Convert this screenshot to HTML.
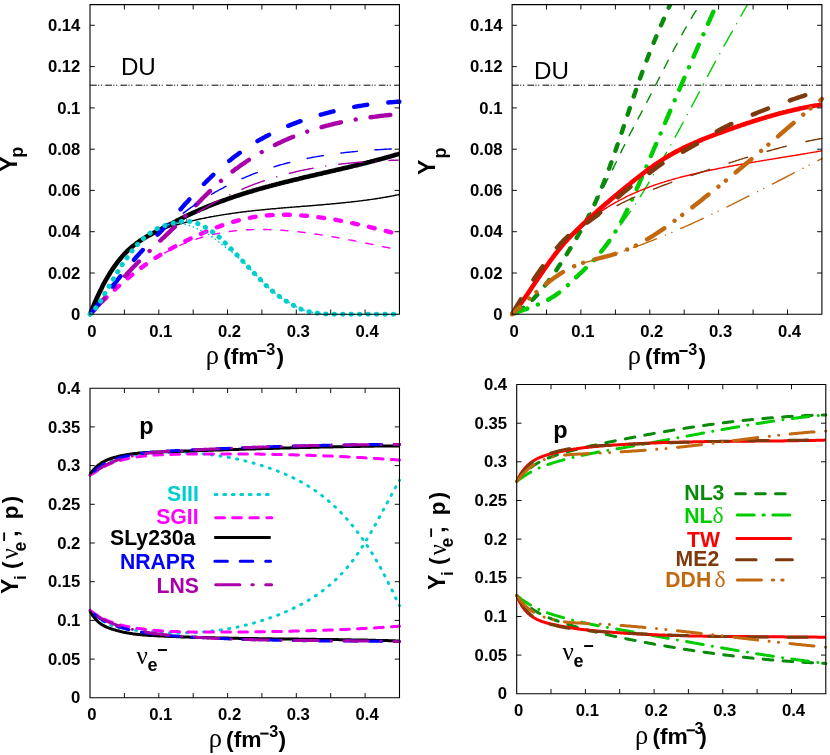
<!DOCTYPE html>
<html>
<head>
<meta charset="utf-8">
<title>Proton fraction and lepton fractions</title>
<style>
html, body { margin: 0; padding: 0; background: #ffffff; }
body { width: 830px; height: 755px; overflow: hidden; font-family: "Liberation Sans", sans-serif; }
svg { display: block; will-change: transform; }
</style>
</head>
<body>
<svg width="830" height="755" viewBox="0 0 830 755" font-family="'Liberation Sans', sans-serif">
<rect width="830" height="755" fill="#ffffff"/>
<clipPath id="c1"><rect x="87.0" y="4.7" width="315.4" height="312.7"/></clipPath>
<clipPath id="c2"><rect x="509.1" y="4.7" width="315.8" height="312.7"/></clipPath>
<clipPath id="c3"><rect x="87.0" y="388.2" width="315.5" height="312.6"/></clipPath>
<clipPath id="c4"><rect x="513.7" y="384.5" width="315.1" height="312.3"/></clipPath>
<g clip-path="url(#c1)">
<path d="M90.0 85.2H399.4" stroke="#000" stroke-width="1" stroke-dasharray="6.7 1.4 1.1 1.7 1.1 3.2" fill="none"/>
<path d="M158.8 230.5L159.8 230.1L160.8 229.8L161.8 229.4L162.8 229.1L163.8 228.8L164.8 228.5L165.8 228.1L166.8 227.8L167.8 227.5L168.8 227.2L169.8 226.9L170.9 226.6L171.9 226.2L172.9 225.9L173.9 225.7L174.9 225.4L175.9 225.1L176.9 224.8L177.9 224.5L178.9 224.2L179.9 223.9L180.9 223.7L181.9 223.4L182.9 223.1L183.9 222.9L184.9 222.6L186.0 222.3L187.0 222.1L188.0 221.8L189.0 221.6L190.0 221.3L191.0 221.1L192.0 220.9L193.0 220.6L194.0 220.4L195.0 220.2L196.0 219.9L197.0 219.7L198.0 219.5L199.0 219.3L200.1 219.0L201.1 218.8L202.1 218.6L203.1 218.4L204.1 218.2L205.1 218.0L206.1 217.8L207.1 217.6L208.1 217.4L209.1 217.2L210.1 217.0L211.1 216.8L212.1 216.6L213.1 216.5L214.2 216.3L215.2 216.1L216.2 215.9L217.2 215.7L218.2 215.6L219.2 215.4L220.2 215.2L221.2 215.1L222.2 214.9L223.2 214.7L224.2 214.6L225.2 214.4L226.2 214.3L227.2 214.1L228.3 214.0L229.3 213.8L230.3 213.7L231.3 213.5L232.3 213.4L233.3 213.2L234.3 213.1L235.3 213.0L236.3 212.8L237.3 212.7L238.3 212.5L239.3 212.4L240.3 212.3L241.3 212.2L242.4 212.0L243.4 211.9L244.4 211.8L245.4 211.7L246.4 211.5L247.4 211.4L248.4 211.3L249.4 211.2L250.4 211.1L251.4 211.0L252.4 210.8L253.4 210.7L254.4 210.6L255.4 210.5L256.4 210.4L257.5 210.3L258.5 210.2L259.5 210.1L260.5 210.0L261.5 209.9L262.5 209.8L263.5 209.7L264.5 209.6L265.5 209.5L266.5 209.4L267.5 209.3L268.5 209.2L269.5 209.1L270.5 209.0L271.6 208.9L272.6 208.8L273.6 208.7L274.6 208.7L275.6 208.6L276.6 208.5L277.6 208.4L278.6 208.3L279.6 208.2L280.6 208.1L281.6 208.0L282.6 208.0L283.6 207.9L284.6 207.8L285.7 207.7L286.7 207.6L287.7 207.5L288.7 207.5L289.7 207.4L290.7 207.3L291.7 207.2L292.7 207.1L293.7 207.1L294.7 207.0L295.7 206.9L296.7 206.8L297.7 206.7L298.7 206.7L299.8 206.6L300.8 206.5L301.8 206.4L302.8 206.3L303.8 206.3L304.8 206.2L305.8 206.1L306.8 206.0L307.8 205.9L308.8 205.9L309.8 205.8L310.8 205.7L311.8 205.6L312.8 205.5L313.9 205.4L314.9 205.4L315.9 205.3L316.9 205.2L317.9 205.1L318.9 205.0L319.9 204.9L320.9 204.9L321.9 204.8L322.9 204.7L323.9 204.6L324.9 204.5L325.9 204.4L326.9 204.3L327.9 204.3L329.0 204.2L330.0 204.1L331.0 204.0L332.0 203.9L333.0 203.8L334.0 203.7L335.0 203.6L336.0 203.5L337.0 203.4L338.0 203.3L339.0 203.2L340.0 203.1L341.0 203.0L342.0 202.9L343.1 202.8L344.1 202.7L345.1 202.6L346.1 202.5L347.1 202.4L348.1 202.3L349.1 202.2L350.1 202.1L351.1 202.0L352.1 201.8L353.1 201.7L354.1 201.6L355.1 201.5L356.1 201.4L357.2 201.3L358.2 201.1L359.2 201.0L360.2 200.9L361.2 200.8L362.2 200.6L363.2 200.5L364.2 200.4L365.2 200.2L366.2 200.1L367.2 200.0L368.2 199.8L369.2 199.7L370.2 199.6L371.3 199.4L372.3 199.3L373.3 199.1L374.3 199.0L375.3 198.8L376.3 198.7L377.3 198.5L378.3 198.4L379.3 198.2L380.3 198.0L381.3 197.9L382.3 197.7L383.3 197.5L384.3 197.4L385.4 197.2L386.4 197.0L387.4 196.8L388.4 196.7L389.4 196.5L390.4 196.3L391.4 196.1L392.4 195.9L393.4 195.7L394.4 195.5L395.4 195.3L396.4 195.1L397.4 194.9L398.4 194.7L399.4 194.5" fill="none" stroke="#000000" stroke-width="1.45" stroke-linejoin="round" stroke-linecap="butt"/>
<path d="M90.0 314.3L91.3 311.0L92.6 307.8L93.9 304.8L95.2 301.7L96.5 298.8L97.8 296.0L99.1 293.2L100.4 290.6L101.7 288.0L102.9 285.4L104.2 283.0L105.5 280.6L106.8 278.4L108.1 276.1L109.4 274.0L110.7 271.9L112.0 269.9L113.3 268.0L114.6 266.1L115.9 264.3L117.2 262.6L118.5 260.9L119.8 259.3L121.1 257.7L122.4 256.2L123.7 254.8L125.0 253.4L126.3 252.1L127.5 250.8L128.8 249.6L130.1 248.4L131.4 247.3L132.7 246.2L134.0 245.2L135.3 244.2L136.6 243.2L137.9 242.3L139.2 241.4L140.5 240.5L141.8 239.7L143.1 238.8L144.4 238.0L145.7 237.3L147.0 236.5L148.3 235.8L149.6 235.1L150.9 234.4L152.1 233.7L153.4 233.0L154.7 232.3L156.0 231.6L157.3 231.0L158.6 230.3L159.9 229.6L161.2 229.0L162.5 228.3L163.8 227.6L165.1 226.9L166.4 226.2L167.7 225.6L169.0 224.9L170.3 224.2L171.6 223.5L172.9 222.9L174.2 222.2L175.5 221.5L176.7 220.8L178.0 220.2L179.3 219.5L180.6 218.9L181.9 218.2L183.2 217.6L184.5 216.9L185.8 216.3L187.1 215.7L188.4 215.0L189.7 214.4L191.0 213.8L192.3 213.2L193.6 212.6L194.9 212.0L196.2 211.4L197.5 210.9L198.8 210.3L200.1 209.7L201.4 209.2L202.6 208.6L203.9 208.1L205.2 207.5L206.5 207.0L207.8 206.4L209.1 205.9L210.4 205.4L211.7 204.9L213.0 204.4L214.3 203.9L215.6 203.4L216.9 202.9L218.2 202.4L219.5 201.9L220.8 201.4L222.1 201.0L223.4 200.5L224.7 200.0L226.0 199.6L227.2 199.1L228.5 198.6L229.8 198.2L231.1 197.8L232.4 197.3L233.7 196.9L235.0 196.4L236.3 196.0L237.6 195.6L238.9 195.2L240.2 194.8L241.5 194.3L242.8 193.9L244.1 193.5L245.4 193.1L246.7 192.7L248.0 192.3L249.3 191.9L250.6 191.5L251.8 191.2L253.1 190.8L254.4 190.4L255.7 190.0L257.0 189.6L258.3 189.3L259.6 188.9L260.9 188.5L262.2 188.2L263.5 187.8L264.8 187.4L266.1 187.1L267.4 186.7L268.7 186.4L270.0 186.0L271.3 185.7L272.6 185.3L273.9 185.0L275.2 184.7L276.4 184.3L277.7 184.0L279.0 183.7L280.3 183.3L281.6 183.0L282.9 182.7L284.2 182.3L285.5 182.0L286.8 181.7L288.1 181.4L289.4 181.1L290.7 180.7L292.0 180.4L293.3 180.1L294.6 179.8L295.9 179.5L297.2 179.2L298.5 178.9L299.8 178.5L301.0 178.2L302.3 177.9L303.6 177.6L304.9 177.3L306.2 177.0L307.5 176.7L308.8 176.4L310.1 176.1L311.4 175.8L312.7 175.5L314.0 175.2L315.3 174.9L316.6 174.6L317.9 174.3L319.2 174.0L320.5 173.7L321.8 173.4L323.1 173.1L324.4 172.8L325.6 172.5L326.9 172.2L328.2 171.9L329.5 171.6L330.8 171.3L332.1 171.0L333.4 170.7L334.7 170.4L336.0 170.1L337.3 169.8L338.6 169.5L339.9 169.2L341.2 168.9L342.5 168.6L343.8 168.3L345.1 168.0L346.4 167.7L347.7 167.4L349.0 167.1L350.2 166.8L351.5 166.5L352.8 166.1L354.1 165.8L355.4 165.5L356.7 165.2L358.0 164.9L359.3 164.6L360.6 164.3L361.9 163.9L363.2 163.6L364.5 163.3L365.8 163.0L367.1 162.6L368.4 162.3L369.7 162.0L371.0 161.6L372.3 161.3L373.6 161.0L374.8 160.6L376.1 160.3L377.4 159.9L378.7 159.6L380.0 159.2L381.3 158.9L382.6 158.5L383.9 158.2L385.2 157.8L386.5 157.5L387.8 157.1L389.1 156.7L390.4 156.4L391.7 156.0L393.0 155.6L394.3 155.2L395.6 154.8L396.9 154.5L398.2 154.1L399.4 153.7" fill="none" stroke="#000000" stroke-width="4.6000000000000005" stroke-linejoin="round" stroke-linecap="butt"/>
<path d="M162.8 254.0L163.7 253.5L164.7 252.9L165.7 252.4L166.7 251.8L167.7 251.3L168.7 250.8L169.7 250.3L170.7 249.8L171.7 249.3L172.7 248.8L173.6 248.3L174.6 247.8L175.6 247.3L176.6 246.9L177.6 246.4L178.6 246.0L179.6 245.5L180.6 245.1L181.6 244.7L182.6 244.2L183.6 243.8L184.5 243.4L185.5 243.0L186.5 242.6L187.5 242.2L188.5 241.9L189.5 241.5L190.5 241.1L191.5 240.8L192.5 240.4L193.5 240.1L194.4 239.7L195.4 239.4L196.4 239.1L197.4 238.7L198.4 238.4L199.4 238.1L200.4 237.8L201.4 237.5L202.4 237.2L203.4 236.9L204.4 236.7L205.3 236.4L206.3 236.1L207.3 235.9L208.3 235.6L209.3 235.4L210.3 235.1L211.3 234.9L212.3 234.6L213.3 234.4L214.3 234.2L215.2 234.0L216.2 233.8L217.2 233.6L218.2 233.4L219.2 233.2L220.2 233.0L221.2 232.8L222.2 232.6L223.2 232.5L224.2 232.3L225.1 232.1L226.1 232.0L227.1 231.8L228.1 231.7L229.1 231.6L230.1 231.4L231.1 231.3L232.1 231.2L233.1 231.0L234.1 230.9L235.1 230.8L236.0 230.7L237.0 230.6L238.0 230.5L239.0 230.4L240.0 230.3L241.0 230.2L242.0 230.2L243.0 230.1L244.0 230.0L245.0 230.0L245.9 229.9L246.9 229.8L247.9 229.8L248.9 229.7L249.9 229.7L250.9 229.7L251.9 229.6L252.9 229.6L253.9 229.6L254.9 229.5L255.8 229.5L256.8 229.5L257.8 229.5L258.8 229.5L259.8 229.5L260.8 229.5L261.8 229.5L262.8 229.5L263.8 229.5L264.8 229.5L265.8 229.5L266.7 229.5L267.7 229.6L268.7 229.6L269.7 229.6L270.7 229.7L271.7 229.7L272.7 229.7L273.7 229.8L274.7 229.8L275.7 229.9L276.6 229.9L277.6 230.0L278.6 230.1L279.6 230.1L280.6 230.2L281.6 230.3L282.6 230.3L283.6 230.4L284.6 230.5L285.6 230.6L286.5 230.6L287.5 230.7L288.5 230.8L289.5 230.9L290.5 231.0L291.5 231.1L292.5 231.2L293.5 231.3L294.5 231.4L295.5 231.5L296.5 231.6L297.4 231.7L298.4 231.8L299.4 231.9L300.4 232.0L301.4 232.2L302.4 232.3L303.4 232.4L304.4 232.5L305.4 232.6L306.4 232.8L307.3 232.9L308.3 233.0L309.3 233.2L310.3 233.3L311.3 233.4L312.3 233.6L313.3 233.7L314.3 233.9L315.3 234.0L316.3 234.2L317.3 234.3L318.2 234.4L319.2 234.6L320.2 234.8L321.2 234.9L322.2 235.1L323.2 235.2L324.2 235.4L325.2 235.5L326.2 235.7L327.2 235.9L328.1 236.0L329.1 236.2L330.1 236.4L331.1 236.5L332.1 236.7L333.1 236.9L334.1 237.0L335.1 237.2L336.1 237.4L337.1 237.6L338.0 237.7L339.0 237.9L340.0 238.1L341.0 238.3L342.0 238.5L343.0 238.6L344.0 238.8L345.0 239.0L346.0 239.2L347.0 239.4L348.0 239.6L348.9 239.8L349.9 240.0L350.9 240.1L351.9 240.3L352.9 240.5L353.9 240.7L354.9 240.9L355.9 241.1L356.9 241.3L357.9 241.5L358.8 241.7L359.8 241.9L360.8 242.1L361.8 242.3L362.8 242.5L363.8 242.7L364.8 242.9L365.8 243.1L366.8 243.3L367.8 243.5L368.7 243.7L369.7 243.9L370.7 244.1L371.7 244.3L372.7 244.5L373.7 244.7L374.7 244.9L375.7 245.1L376.7 245.3L377.7 245.5L378.7 245.7L379.6 246.0L380.6 246.2L381.6 246.4L382.6 246.6L383.6 246.8L384.6 247.0L385.6 247.2L386.6 247.4L387.6 247.6L388.6 247.8L389.5 248.0L390.5 248.2L391.5 248.4L392.5 248.6L393.5 248.8L394.5 249.0L395.5 249.2L396.5 249.4L397.5 249.7L398.5 249.9L399.4 250.1" fill="none" stroke="#ff00ff" stroke-width="1.45" stroke-linejoin="round" stroke-dasharray="7.15 10.05" stroke-linecap="round" stroke-dashoffset="-2"/>
<path d="M90.0 314.3L91.3 312.9L92.6 311.6L93.9 310.2L95.2 308.9L96.5 307.5L97.8 306.2L99.1 304.9L100.4 303.6L101.7 302.2L102.9 301.0L104.2 299.7L105.5 298.4L106.8 297.1L108.1 295.9L109.4 294.6L110.7 293.4L112.0 292.2L113.3 291.0L114.6 289.8L115.9 288.6L117.2 287.4L118.5 286.3L119.8 285.1L121.1 284.0L122.4 282.8L123.7 281.7L125.0 280.6L126.3 279.5L127.5 278.4L128.8 277.4L130.1 276.3L131.4 275.3L132.7 274.2L134.0 273.2L135.3 272.2L136.6 271.2L137.9 270.2L139.2 269.2L140.5 268.3L141.8 267.3L143.1 266.4L144.4 265.4L145.7 264.5L147.0 263.6L148.3 262.7L149.6 261.8L150.9 261.0L152.1 260.1L153.4 259.3L154.7 258.4L156.0 257.6L157.3 256.8L158.6 256.0L159.9 255.2L161.2 254.4L162.5 253.6L163.8 252.8L165.1 252.0L166.4 251.3L167.7 250.5L169.0 249.8L170.3 249.1L171.6 248.4L172.9 247.6L174.2 246.9L175.5 246.2L176.7 245.6L178.0 244.9L179.3 244.2L180.6 243.5L181.9 242.9L183.2 242.2L184.5 241.6L185.8 240.9L187.1 240.3L188.4 239.7L189.7 239.0L191.0 238.4L192.3 237.8L193.6 237.2L194.9 236.6L196.2 236.0L197.5 235.4L198.8 234.8L200.1 234.2L201.4 233.7L202.6 233.1L203.9 232.5L205.2 232.0L206.5 231.4L207.8 230.9L209.1 230.4L210.4 229.8L211.7 229.3L213.0 228.8L214.3 228.3L215.6 227.8L216.9 227.3L218.2 226.8L219.5 226.4L220.8 225.9L222.1 225.4L223.4 225.0L224.7 224.6L226.0 224.1L227.2 223.7L228.5 223.3L229.8 222.9L231.1 222.5L232.4 222.1L233.7 221.7L235.0 221.3L236.3 221.0L237.6 220.6L238.9 220.3L240.2 220.0L241.5 219.6L242.8 219.3L244.1 219.0L245.4 218.7L246.7 218.5L248.0 218.2L249.3 217.9L250.6 217.7L251.8 217.4L253.1 217.2L254.4 217.0L255.7 216.8L257.0 216.6L258.3 216.4L259.6 216.3L260.9 216.1L262.2 215.9L263.5 215.8L264.8 215.7L266.1 215.5L267.4 215.4L268.7 215.3L270.0 215.2L271.3 215.1L272.6 215.1L273.9 215.0L275.2 214.9L276.4 214.9L277.7 214.8L279.0 214.8L280.3 214.8L281.6 214.8L282.9 214.8L284.2 214.7L285.5 214.8L286.8 214.8L288.1 214.8L289.4 214.8L290.7 214.9L292.0 214.9L293.3 214.9L294.6 215.0L295.9 215.1L297.2 215.1L298.5 215.2L299.8 215.3L301.0 215.4L302.3 215.5L303.6 215.6L304.9 215.7L306.2 215.8L307.5 215.9L308.8 216.1L310.1 216.2L311.4 216.3L312.7 216.5L314.0 216.6L315.3 216.8L316.6 216.9L317.9 217.1L319.2 217.3L320.5 217.5L321.8 217.6L323.1 217.8L324.4 218.0L325.6 218.2L326.9 218.4L328.2 218.6L329.5 218.8L330.8 219.0L332.1 219.2L333.4 219.5L334.7 219.7L336.0 219.9L337.3 220.2L338.6 220.4L339.9 220.6L341.2 220.9L342.5 221.1L343.8 221.4L345.1 221.6L346.4 221.9L347.7 222.2L349.0 222.4L350.2 222.7L351.5 223.0L352.8 223.2L354.1 223.5L355.4 223.8L356.7 224.1L358.0 224.4L359.3 224.6L360.6 224.9L361.9 225.2L363.2 225.5L364.5 225.8L365.8 226.1L367.1 226.4L368.4 226.7L369.7 227.0L371.0 227.3L372.3 227.7L373.6 228.0L374.8 228.3L376.1 228.6L377.4 228.9L378.7 229.2L380.0 229.5L381.3 229.9L382.6 230.2L383.9 230.5L385.2 230.8L386.5 231.1L387.8 231.5L389.1 231.8L390.4 232.1L391.7 232.4L393.0 232.8L394.3 233.1L395.6 233.4L396.9 233.8L398.2 234.1L399.4 234.4" fill="none" stroke="#ff00ff" stroke-width="4.4" stroke-linejoin="round" stroke-dasharray="5.80 11.40" stroke-linecap="round" stroke-dashoffset="-0.6"/>
<path d="M159.1 241.2L160.1 240.3L161.1 239.5L162.1 238.6L163.1 237.8L164.1 237.0L165.1 236.1L166.1 235.3L167.2 234.5L168.2 233.7L169.2 232.9L170.2 232.1L171.2 231.3L172.2 230.5L173.2 229.8L174.2 229.0L175.2 228.2L176.2 227.5L177.2 226.7L178.2 226.0L179.2 225.2L180.2 224.5L181.2 223.8L182.2 223.0L183.2 222.3L184.3 221.6L185.3 220.9L186.3 220.2L187.3 219.5L188.3 218.8L189.3 218.1L190.3 217.5L191.3 216.8L192.3 216.1L193.3 215.4L194.3 214.8L195.3 214.1L196.3 213.5L197.3 212.8L198.3 212.2L199.3 211.6L200.3 210.9L201.3 210.3L202.4 209.7L203.4 209.1L204.4 208.5L205.4 207.9L206.4 207.3L207.4 206.7L208.4 206.1L209.4 205.5L210.4 204.9L211.4 204.4L212.4 203.8L213.4 203.2L214.4 202.7L215.4 202.1L216.4 201.6L217.4 201.0L218.4 200.5L219.4 200.0L220.5 199.4L221.5 198.9L222.5 198.4L223.5 197.9L224.5 197.4L225.5 196.9L226.5 196.4L227.5 195.9L228.5 195.4L229.5 194.9L230.5 194.4L231.5 193.9L232.5 193.5L233.5 193.0L234.5 192.5L235.5 192.1L236.5 191.6L237.5 191.2L238.6 190.7L239.6 190.3L240.6 189.8L241.6 189.4L242.6 189.0L243.6 188.6L244.6 188.1L245.6 187.7L246.6 187.3L247.6 186.9L248.6 186.5L249.6 186.1L250.6 185.7L251.6 185.3L252.6 184.9L253.6 184.5L254.6 184.1L255.6 183.8L256.7 183.4L257.7 183.0L258.7 182.7L259.7 182.3L260.7 181.9L261.7 181.6L262.7 181.2L263.7 180.9L264.7 180.6L265.7 180.2L266.7 179.9L267.7 179.6L268.7 179.2L269.7 178.9L270.7 178.6L271.7 178.3L272.7 178.0L273.7 177.7L274.8 177.4L275.8 177.1L276.8 176.8L277.8 176.5L278.8 176.2L279.8 175.9L280.8 175.6L281.8 175.3L282.8 175.0L283.8 174.8L284.8 174.5L285.8 174.2L286.8 174.0L287.8 173.7L288.8 173.4L289.8 173.2L290.8 172.9L291.9 172.7L292.9 172.5L293.9 172.2L294.9 172.0L295.9 171.7L296.9 171.5L297.9 171.3L298.9 171.1L299.9 170.8L300.9 170.6L301.9 170.4L302.9 170.2L303.9 170.0L304.9 169.8L305.9 169.6L306.9 169.4L307.9 169.2L308.9 169.0L310.0 168.8L311.0 168.6L312.0 168.4L313.0 168.2L314.0 168.0L315.0 167.8L316.0 167.7L317.0 167.5L318.0 167.3L319.0 167.1L320.0 167.0L321.0 166.8L322.0 166.6L323.0 166.5L324.0 166.3L325.0 166.2L326.0 166.0L327.0 165.9L328.1 165.7L329.1 165.6L330.1 165.4L331.1 165.3L332.1 165.2L333.1 165.0L334.1 164.9L335.1 164.8L336.1 164.6L337.1 164.5L338.1 164.4L339.1 164.3L340.1 164.1L341.1 164.0L342.1 163.9L343.1 163.8L344.1 163.7L345.1 163.6L346.2 163.5L347.2 163.4L348.2 163.3L349.2 163.2L350.2 163.1L351.2 163.0L352.2 162.9L353.2 162.8L354.2 162.7L355.2 162.6L356.2 162.5L357.2 162.4L358.2 162.3L359.2 162.2L360.2 162.2L361.2 162.1L362.2 162.0L363.2 161.9L364.3 161.8L365.3 161.8L366.3 161.7L367.3 161.6L368.3 161.6L369.3 161.5L370.3 161.4L371.3 161.4L372.3 161.3L373.3 161.2L374.3 161.2L375.3 161.1L376.3 161.1L377.3 161.0L378.3 160.9L379.3 160.9L380.3 160.8L381.3 160.8L382.4 160.7L383.4 160.7L384.4 160.6L385.4 160.6L386.4 160.6L387.4 160.5L388.4 160.5L389.4 160.4L390.4 160.4L391.4 160.3L392.4 160.3L393.4 160.3L394.4 160.2L395.4 160.2L396.4 160.2L397.4 160.1L398.4 160.1L399.4 160.1" fill="none" stroke="#aa00aa" stroke-width="1.45" stroke-linejoin="round" stroke-dasharray="24.05 13.12 0.01 13.12" stroke-linecap="round" stroke-dashoffset="2.5"/>
<path d="M90.0 314.3L91.3 312.9L92.6 311.5L93.9 310.1L95.2 308.6L96.5 307.2L97.8 305.8L99.1 304.4L100.4 303.0L101.7 301.5L102.9 300.1L104.2 298.7L105.5 297.2L106.8 295.8L108.1 294.4L109.4 293.0L110.7 291.5L112.0 290.1L113.3 288.7L114.6 287.3L115.9 285.9L117.2 284.5L118.5 283.0L119.8 281.6L121.1 280.2L122.4 278.8L123.7 277.4L125.0 276.1L126.3 274.7L127.5 273.3L128.8 271.9L130.1 270.6L131.4 269.2L132.7 267.8L134.0 266.5L135.3 265.2L136.6 263.8L137.9 262.5L139.2 261.2L140.5 259.9L141.8 258.6L143.1 257.3L144.4 256.0L145.7 254.7L147.0 253.5L148.3 252.2L149.6 251.0L150.9 249.7L152.1 248.5L153.4 247.2L154.7 246.0L156.0 244.7L157.3 243.5L158.6 242.3L159.9 241.0L161.2 239.8L162.5 238.5L163.8 237.3L165.1 236.1L166.4 234.8L167.7 233.6L169.0 232.3L170.3 231.1L171.6 229.8L172.9 228.5L174.2 227.3L175.5 226.0L176.7 224.7L178.0 223.4L179.3 222.1L180.6 220.8L181.9 219.5L183.2 218.2L184.5 216.8L185.8 215.5L187.1 214.2L188.4 212.9L189.7 211.5L191.0 210.2L192.3 208.9L193.6 207.5L194.9 206.2L196.2 204.9L197.5 203.6L198.8 202.3L200.1 200.9L201.4 199.6L202.6 198.3L203.9 197.0L205.2 195.8L206.5 194.5L207.8 193.2L209.1 191.9L210.4 190.7L211.7 189.5L213.0 188.2L214.3 187.0L215.6 185.8L216.9 184.6L218.2 183.4L219.5 182.3L220.8 181.1L222.1 180.0L223.4 178.9L224.7 177.8L226.0 176.7L227.2 175.7L228.5 174.6L229.8 173.6L231.1 172.6L232.4 171.5L233.7 170.6L235.0 169.6L236.3 168.6L237.6 167.7L238.9 166.7L240.2 165.8L241.5 164.9L242.8 164.0L244.1 163.1L245.4 162.2L246.7 161.3L248.0 160.5L249.3 159.6L250.6 158.8L251.8 158.0L253.1 157.2L254.4 156.4L255.7 155.6L257.0 154.8L258.3 154.0L259.6 153.3L260.9 152.5L262.2 151.8L263.5 151.0L264.8 150.3L266.1 149.6L267.4 148.9L268.7 148.2L270.0 147.5L271.3 146.9L272.6 146.2L273.9 145.5L275.2 144.9L276.4 144.3L277.7 143.6L279.0 143.0L280.3 142.4L281.6 141.8L282.9 141.2L284.2 140.6L285.5 140.0L286.8 139.5L288.1 138.9L289.4 138.4L290.7 137.8L292.0 137.3L293.3 136.8L294.6 136.2L295.9 135.7L297.2 135.2L298.5 134.7L299.8 134.2L301.0 133.8L302.3 133.3L303.6 132.8L304.9 132.4L306.2 131.9L307.5 131.5L308.8 131.0L310.1 130.6L311.4 130.2L312.7 129.8L314.0 129.4L315.3 129.0L316.6 128.6L317.9 128.2L319.2 127.8L320.5 127.4L321.8 127.1L323.1 126.7L324.4 126.3L325.6 126.0L326.9 125.6L328.2 125.3L329.5 125.0L330.8 124.7L332.1 124.3L333.4 124.0L334.7 123.7L336.0 123.4L337.3 123.1L338.6 122.8L339.9 122.5L341.2 122.3L342.5 122.0L343.8 121.7L345.1 121.5L346.4 121.2L347.7 120.9L349.0 120.7L350.2 120.5L351.5 120.2L352.8 120.0L354.1 119.8L355.4 119.5L356.7 119.3L358.0 119.1L359.3 118.9L360.6 118.7L361.9 118.5L363.2 118.3L364.5 118.1L365.8 117.9L367.1 117.7L368.4 117.5L369.7 117.3L371.0 117.2L372.3 117.0L373.6 116.8L374.8 116.6L376.1 116.5L377.4 116.3L378.7 116.2L380.0 116.0L381.3 115.9L382.6 115.7L383.9 115.6L385.2 115.4L386.5 115.3L387.8 115.2L389.1 115.0L390.4 114.9L391.7 114.8L393.0 114.6L394.3 114.5L395.6 114.4L396.9 114.3L398.2 114.2L399.4 114.1" fill="none" stroke="#aa00aa" stroke-width="4.4" stroke-linejoin="round" stroke-dasharray="20.00 15.00 0.01 15.00" stroke-linecap="round" stroke-dashoffset="-2"/>
<path d="M156.1 235.6L157.1 234.7L158.1 233.8L159.1 232.9L160.2 232.0L161.2 231.1L162.2 230.2L163.2 229.3L164.2 228.4L165.2 227.5L166.3 226.6L167.3 225.8L168.3 224.9L169.3 224.1L170.3 223.2L171.4 222.4L172.4 221.6L173.4 220.7L174.4 219.9L175.4 219.1L176.5 218.3L177.5 217.5L178.5 216.7L179.5 215.9L180.5 215.2L181.5 214.4L182.6 213.6L183.6 212.9L184.6 212.1L185.6 211.4L186.6 210.6L187.7 209.9L188.7 209.2L189.7 208.4L190.7 207.7L191.7 207.0L192.7 206.3L193.8 205.6L194.8 204.9L195.8 204.2L196.8 203.5L197.8 202.9L198.9 202.2L199.9 201.5L200.9 200.9L201.9 200.2L202.9 199.6L203.9 198.9L205.0 198.3L206.0 197.6L207.0 197.0L208.0 196.4L209.0 195.8L210.1 195.2L211.1 194.6L212.1 194.0L213.1 193.4L214.1 192.8L215.1 192.2L216.2 191.6L217.2 191.1L218.2 190.5L219.2 189.9L220.2 189.4L221.3 188.8L222.3 188.3L223.3 187.8L224.3 187.2L225.3 186.7L226.3 186.2L227.4 185.6L228.4 185.1L229.4 184.6L230.4 184.1L231.4 183.6L232.5 183.1L233.5 182.6L234.5 182.2L235.5 181.7L236.5 181.2L237.5 180.7L238.6 180.3L239.6 179.8L240.6 179.3L241.6 178.9L242.6 178.4L243.7 178.0L244.7 177.6L245.7 177.1L246.7 176.7L247.7 176.3L248.7 175.9L249.8 175.4L250.8 175.0L251.8 174.6L252.8 174.2L253.8 173.8L254.9 173.4L255.9 173.0L256.9 172.7L257.9 172.3L258.9 171.9L259.9 171.5L261.0 171.2L262.0 170.8L263.0 170.4L264.0 170.1L265.0 169.7L266.1 169.4L267.1 169.0L268.1 168.7L269.1 168.4L270.1 168.0L271.1 167.7L272.2 167.4L273.2 167.1L274.2 166.8L275.2 166.4L276.2 166.1L277.3 165.8L278.3 165.5L279.3 165.2L280.3 164.9L281.3 164.6L282.3 164.4L283.4 164.1L284.4 163.8L285.4 163.5L286.4 163.3L287.4 163.0L288.5 162.7L289.5 162.5L290.5 162.2L291.5 161.9L292.5 161.7L293.6 161.4L294.6 161.2L295.6 161.0L296.6 160.7L297.6 160.5L298.6 160.2L299.7 160.0L300.7 159.8L301.7 159.6L302.7 159.3L303.7 159.1L304.8 158.9L305.8 158.7L306.8 158.5L307.8 158.3L308.8 158.1L309.8 157.9L310.9 157.7L311.9 157.5L312.9 157.3L313.9 157.1L314.9 156.9L316.0 156.8L317.0 156.6L318.0 156.4L319.0 156.2L320.0 156.1L321.0 155.9L322.1 155.7L323.1 155.6L324.1 155.4L325.1 155.2L326.1 155.1L327.2 154.9L328.2 154.8L329.2 154.6L330.2 154.5L331.2 154.3L332.2 154.2L333.3 154.0L334.3 153.9L335.3 153.8L336.3 153.6L337.3 153.5L338.4 153.4L339.4 153.2L340.4 153.1L341.4 153.0L342.4 152.9L343.4 152.8L344.5 152.6L345.5 152.5L346.5 152.4L347.5 152.3L348.5 152.2L349.6 152.1L350.6 152.0L351.6 151.9L352.6 151.8L353.6 151.7L354.6 151.6L355.7 151.5L356.7 151.4L357.7 151.3L358.7 151.2L359.7 151.1L360.8 151.0L361.8 150.9L362.8 150.8L363.8 150.8L364.8 150.7L365.8 150.6L366.9 150.5L367.9 150.4L368.9 150.3L369.9 150.3L370.9 150.2L372.0 150.1L373.0 150.0L374.0 150.0L375.0 149.9L376.0 149.8L377.0 149.8L378.1 149.7L379.1 149.6L380.1 149.6L381.1 149.5L382.1 149.4L383.2 149.4L384.2 149.3L385.2 149.3L386.2 149.2L387.2 149.1L388.2 149.1L389.3 149.0L390.3 149.0L391.3 148.9L392.3 148.9L393.3 148.8L394.4 148.8L395.4 148.7L396.4 148.6L397.4 148.6L398.4 148.5L399.4 148.5" fill="none" stroke="#0000ff" stroke-width="1.45" stroke-linejoin="round" stroke-dasharray="16.35 17.85" stroke-linecap="round" stroke-dashoffset="-1"/>
<path d="M90.0 314.3L91.3 312.7L92.6 311.1L93.9 309.5L95.2 308.0L96.5 306.3L97.8 304.7L99.1 303.1L100.4 301.5L101.7 299.9L102.9 298.3L104.2 296.6L105.5 295.0L106.8 293.4L108.1 291.7L109.4 290.1L110.7 288.5L112.0 286.8L113.3 285.2L114.6 283.6L115.9 282.0L117.2 280.3L118.5 278.7L119.8 277.1L121.1 275.5L122.4 273.9L123.7 272.3L125.0 270.7L126.3 269.1L127.5 267.5L128.8 266.0L130.1 264.4L131.4 262.9L132.7 261.3L134.0 259.8L135.3 258.3L136.6 256.8L137.9 255.3L139.2 253.9L140.5 252.4L141.8 251.0L143.1 249.6L144.4 248.2L145.7 246.9L147.0 245.5L148.3 244.2L149.6 242.9L150.9 241.6L152.1 240.3L153.4 239.0L154.7 237.7L156.0 236.4L157.3 235.0L158.6 233.7L159.9 232.3L161.2 230.9L162.5 229.5L163.8 228.1L165.1 226.7L166.4 225.3L167.7 223.8L169.0 222.4L170.3 220.9L171.6 219.5L172.9 218.0L174.2 216.6L175.5 215.1L176.7 213.6L178.0 212.1L179.3 210.7L180.6 209.2L181.9 207.7L183.2 206.3L184.5 204.8L185.8 203.3L187.1 201.9L188.4 200.5L189.7 199.0L191.0 197.6L192.3 196.2L193.6 194.8L194.9 193.4L196.2 192.0L197.5 190.6L198.8 189.3L200.1 187.9L201.4 186.6L202.6 185.3L203.9 184.0L205.2 182.7L206.5 181.4L207.8 180.1L209.1 178.8L210.4 177.6L211.7 176.3L213.0 175.1L214.3 173.9L215.6 172.7L216.9 171.5L218.2 170.3L219.5 169.2L220.8 168.0L222.1 166.9L223.4 165.8L224.7 164.7L226.0 163.6L227.2 162.5L228.5 161.4L229.8 160.4L231.1 159.4L232.4 158.3L233.7 157.3L235.0 156.3L236.3 155.4L237.6 154.4L238.9 153.4L240.2 152.5L241.5 151.6L242.8 150.7L244.1 149.8L245.4 148.9L246.7 148.0L248.0 147.2L249.3 146.3L250.6 145.5L251.8 144.6L253.1 143.8L254.4 143.0L255.7 142.2L257.0 141.5L258.3 140.7L259.6 139.9L260.9 139.2L262.2 138.5L263.5 137.8L264.8 137.0L266.1 136.3L267.4 135.7L268.7 135.0L270.0 134.3L271.3 133.6L272.6 133.0L273.9 132.4L275.2 131.7L276.4 131.1L277.7 130.5L279.0 129.9L280.3 129.3L281.6 128.7L282.9 128.2L284.2 127.6L285.5 127.0L286.8 126.5L288.1 125.9L289.4 125.4L290.7 124.9L292.0 124.4L293.3 123.9L294.6 123.4L295.9 122.9L297.2 122.4L298.5 121.9L299.8 121.4L301.0 121.0L302.3 120.5L303.6 120.1L304.9 119.6L306.2 119.2L307.5 118.8L308.8 118.3L310.1 117.9L311.4 117.5L312.7 117.1L314.0 116.7L315.3 116.3L316.6 115.9L317.9 115.5L319.2 115.2L320.5 114.8L321.8 114.4L323.1 114.1L324.4 113.7L325.6 113.4L326.9 113.0L328.2 112.7L329.5 112.3L330.8 112.0L332.1 111.7L333.4 111.4L334.7 111.0L336.0 110.7L337.3 110.4L338.6 110.1L339.9 109.8L341.2 109.5L342.5 109.3L343.8 109.0L345.1 108.7L346.4 108.4L347.7 108.2L349.0 107.9L350.2 107.7L351.5 107.4L352.8 107.2L354.1 106.9L355.4 106.7L356.7 106.5L358.0 106.2L359.3 106.0L360.6 105.8L361.9 105.6L363.2 105.4L364.5 105.2L365.8 105.0L367.1 104.8L368.4 104.6L369.7 104.5L371.0 104.3L372.3 104.1L373.6 103.9L374.8 103.8L376.1 103.6L377.4 103.5L378.7 103.3L380.0 103.2L381.3 103.1L382.6 102.9L383.9 102.8L385.2 102.7L386.5 102.6L387.8 102.5L389.1 102.4L390.4 102.3L391.7 102.2L393.0 102.1L394.3 102.0L395.6 101.9L396.9 101.8L398.2 101.7L399.4 101.7" fill="none" stroke="#0000ff" stroke-width="4.4" stroke-linejoin="round" stroke-dasharray="13.20 21.20" stroke-linecap="round" stroke-dashoffset="-1.2"/>
<path d="M168.7 224.5L169.2 224.3L169.8 224.1L170.4 223.9L171.0 223.7L171.6 223.6L172.1 223.4L172.7 223.3L173.3 223.2L173.9 223.1L174.5 223.0L175.0 222.9L175.6 222.9L176.2 222.9L176.8 222.9L177.3 222.9L177.9 222.9L178.5 222.9L179.1 223.0L179.7 223.1L180.2 223.2L180.8 223.3L181.4 223.5L182.0 223.6L182.6 223.7L183.1 223.9L183.7 224.0L184.3 224.2L184.9 224.3L185.4 224.5L186.0 224.6L186.6 224.8L187.2 224.9L187.8 225.1L188.3 225.3L188.9 225.4L189.5 225.6L190.1 225.8L190.6 226.0L191.2 226.2L191.8 226.5L192.4 226.7L193.0 226.9L193.5 227.1L194.1 227.3L194.7 227.5L195.3 227.8L195.9 228.0L196.4 228.3L197.0 228.5L197.6 228.8L198.2 229.1L198.7 229.3L199.3 229.6L199.9 229.9L200.5 230.2L201.1 230.5L201.6 230.7L202.2 231.0L202.8 231.3L203.4 231.6L204.0 231.9L204.5 232.2L205.1 232.6L205.7 232.9L206.3 233.2L206.8 233.5L207.4 233.9L208.0 234.2L208.6 234.6L209.2 235.0L209.7 235.3L210.3 235.7L210.9 236.1L211.5 236.5L212.0 236.9L212.6 237.3L213.2 237.8L213.8 238.2L214.4 238.6L214.9 239.1L215.5 239.5L216.1 239.9L216.7 240.4L217.3 240.8L217.8 241.2L218.4 241.7L219.0 242.1L219.6 242.6L220.1 243.1L220.7 243.5L221.3 244.0L221.9 244.4L222.5 244.9L223.0 245.4L223.6 245.8L224.2 246.3L224.8 246.7L225.4 247.1L225.9 247.6L226.5 248.0L227.1 248.4L227.7 248.8L228.2 249.3L228.8 249.7L229.4 250.1L230.0 250.5L230.6 251.0L231.1 251.4L231.7 251.8L232.3 252.3L232.9 252.7L233.4 253.2L234.0 253.7L234.6 254.2L235.2 254.7L235.8 255.2L236.3 255.7L236.9 256.3L237.5 256.8L238.1 257.4L238.7 258.0L239.2 258.5L239.8 259.1L240.4 259.6L241.0 260.1L241.5 260.6L242.1 261.1L242.7 261.6L243.3 262.1L243.9 262.6L244.4 263.1L245.0 263.6L245.6 264.1L246.2 264.7L246.8 265.3L247.3 265.9L247.9 266.5L248.5 267.1L249.1 267.8L249.6 268.4L250.2 269.1L250.8 269.7L251.4 270.4L252.0 271.0L252.5 271.5L253.1 272.1L253.7 272.7L254.3 273.2L254.9 273.8L255.4 274.3L256.0 274.9L256.6 275.5L257.2 276.0L257.7 276.6L258.3 277.2L258.9 277.8L259.5 278.5L260.1 279.1L260.6 279.8L261.2 280.4L261.8 281.1L262.4 281.7L262.9 282.3L263.5 282.9L264.1 283.5L264.7 284.1L265.3 284.7L265.8 285.2L266.4 285.8L267.0 286.3L267.6 286.9L268.2 287.4L268.7 287.9L269.3 288.4L269.9 288.9L270.5 289.4L271.0 289.9L271.6 290.4L272.2 290.8L272.8 291.3L273.4 291.7L273.9 292.2L274.5 292.6L275.1 293.1L275.7 293.5L276.3 294.0L276.8 294.4L277.4 294.9L278.0 295.3L278.6 295.8L279.1 296.2L279.7 296.7L280.3 297.1L280.9 297.6L281.5 298.0L282.0 298.4L282.6 298.8L283.2 299.2L283.8 299.6L284.3 299.9L284.9 300.3L285.5 300.7L286.1 301.0L286.7 301.3L287.2 301.7L287.8 302.0L288.4 302.3L289.0 302.6L289.6 303.0L290.1 303.3L290.7 303.6L291.3 304.0L291.9 304.3L292.4 304.7L293.0 305.0L293.6 305.3L294.2 305.7L294.8 306.0L295.3 306.4L295.9 306.7L296.5 307.0L297.1 307.3L297.7 307.6L298.2 307.9L298.8 308.1L299.4 308.4L300.0 308.7L300.5 308.9L301.1 309.2L301.7 309.4L302.3 309.7L302.9 309.9L303.4 310.1L304.0 310.3L304.6 310.5L305.2 310.7L305.7 310.9L306.3 311.0L306.9 311.2L307.5 311.3L308.1 311.5L308.6 311.6L309.2 311.7L309.8 311.9L310.4 312.0L311.0 312.1L311.5 312.2L312.1 312.3L312.7 312.4L313.3 312.5L313.8 312.6L314.4 312.7L315.0 312.8L315.6 312.8L316.2 312.9L316.7 313.0L317.3 313.1L317.9 313.2L318.5 313.2L319.1 313.3L319.6 313.4L320.2 313.4L320.8 313.5L321.4 313.6L321.9 313.6L322.5 313.7L323.1 313.7L323.7 313.8L324.3 313.8L324.8 313.9L325.4 314.0L326.0 314.0L326.6 314.1L327.2 314.1L327.7 314.2L328.3 314.2L328.9 314.3L329.5 314.3L330.0 314.3L330.6 314.3L331.2 314.3L331.8 314.3L332.4 314.3L332.9 314.3L333.5 314.3L334.1 314.3L334.7 314.3L335.2 314.3L335.8 314.3L336.4 314.3L337.0 314.3L337.6 314.3L338.1 314.3L338.7 314.3L339.3 314.3L339.9 314.3L340.5 314.3L341.0 314.3L341.6 314.3L342.2 314.3L342.8 314.3L343.3 314.3L343.9 314.3L344.5 314.3L345.1 314.3L345.7 314.3L346.2 314.3L346.8 314.3L347.4 314.3L348.0 314.3L348.6 314.3L349.1 314.3L349.7 314.3L350.3 314.3L350.9 314.3L351.4 314.3L352.0 314.3L352.6 314.3L353.2 314.3L353.8 314.3L354.3 314.3L354.9 314.3L355.5 314.3L356.1 314.3L356.6 314.3L357.2 314.3L357.8 314.3L358.4 314.3L359.0 314.3L359.5 314.3L360.1 314.3L360.7 314.3L361.3 314.3L361.9 314.3L362.4 314.3L363.0 314.3L363.6 314.3L364.2 314.3L364.7 314.3L365.3 314.3L365.9 314.3L366.5 314.3L367.1 314.3L367.6 314.3L368.2 314.3L368.8 314.3L369.4 314.3L370.0 314.3L370.5 314.3L371.1 314.3L371.7 314.3L372.3 314.3L372.8 314.3L373.4 314.3L374.0 314.3L374.6 314.3L375.2 314.3L375.7 314.3L376.3 314.3L376.9 314.3L377.5 314.3L378.0 314.3L378.6 314.3L379.2 314.3L379.8 314.3L380.4 314.3L380.9 314.3L381.5 314.3L382.1 314.3L382.7 314.3L383.3 314.3L383.8 314.3L384.4 314.3L385.0 314.3L385.6 314.3L386.1 314.3L386.7 314.3L387.3 314.3L387.9 314.3L388.5 314.3L389.0 314.3L389.6 314.3L390.2 314.3L390.8 314.3L391.4 314.3L391.9 314.3L392.5 314.3L393.1 314.3L393.7 314.3L394.2 314.3L394.8 314.3L395.4 314.3L396.0 314.3L396.6 314.3L397.1 314.3L397.7 314.3L398.3 314.3L398.9 314.3L399.4 314.3" fill="none" stroke="#00cdcd" stroke-width="1.7" stroke-linejoin="round" stroke-dasharray="0.01 4.23" stroke-linecap="round"/>
<path d="M90.0 314.3L90.6 313.7L91.2 313.1L91.9 312.5L92.5 311.8L93.1 311.2L93.7 310.5L94.3 309.7L95.0 309.0L95.6 308.2L96.2 307.4L96.8 306.6L97.4 305.8L98.1 304.9L98.7 304.0L99.3 303.1L99.9 302.1L100.5 301.1L101.2 300.0L101.8 299.0L102.4 297.9L103.0 296.8L103.6 295.7L104.3 294.6L104.9 293.5L105.5 292.4L106.1 291.3L106.7 290.2L107.4 289.2L108.0 288.1L108.6 287.1L109.2 286.0L109.8 285.0L110.5 283.9L111.1 282.8L111.7 281.8L112.3 280.7L112.9 279.7L113.6 278.7L114.2 277.6L114.8 276.6L115.4 275.6L116.0 274.6L116.7 273.5L117.3 272.5L117.9 271.5L118.5 270.5L119.1 269.5L119.8 268.5L120.4 267.5L121.0 266.6L121.6 265.6L122.2 264.6L122.9 263.7L123.5 262.8L124.1 261.8L124.7 260.9L125.3 260.0L126.0 259.2L126.6 258.3L127.2 257.4L127.8 256.5L128.4 255.6L129.1 254.8L129.7 254.0L130.3 253.1L130.9 252.3L131.5 251.5L132.2 250.7L132.8 249.9L133.4 249.2L134.0 248.4L134.7 247.7L135.3 247.0L135.9 246.3L136.5 245.6L137.1 244.9L137.8 244.2L138.4 243.5L139.0 242.8L139.6 242.2L140.2 241.5L140.9 240.9L141.5 240.3L142.1 239.7L142.7 239.1L143.3 238.5L144.0 237.9L144.6 237.4L145.2 236.9L145.8 236.4L146.4 235.9L147.1 235.4L147.7 234.9L148.3 234.4L148.9 234.0L149.5 233.5L150.2 233.1L150.8 232.6L151.4 232.2L152.0 231.8L152.6 231.4L153.3 231.0L153.9 230.6L154.5 230.2L155.1 229.8L155.7 229.4L156.4 229.1L157.0 228.8L157.6 228.4L158.2 228.1L158.8 227.8L159.5 227.5L160.1 227.3L160.7 227.0L161.3 226.8L161.9 226.5L162.6 226.3L163.2 226.1L163.8 225.9L164.4 225.7L165.0 225.5L165.7 225.4L166.3 225.2L166.9 225.0L167.5 224.8L168.1 224.7L168.8 224.5L169.4 224.3L170.0 224.1L170.6 223.9L171.2 223.7L171.9 223.5L172.5 223.4L173.1 223.2L173.7 223.0L174.3 222.8L175.0 222.7L175.6 222.5L176.2 222.4L176.8 222.2L177.4 222.1L178.1 222.0L178.7 221.8L179.3 221.7L179.9 221.6L180.5 221.4L181.2 221.3L181.8 221.2L182.4 221.1L183.0 221.0L183.6 221.0L184.3 220.9L184.9 220.9L185.5 220.9L186.1 220.9L186.7 221.0L187.4 221.0L188.0 221.1L188.6 221.2L189.2 221.4L189.8 221.5L190.5 221.6L191.1 221.8L191.7 221.9L192.3 222.1L192.9 222.2L193.6 222.4L194.2 222.5L194.8 222.7L195.4 222.9L196.0 223.1L196.7 223.3L197.3 223.5L197.9 223.7L198.5 223.9L199.1 224.1L199.8 224.4L200.4 224.6L201.0 224.9L201.6 225.2L202.2 225.5L202.9 225.8L203.5 226.1L204.1 226.5L204.7 226.9L205.3 227.2L206.0 227.7L206.6 228.1L207.2 228.5L207.8 228.9L208.4 229.3L209.1 229.7L209.7 230.1L210.3 230.5L210.9 230.8L211.5 231.2L212.2 231.6L212.8 232.0L213.4 232.4L214.0 232.8L214.6 233.3L215.3 233.7L215.9 234.2L216.5 234.7L217.1 235.2L217.7 235.8L218.4 236.3L219.0 236.9L219.6 237.5L220.2 238.1L220.8 238.8L221.5 239.4L222.1 240.0L222.7 240.6L223.3 241.2L224.0 241.8L224.6 242.4L225.2 243.0L225.8 243.7L226.4 244.3L227.1 244.9L227.7 245.6L228.3 246.2L228.9 246.8L229.5 247.4L230.2 248.0L230.8 248.6L231.4 249.3L232.0 249.9L232.6 250.5L233.3 251.1L233.9 251.7L234.5 252.4L235.1 253.0L235.7 253.7L236.4 254.4L237.0 255.0L237.6 255.7L238.2 256.4L238.8 257.1L239.5 257.8L240.1 258.4L240.7 259.1L241.3 259.7L241.9 260.4L242.6 261.0L243.2 261.6L243.8 262.2L244.4 262.9L245.0 263.5L245.7 264.1L246.3 264.8L246.9 265.5L247.5 266.1L248.1 266.8L248.8 267.5L249.4 268.2L250.0 268.9L250.6 269.5L251.2 270.2L251.9 270.9L252.5 271.5L253.1 272.1L253.7 272.7L254.3 273.3L255.0 273.9L255.6 274.5L256.2 275.1L256.8 275.7L257.4 276.3L258.1 276.9L258.7 277.6L259.3 278.3L259.9 279.0L260.5 279.7L261.2 280.4L261.8 281.1L262.4 281.7L263.0 282.4L263.6 283.1L264.3 283.7L264.9 284.3L265.5 284.9L266.1 285.5L266.7 286.1L267.4 286.7L268.0 287.2L268.6 287.8L269.2 288.3L269.8 288.9L270.5 289.4L271.1 289.9L271.7 290.4L272.3 290.9L272.9 291.4L273.6 291.9L274.2 292.4L274.8 292.9L275.4 293.3L276.0 293.8L276.7 294.3L277.3 294.8L277.9 295.3L278.5 295.8L279.1 296.2L279.8 296.7L280.4 297.2L281.0 297.7L281.6 298.1L282.2 298.6L282.9 299.0L283.5 299.4L284.1 299.8L284.7 300.2L285.3 300.6L286.0 300.9L286.6 301.3L287.2 301.6L287.8 302.0L288.4 302.3L289.1 302.7L289.7 303.0L290.3 303.4L290.9 303.8L291.5 304.1L292.2 304.5L292.8 304.9L293.4 305.2L294.0 305.6L294.6 306.0L295.3 306.3L295.9 306.7L296.5 307.0L297.1 307.3L297.7 307.6L298.4 307.9L299.0 308.2L299.6 308.5L300.2 308.8L300.8 309.1L301.5 309.3L302.1 309.6L302.7 309.8L303.3 310.1L303.9 310.3L304.6 310.5L305.2 310.7L305.8 310.9L306.4 311.1L307.0 311.2L307.7 311.4L308.3 311.5L308.9 311.7L309.5 311.8L310.1 311.9L310.8 312.0L311.4 312.2L312.0 312.3L312.6 312.4L313.3 312.5L313.9 312.6L314.5 312.7L315.1 312.8L315.7 312.9L316.4 313.0L317.0 313.0L317.6 313.1L318.2 313.2L318.8 313.3L319.5 313.3L320.1 313.4L320.7 313.5L321.3 313.5L321.9 313.6L322.6 313.7L323.2 313.7L323.8 313.8L324.4 313.9L325.0 313.9L325.7 314.0L326.3 314.0L326.9 314.1L327.5 314.2L328.1 314.2L328.8 314.2L329.4 314.3L330.0 314.3L330.6 314.3L331.2 314.3L331.9 314.3L332.5 314.3L333.1 314.3L333.7 314.3L334.3 314.3L335.0 314.3L335.6 314.3L336.2 314.3L336.8 314.3L337.4 314.3L338.1 314.3L338.7 314.3L339.3 314.3L339.9 314.3L340.5 314.3L341.2 314.3L341.8 314.3L342.4 314.3L343.0 314.3L343.6 314.3L344.3 314.3L344.9 314.3L345.5 314.3L346.1 314.3L346.7 314.3L347.4 314.3L348.0 314.3L348.6 314.3L349.2 314.3L349.8 314.3L350.5 314.3L351.1 314.3L351.7 314.3L352.3 314.3L352.9 314.3L353.6 314.3L354.2 314.3L354.8 314.3L355.4 314.3L356.0 314.3L356.7 314.3L357.3 314.3L357.9 314.3L358.5 314.3L359.1 314.3L359.8 314.3L360.4 314.3L361.0 314.3L361.6 314.3L362.2 314.3L362.9 314.3L363.5 314.3L364.1 314.3L364.7 314.3L365.3 314.3L366.0 314.3L366.6 314.3L367.2 314.3L367.8 314.3L368.4 314.3L369.1 314.3L369.7 314.3L370.3 314.3L370.9 314.3L371.5 314.3L372.2 314.3L372.8 314.3L373.4 314.3L374.0 314.3L374.6 314.3L375.3 314.3L375.9 314.3L376.5 314.3L377.1 314.3L377.7 314.3L378.4 314.3L379.0 314.3L379.6 314.3L380.2 314.3L380.8 314.3L381.5 314.3L382.1 314.3L382.7 314.3L383.3 314.3L383.9 314.3L384.6 314.3L385.2 314.3L385.8 314.3L386.4 314.3L387.0 314.3L387.7 314.3L388.3 314.3L388.9 314.3L389.5 314.3L390.1 314.3L390.8 314.3L391.4 314.3L392.0 314.3L392.6 314.3L393.2 314.3L393.9 314.3L394.5 314.3L395.1 314.3L395.7 314.3L396.3 314.3L397.0 314.3L397.6 314.3L398.2 314.3L398.8 314.3L399.4 314.3" fill="none" stroke="#00cdcd" stroke-width="4.9" stroke-linejoin="round" stroke-dasharray="0.4 8.06" stroke-linecap="round"/>
</g>
<path d="M124.4 314.3v-4.8M124.4 4.7v4.8M158.8 314.3v-4.8M158.8 4.7v4.8M193.2 314.3v-4.8M193.2 4.7v4.8M227.5 314.3v-4.8M227.5 4.7v4.8M261.9 314.3v-4.8M261.9 4.7v4.8M296.3 314.3v-4.8M296.3 4.7v4.8M330.7 314.3v-4.8M330.7 4.7v4.8M365.1 314.3v-4.8M365.1 4.7v4.8M90.0 273.0h4.8M399.4 273.0h-4.8M90.0 231.7h4.8M399.4 231.7h-4.8M90.0 190.4h4.8M399.4 190.4h-4.8M90.0 149.2h4.8M399.4 149.2h-4.8M90.0 107.9h4.8M399.4 107.9h-4.8M90.0 66.6h4.8M399.4 66.6h-4.8M90.0 25.3h4.8M399.4 25.3h-4.8" stroke="#111" stroke-width="1" fill="none"/><path d="M90.00 4.15V314.80M399.45 4.15V314.80M89.50 4.65H399.95M89.50 314.30H399.95" fill="none" stroke="#000" stroke-width="1.1"/><g font-size="16.7" font-weight="bold" fill="#000"><text x="80.4" y="319.9" text-anchor="end">0</text><text x="80.4" y="278.6" text-anchor="end">0.02</text><text x="80.4" y="237.3" text-anchor="end">0.04</text><text x="80.4" y="196.0" text-anchor="end">0.06</text><text x="80.4" y="154.8" text-anchor="end">0.08</text><text x="80.4" y="113.5" text-anchor="end">0.1</text><text x="80.4" y="72.2" text-anchor="end">0.12</text><text x="80.4" y="30.9" text-anchor="end">0.14</text><text x="92.0" y="336.5" text-anchor="middle">0</text><text x="160.8" y="336.5" text-anchor="middle">0.1</text><text x="229.5" y="336.5" text-anchor="middle">0.2</text><text x="298.3" y="336.5" text-anchor="middle">0.3</text><text x="367.1" y="336.5" text-anchor="middle">0.4</text></g>
<g clip-path="url(#c2)">
<path d="M512.1 85.2H821.9" stroke="#000" stroke-width="1" stroke-dasharray="6.7 1.4 1.1 1.7 1.1 3.2" fill="none"/>
<path d="M586.2 220.4L586.7 219.5L587.2 218.7L587.7 217.8L588.2 216.9L588.7 216.1L589.2 215.2L589.7 214.3L590.1 213.4L590.6 212.5L591.1 211.6L591.6 210.7L592.1 209.8L592.6 208.8L593.1 207.9L593.6 207.0L594.0 206.0L594.5 205.1L595.0 204.2L595.5 203.2L596.0 202.3L596.5 201.3L597.0 200.3L597.5 199.4L597.9 198.4L598.4 197.4L598.9 196.5L599.4 195.5L599.9 194.5L600.4 193.6L600.9 192.6L601.4 191.6L601.9 190.6L602.3 189.7L602.8 188.7L603.3 187.7L603.8 186.7L604.3 185.8L604.8 184.8L605.3 183.8L605.8 182.9L606.2 181.9L606.7 180.9L607.2 180.0L607.7 179.0L608.2 178.0L608.7 177.1L609.2 176.1L609.7 175.2L610.1 174.2L610.6 173.3L611.1 172.3L611.6 171.3L612.1 170.4L612.6 169.4L613.1 168.4L613.6 167.4L614.0 166.5L614.5 165.5L615.0 164.5L615.5 163.5L616.0 162.5L616.5 161.5L617.0 160.4L617.5 159.4L617.9 158.4L618.4 157.4L618.9 156.4L619.4 155.4L619.9 154.4L620.4 153.4L620.9 152.4L621.4 151.4L621.8 150.4L622.3 149.4L622.8 148.4L623.3 147.5L623.8 146.5L624.3 145.5L624.8 144.5L625.3 143.5L625.7 142.5L626.2 141.6L626.7 140.6L627.2 139.6L627.7 138.6L628.2 137.7L628.7 136.7L629.2 135.8L629.6 134.8L630.1 133.8L630.6 132.9L631.1 131.9L631.6 131.0L632.1 130.1L632.6 129.1L633.1 128.2L633.5 127.3L634.0 126.3L634.5 125.4L635.0 124.5L635.5 123.5L636.0 122.6L636.5 121.7L637.0 120.8L637.5 119.9L637.9 118.9L638.4 118.0L638.9 117.1L639.4 116.2L639.9 115.3L640.4 114.4L640.9 113.4L641.4 112.5L641.8 111.6L642.3 110.7L642.8 109.8L643.3 108.9L643.8 107.9L644.3 107.0L644.8 106.1L645.3 105.2L645.7 104.2L646.2 103.3L646.7 102.4L647.2 101.4L647.7 100.5L648.2 99.5L648.7 98.6L649.2 97.7L649.6 96.7L650.1 95.8L650.6 94.8L651.1 93.9L651.6 92.9L652.1 92.0L652.6 91.0L653.1 90.1L653.5 89.1L654.0 88.2L654.5 87.2L655.0 86.3L655.5 85.3L656.0 84.4L656.5 83.4L657.0 82.4L657.4 81.5L657.9 80.5L658.4 79.6L658.9 78.6L659.4 77.7L659.9 76.7L660.4 75.7L660.9 74.8L661.3 73.8L661.8 72.9L662.3 71.9L662.8 71.0L663.3 70.0L663.8 69.1L664.3 68.1L664.8 67.1L665.2 66.2L665.7 65.2L666.2 64.3L666.7 63.3L667.2 62.4L667.7 61.4L668.2 60.5L668.7 59.6L669.1 58.6L669.6 57.7L670.1 56.7L670.6 55.8L671.1 54.8L671.6 53.9L672.1 53.0L672.6 52.0L673.1 51.1L673.5 50.2L674.0 49.3L674.5 48.3L675.0 47.4L675.5 46.5L676.0 45.6L676.5 44.7L677.0 43.7L677.4 42.8L677.9 41.9L678.4 41.0L678.9 40.1L679.4 39.2L679.9 38.3L680.4 37.4L680.9 36.5L681.3 35.6L681.8 34.7L682.3 33.9L682.8 33.0L683.3 32.1L683.8 31.2L684.3 30.4L684.8 29.5L685.2 28.6L685.7 27.8L686.2 26.9L686.7 26.1L687.2 25.2L687.7 24.4L688.2 23.5L688.7 22.7L689.1 21.9L689.6 21.0L690.1 20.2L690.6 19.4L691.1 18.6L691.6 17.8L692.1 17.0L692.6 16.2L693.0 15.4L693.5 14.6L694.0 13.8L694.5 13.0L695.0 12.2L695.5 11.5L696.0 10.7L696.5 9.9L696.9 9.2L697.4 8.4L697.9 7.7L698.4 7.0L698.9 6.2L699.4 5.5L699.9 4.8L700.4 4.0L700.8 3.3L701.3 2.6L701.8 1.9L702.3 1.2L702.8 0.5" fill="none" stroke="#0a8a0a" stroke-width="1.45" stroke-linejoin="round" stroke-dasharray="9.05 9.95" stroke-linecap="round"/>
<path d="M512.1 314.3L512.8 314.0L513.4 313.7L514.1 313.4L514.8 313.1L515.4 312.7L516.1 312.4L516.8 312.0L517.4 311.6L518.1 311.2L518.8 310.8L519.5 310.4L520.1 309.9L520.8 309.5L521.5 309.0L522.1 308.6L522.8 308.1L523.5 307.6L524.1 307.1L524.8 306.5L525.5 306.0L526.1 305.5L526.8 304.9L527.5 304.3L528.1 303.7L528.8 303.2L529.5 302.5L530.1 301.9L530.8 301.3L531.5 300.7L532.1 300.0L532.8 299.4L533.5 298.7L534.2 298.0L534.8 297.3L535.5 296.6L536.2 295.9L536.8 295.2L537.5 294.4L538.2 293.7L538.8 292.9L539.5 292.2L540.2 291.4L540.8 290.6L541.5 289.8L542.2 289.0L542.8 288.2L543.5 287.4L544.2 286.6L544.8 285.7L545.5 284.9L546.2 284.0L546.9 283.2L547.5 282.3L548.2 281.4L548.9 280.5L549.5 279.6L550.2 278.7L550.9 277.8L551.5 276.9L552.2 276.0L552.9 275.0L553.5 274.1L554.2 273.1L554.9 272.2L555.5 271.2L556.2 270.3L556.9 269.3L557.5 268.3L558.2 267.3L558.9 266.3L559.5 265.3L560.2 264.3L560.9 263.3L561.6 262.3L562.2 261.2L562.9 260.2L563.6 259.1L564.2 258.1L564.9 257.1L565.6 256.0L566.2 254.9L566.9 253.9L567.6 252.8L568.2 251.7L568.9 250.6L569.6 249.5L570.2 248.5L570.9 247.4L571.6 246.3L572.2 245.2L572.9 244.0L573.6 242.9L574.3 241.8L574.9 240.7L575.6 239.6L576.3 238.4L576.9 237.3L577.6 236.2L578.3 235.0L578.9 233.9L579.6 232.7L580.3 231.6L580.9 230.4L581.6 229.2L582.3 228.0L582.9 226.8L583.6 225.6L584.3 224.4L584.9 223.2L585.6 222.0L586.3 220.7L586.9 219.5L587.6 218.2L588.3 216.9L589.0 215.6L589.6 214.3L590.3 213.0L591.0 211.7L591.6 210.3L592.3 209.0L593.0 207.6L593.6 206.2L594.3 204.8L595.0 203.3L595.6 201.9L596.3 200.4L597.0 198.9L597.6 197.4L598.3 195.9L599.0 194.3L599.6 192.8L600.3 191.2L601.0 189.6L601.6 187.9L602.3 186.3L603.0 184.6L603.7 182.9L604.3 181.2L605.0 179.5L605.7 177.8L606.3 176.0L607.0 174.2L607.7 172.4L608.3 170.6L609.0 168.8L609.7 167.0L610.3 165.2L611.0 163.3L611.7 161.4L612.3 159.6L613.0 157.7L613.7 155.8L614.3 153.9L615.0 151.9L615.7 150.0L616.4 148.1L617.0 146.1L617.7 144.2L618.4 142.2L619.0 140.3L619.7 138.3L620.4 136.3L621.0 134.3L621.7 132.4L622.4 130.4L623.0 128.4L623.7 126.4L624.4 124.4L625.0 122.4L625.7 120.4L626.4 118.4L627.0 116.4L627.7 114.4L628.4 112.4L629.0 110.4L629.7 108.4L630.4 106.5L631.1 104.5L631.7 102.5L632.4 100.5L633.1 98.5L633.7 96.6L634.4 94.6L635.1 92.7L635.7 90.7L636.4 88.8L637.1 86.8L637.7 84.9L638.4 83.0L639.1 81.1L639.7 79.2L640.4 77.3L641.1 75.5L641.7 73.6L642.4 71.8L643.1 69.9L643.8 68.1L644.4 66.3L645.1 64.5L645.8 62.8L646.4 61.0L647.1 59.3L647.8 57.5L648.4 55.8L649.1 54.1L649.8 52.4L650.4 50.7L651.1 49.1L651.8 47.4L652.4 45.8L653.1 44.1L653.8 42.5L654.4 40.9L655.1 39.3L655.8 37.7L656.4 36.1L657.1 34.5L657.8 32.9L658.5 31.4L659.1 29.8L659.8 28.2L660.5 26.7L661.1 25.1L661.8 23.6L662.5 22.0L663.1 20.5L663.8 19.0L664.5 17.4L665.1 15.9L665.8 14.4L666.5 12.8L667.1 11.3L667.8 9.8L668.5 8.2L669.1 6.7L669.8 5.2L670.5 3.6L671.2 2.1L671.8 0.5" fill="none" stroke="#0a8a0a" stroke-width="4.4" stroke-linejoin="round" stroke-dasharray="7.00 12.10" stroke-linecap="round" stroke-dashoffset="-6"/>
<path d="M599.9 252.6L600.5 251.9L601.1 251.2L601.8 250.5L602.4 249.8L603.0 249.1L603.6 248.3L604.3 247.6L604.9 246.8L605.5 246.0L606.1 245.2L606.8 244.4L607.4 243.5L608.0 242.7L608.6 241.8L609.3 241.0L609.9 240.1L610.5 239.2L611.2 238.3L611.8 237.4L612.4 236.5L613.0 235.6L613.7 234.7L614.3 233.8L614.9 232.9L615.5 232.0L616.2 231.1L616.8 230.2L617.4 229.3L618.0 228.4L618.7 227.5L619.3 226.6L619.9 225.7L620.6 224.8L621.2 224.0L621.8 223.1L622.4 222.2L623.1 221.4L623.7 220.5L624.3 219.7L624.9 218.8L625.6 218.0L626.2 217.2L626.8 216.3L627.4 215.5L628.1 214.6L628.7 213.8L629.3 212.9L629.9 212.1L630.6 211.2L631.2 210.3L631.8 209.4L632.5 208.5L633.1 207.6L633.7 206.7L634.3 205.8L635.0 204.9L635.6 204.0L636.2 203.0L636.8 202.0L637.5 201.1L638.1 200.1L638.7 199.1L639.3 198.1L640.0 197.1L640.6 196.1L641.2 195.1L641.9 194.1L642.5 193.1L643.1 192.1L643.7 191.0L644.4 190.0L645.0 189.0L645.6 187.9L646.2 186.9L646.9 185.9L647.5 184.8L648.1 183.8L648.7 182.7L649.4 181.7L650.0 180.6L650.6 179.6L651.3 178.5L651.9 177.5L652.5 176.4L653.1 175.4L653.8 174.3L654.4 173.3L655.0 172.2L655.6 171.1L656.3 170.1L656.9 169.0L657.5 168.0L658.1 166.9L658.8 165.8L659.4 164.8L660.0 163.7L660.6 162.6L661.3 161.5L661.9 160.4L662.5 159.4L663.2 158.3L663.8 157.2L664.4 156.1L665.0 155.0L665.7 153.9L666.3 152.8L666.9 151.7L667.5 150.6L668.2 149.5L668.8 148.4L669.4 147.3L670.0 146.2L670.7 145.1L671.3 144.0L671.9 142.9L672.6 141.8L673.2 140.6L673.8 139.5L674.4 138.4L675.1 137.2L675.7 136.1L676.3 135.0L676.9 133.8L677.6 132.7L678.2 131.6L678.8 130.4L679.4 129.3L680.1 128.1L680.7 127.0L681.3 125.8L681.9 124.7L682.6 123.5L683.2 122.4L683.8 121.2L684.5 120.0L685.1 118.9L685.7 117.7L686.3 116.5L687.0 115.3L687.6 114.2L688.2 113.0L688.8 111.8L689.5 110.6L690.1 109.5L690.7 108.3L691.3 107.1L692.0 105.9L692.6 104.7L693.2 103.5L693.9 102.3L694.5 101.1L695.1 100.0L695.7 98.8L696.4 97.6L697.0 96.4L697.6 95.2L698.2 94.0L698.9 92.8L699.5 91.6L700.1 90.4L700.7 89.2L701.4 88.0L702.0 86.8L702.6 85.6L703.3 84.5L703.9 83.3L704.5 82.1L705.1 80.9L705.8 79.7L706.4 78.5L707.0 77.3L707.6 76.1L708.3 75.0L708.9 73.8L709.5 72.6L710.1 71.4L710.8 70.2L711.4 69.1L712.0 67.9L712.6 66.7L713.3 65.6L713.9 64.4L714.5 63.2L715.2 62.1L715.8 60.9L716.4 59.8L717.0 58.6L717.7 57.5L718.3 56.3L718.9 55.2L719.5 54.0L720.2 52.9L720.8 51.8L721.4 50.6L722.0 49.5L722.7 48.4L723.3 47.2L723.9 46.1L724.6 45.0L725.2 43.9L725.8 42.8L726.4 41.6L727.1 40.5L727.7 39.4L728.3 38.3L728.9 37.2L729.6 36.1L730.2 35.0L730.8 33.9L731.4 32.8L732.1 31.6L732.7 30.5L733.3 29.4L734.0 28.3L734.6 27.2L735.2 26.1L735.8 25.0L736.5 23.9L737.1 22.8L737.7 21.7L738.3 20.6L739.0 19.5L739.6 18.4L740.2 17.3L740.8 16.2L741.5 15.1L742.1 14.0L742.7 12.8L743.3 11.7L744.0 10.6L744.6 9.5L745.2 8.4L745.9 7.3L746.5 6.2L747.1 5.0L747.7 3.9L748.4 2.8L749.0 1.7L749.6 0.5" fill="none" stroke="#00cd00" stroke-width="1.45" stroke-linejoin="round" stroke-dasharray="17.05 8.72 0.01 8.72" stroke-linecap="round"/>
<path d="M512.1 314.3L513.0 313.9L513.8 313.6L514.7 313.3L515.6 312.9L516.4 312.6L517.3 312.3L518.1 311.9L519.0 311.6L519.9 311.3L520.7 311.0L521.6 310.7L522.5 310.3L523.3 310.0L524.2 309.7L525.0 309.4L525.9 309.1L526.8 308.8L527.6 308.5L528.5 308.2L529.4 307.8L530.2 307.5L531.1 307.2L531.9 306.9L532.8 306.5L533.7 306.2L534.5 305.9L535.4 305.5L536.3 305.2L537.1 304.8L538.0 304.5L538.8 304.1L539.7 303.7L540.6 303.4L541.4 303.0L542.3 302.6L543.2 302.2L544.0 301.8L544.9 301.3L545.7 300.9L546.6 300.5L547.5 300.0L548.3 299.6L549.2 299.1L550.1 298.6L550.9 298.1L551.8 297.6L552.6 297.0L553.5 296.5L554.4 296.0L555.2 295.4L556.1 294.8L557.0 294.2L557.8 293.6L558.7 292.9L559.5 292.3L560.4 291.6L561.3 291.0L562.1 290.2L563.0 289.5L563.9 288.8L564.7 288.0L565.6 287.3L566.5 286.5L567.3 285.7L568.2 284.9L569.0 284.1L569.9 283.2L570.8 282.4L571.6 281.6L572.5 280.8L573.4 279.9L574.2 279.1L575.1 278.3L575.9 277.5L576.8 276.7L577.7 275.8L578.5 275.0L579.4 274.2L580.3 273.4L581.1 272.6L582.0 271.8L582.8 271.0L583.7 270.2L584.6 269.3L585.4 268.5L586.3 267.7L587.2 266.8L588.0 266.0L588.9 265.1L589.7 264.3L590.6 263.4L591.5 262.5L592.3 261.6L593.2 260.7L594.1 259.8L594.9 258.8L595.8 257.9L596.6 256.9L597.5 255.9L598.4 255.0L599.2 254.0L600.1 252.9L601.0 251.9L601.8 250.8L602.7 249.8L603.5 248.7L604.4 247.6L605.3 246.5L606.1 245.3L607.0 244.2L607.9 243.0L608.7 241.8L609.6 240.5L610.4 239.3L611.3 238.0L612.2 236.7L613.0 235.4L613.9 234.1L614.8 232.7L615.6 231.3L616.5 229.9L617.4 228.5L618.2 227.0L619.1 225.5L619.9 224.0L620.8 222.5L621.7 220.9L622.5 219.3L623.4 217.7L624.3 216.0L625.1 214.3L626.0 212.6L626.8 210.8L627.7 209.0L628.6 207.1L629.4 205.3L630.3 203.4L631.2 201.4L632.0 199.5L632.9 197.5L633.7 195.5L634.6 193.6L635.5 191.6L636.3 189.7L637.2 187.8L638.1 185.8L638.9 183.9L639.8 182.0L640.6 180.1L641.5 178.1L642.4 176.2L643.2 174.2L644.1 172.2L645.0 170.2L645.8 168.1L646.7 166.1L647.5 164.0L648.4 161.9L649.3 159.9L650.1 157.8L651.0 155.8L651.9 153.8L652.7 151.8L653.6 149.8L654.4 147.8L655.3 145.8L656.2 143.7L657.0 141.7L657.9 139.7L658.8 137.7L659.6 135.7L660.5 133.7L661.3 131.7L662.2 129.6L663.1 127.6L663.9 125.6L664.8 123.6L665.7 121.5L666.5 119.5L667.4 117.5L668.3 115.5L669.1 113.4L670.0 111.4L670.8 109.4L671.7 107.3L672.6 105.3L673.4 103.3L674.3 101.3L675.2 99.2L676.0 97.2L676.9 95.2L677.7 93.2L678.6 91.2L679.5 89.2L680.3 87.2L681.2 85.2L682.1 83.2L682.9 81.2L683.8 79.2L684.6 77.2L685.5 75.2L686.4 73.2L687.2 71.2L688.1 69.2L689.0 67.2L689.8 65.2L690.7 63.3L691.5 61.3L692.4 59.3L693.3 57.3L694.1 55.4L695.0 53.4L695.9 51.4L696.7 49.5L697.6 47.5L698.4 45.5L699.3 43.6L700.2 41.6L701.0 39.6L701.9 37.7L702.8 35.7L703.6 33.8L704.5 31.8L705.3 29.8L706.2 27.9L707.1 25.9L707.9 24.0L708.8 22.0L709.7 20.1L710.5 18.1L711.4 16.2L712.3 14.2L713.1 12.2L714.0 10.3L714.8 8.3L715.7 6.4L716.6 4.4L717.4 2.5L718.3 0.5" fill="none" stroke="#00cd00" stroke-width="4.4" stroke-linejoin="round" stroke-dasharray="13.20 11.40 0.01 11.40" stroke-linecap="round" stroke-dashoffset="-3"/>
<path d="M574.8 231.7L575.9 230.8L576.9 229.9L577.9 229.0L579.0 228.1L580.0 227.2L581.0 226.4L582.1 225.5L583.1 224.7L584.1 223.8L585.2 223.0L586.2 222.2L587.2 221.3L588.3 220.5L589.3 219.8L590.3 219.0L591.4 218.2L592.4 217.4L593.4 216.7L594.5 215.9L595.5 215.2L596.5 214.5L597.6 213.7L598.6 213.0L599.6 212.3L600.7 211.6L601.7 210.9L602.7 210.3L603.8 209.6L604.8 208.9L605.8 208.3L606.9 207.6L607.9 207.0L608.9 206.3L610.0 205.7L611.0 205.1L612.0 204.5L613.1 203.9L614.1 203.3L615.1 202.7L616.2 202.1L617.2 201.6L618.2 201.0L619.3 200.4L620.3 199.9L621.3 199.3L622.4 198.8L623.4 198.3L624.4 197.8L625.5 197.2L626.5 196.7L627.5 196.2L628.6 195.7L629.6 195.2L630.6 194.7L631.7 194.3L632.7 193.8L633.7 193.3L634.8 192.9L635.8 192.4L636.8 192.0L637.9 191.5L638.9 191.1L639.9 190.7L641.0 190.2L642.0 189.8L643.0 189.4L644.1 189.0L645.1 188.6L646.2 188.2L647.2 187.8L648.2 187.4L649.3 187.0L650.3 186.6L651.3 186.2L652.4 185.9L653.4 185.5L654.4 185.1L655.5 184.8L656.5 184.4L657.5 184.1L658.6 183.7L659.6 183.4L660.6 183.1L661.7 182.7L662.7 182.4L663.7 182.1L664.8 181.7L665.8 181.4L666.8 181.1L667.9 180.8L668.9 180.5L669.9 180.2L671.0 179.9L672.0 179.6L673.0 179.3L674.1 179.0L675.1 178.7L676.1 178.4L677.2 178.1L678.2 177.9L679.2 177.6L680.3 177.3L681.3 177.0L682.3 176.8L683.4 176.5L684.4 176.2L685.4 176.0L686.5 175.7L687.5 175.5L688.5 175.2L689.6 175.0L690.6 174.7L691.6 174.4L692.7 174.2L693.7 174.0L694.7 173.7L695.8 173.5L696.8 173.2L697.8 173.0L698.9 172.7L699.9 172.5L700.9 172.3L702.0 172.0L703.0 171.8L704.0 171.6L705.1 171.4L706.1 171.1L707.1 170.9L708.2 170.7L709.2 170.5L710.2 170.2L711.3 170.0L712.3 169.8L713.3 169.6L714.4 169.4L715.4 169.2L716.5 169.0L717.5 168.8L718.5 168.5L719.6 168.3L720.6 168.1L721.6 167.9L722.7 167.7L723.7 167.5L724.7 167.3L725.8 167.1L726.8 166.9L727.8 166.7L728.9 166.5L729.9 166.3L730.9 166.1L732.0 166.0L733.0 165.8L734.0 165.6L735.1 165.4L736.1 165.2L737.1 165.0L738.2 164.8L739.2 164.6L740.2 164.5L741.3 164.3L742.3 164.1L743.3 163.9L744.4 163.7L745.4 163.5L746.4 163.4L747.5 163.2L748.5 163.0L749.5 162.8L750.6 162.7L751.6 162.5L752.6 162.3L753.7 162.1L754.7 162.0L755.7 161.8L756.8 161.6L757.8 161.4L758.8 161.3L759.9 161.1L760.9 160.9L761.9 160.7L763.0 160.6L764.0 160.4L765.0 160.2L766.1 160.1L767.1 159.9L768.1 159.7L769.2 159.6L770.2 159.4L771.2 159.2L772.3 159.1L773.3 158.9L774.3 158.7L775.4 158.5L776.4 158.4L777.4 158.2L778.5 158.0L779.5 157.9L780.5 157.7L781.6 157.5L782.6 157.4L783.6 157.2L784.7 157.0L785.7 156.9L786.8 156.7L787.8 156.5L788.8 156.4L789.9 156.2L790.9 156.0L791.9 155.9L793.0 155.7L794.0 155.5L795.0 155.4L796.1 155.2L797.1 155.0L798.1 154.8L799.2 154.7L800.2 154.5L801.2 154.3L802.3 154.2L803.3 154.0L804.3 153.8L805.4 153.6L806.4 153.5L807.4 153.3L808.5 153.1L809.5 152.9L810.5 152.8L811.6 152.6L812.6 152.4L813.6 152.2L814.7 152.1L815.7 151.9L816.7 151.7L817.8 151.5L818.8 151.3L819.8 151.1L820.9 151.0L821.9 150.8" fill="none" stroke="#ff0000" stroke-width="1.45" stroke-linejoin="round" stroke-linecap="butt"/>
<path d="M512.1 314.3L513.4 312.8L514.7 311.3L516.0 309.7L517.3 308.1L518.6 306.4L519.9 304.7L521.2 302.9L522.5 301.2L523.8 299.3L525.1 297.5L526.4 295.7L527.7 293.8L529.0 291.9L530.2 290.0L531.5 288.1L532.8 286.1L534.1 284.2L535.4 282.3L536.7 280.4L538.0 278.5L539.3 276.6L540.6 274.7L541.9 272.8L543.2 270.9L544.5 269.0L545.8 267.2L547.1 265.3L548.4 263.5L549.7 261.7L551.0 259.9L552.3 258.2L553.6 256.4L554.9 254.7L556.2 253.0L557.5 251.4L558.8 249.7L560.1 248.1L561.4 246.5L562.7 245.0L563.9 243.5L565.2 242.0L566.5 240.6L567.8 239.2L569.1 237.8L570.4 236.5L571.7 235.2L573.0 233.9L574.3 232.6L575.6 231.3L576.9 230.0L578.2 228.8L579.5 227.5L580.8 226.3L582.1 225.0L583.4 223.8L584.7 222.6L586.0 221.4L587.3 220.2L588.6 219.0L589.9 217.8L591.2 216.6L592.5 215.4L593.8 214.3L595.1 213.1L596.4 212.0L597.7 210.8L598.9 209.7L600.2 208.5L601.5 207.4L602.8 206.3L604.1 205.2L605.4 204.1L606.7 203.0L608.0 201.9L609.3 200.8L610.6 199.7L611.9 198.6L613.2 197.5L614.5 196.4L615.8 195.3L617.1 194.3L618.4 193.2L619.7 192.1L621.0 191.1L622.3 190.0L623.6 188.9L624.9 187.9L626.2 186.8L627.5 185.8L628.8 184.7L630.1 183.7L631.4 182.6L632.6 181.6L633.9 180.6L635.2 179.5L636.5 178.5L637.8 177.5L639.1 176.5L640.4 175.5L641.7 174.5L643.0 173.5L644.3 172.5L645.6 171.5L646.9 170.6L648.2 169.6L649.5 168.6L650.8 167.7L652.1 166.8L653.4 165.9L654.7 164.9L656.0 164.0L657.3 163.2L658.6 162.3L659.9 161.4L661.2 160.6L662.5 159.7L663.8 158.9L665.1 158.1L666.4 157.3L667.6 156.5L668.9 155.8L670.2 155.0L671.5 154.3L672.8 153.5L674.1 152.8L675.4 152.1L676.7 151.4L678.0 150.7L679.3 150.0L680.6 149.4L681.9 148.7L683.2 148.1L684.5 147.4L685.8 146.8L687.1 146.2L688.4 145.6L689.7 145.0L691.0 144.4L692.3 143.8L693.6 143.3L694.9 142.7L696.2 142.1L697.5 141.6L698.8 141.0L700.1 140.5L701.4 140.0L702.6 139.4L703.9 138.9L705.2 138.4L706.5 137.9L707.8 137.4L709.1 136.9L710.4 136.4L711.7 135.9L713.0 135.4L714.3 134.9L715.6 134.4L716.9 133.9L718.2 133.4L719.5 133.0L720.8 132.5L722.1 132.0L723.4 131.5L724.7 131.1L726.0 130.6L727.3 130.1L728.6 129.7L729.9 129.2L731.2 128.7L732.5 128.3L733.8 127.8L735.1 127.4L736.3 126.9L737.6 126.5L738.9 126.0L740.2 125.6L741.5 125.1L742.8 124.7L744.1 124.3L745.4 123.8L746.7 123.4L748.0 123.0L749.3 122.6L750.6 122.1L751.9 121.7L753.2 121.3L754.5 120.9L755.8 120.5L757.1 120.1L758.4 119.7L759.7 119.3L761.0 118.9L762.3 118.5L763.6 118.1L764.9 117.7L766.2 117.3L767.5 116.9L768.8 116.5L770.1 116.2L771.3 115.8L772.6 115.4L773.9 115.1L775.2 114.7L776.5 114.3L777.8 114.0L779.1 113.6L780.4 113.3L781.7 113.0L783.0 112.6L784.3 112.3L785.6 112.0L786.9 111.6L788.2 111.3L789.5 111.0L790.8 110.7L792.1 110.4L793.4 110.1L794.7 109.8L796.0 109.5L797.3 109.2L798.6 108.9L799.9 108.6L801.2 108.3L802.5 108.1L803.8 107.8L805.0 107.5L806.3 107.3L807.6 107.0L808.9 106.8L810.2 106.5L811.5 106.3L812.8 106.1L814.1 105.8L815.4 105.6L816.7 105.4L818.0 105.2L819.3 105.0L820.6 104.8L821.9 104.6" fill="none" stroke="#ff0000" stroke-width="4.6000000000000005" stroke-linejoin="round" stroke-linecap="butt"/>
<path d="M574.8 232.1L575.9 231.4L576.9 230.6L577.9 229.8L579.0 229.1L580.0 228.3L581.0 227.6L582.1 226.9L583.1 226.1L584.1 225.4L585.2 224.7L586.2 224.0L587.2 223.3L588.3 222.6L589.3 221.9L590.3 221.2L591.4 220.6L592.4 219.9L593.4 219.2L594.5 218.6L595.5 217.9L596.5 217.3L597.6 216.6L598.6 216.0L599.6 215.4L600.7 214.8L601.7 214.1L602.7 213.5L603.8 212.9L604.8 212.3L605.8 211.7L606.9 211.1L607.9 210.6L608.9 210.0L610.0 209.4L611.0 208.8L612.0 208.3L613.1 207.7L614.1 207.2L615.1 206.6L616.2 206.1L617.2 205.5L618.2 205.0L619.3 204.5L620.3 203.9L621.3 203.4L622.4 202.9L623.4 202.4L624.4 201.9L625.5 201.4L626.5 200.9L627.5 200.4L628.6 199.9L629.6 199.4L630.6 198.9L631.7 198.4L632.7 198.0L633.7 197.5L634.8 197.0L635.8 196.6L636.8 196.1L637.9 195.6L638.9 195.2L639.9 194.7L641.0 194.3L642.0 193.8L643.0 193.4L644.1 193.0L645.1 192.5L646.2 192.1L647.2 191.7L648.2 191.3L649.3 190.8L650.3 190.4L651.3 190.0L652.4 189.6L653.4 189.2L654.4 188.8L655.5 188.4L656.5 188.0L657.5 187.6L658.6 187.2L659.6 186.8L660.6 186.4L661.7 186.0L662.7 185.6L663.7 185.2L664.8 184.8L665.8 184.5L666.8 184.1L667.9 183.7L668.9 183.3L669.9 182.9L671.0 182.6L672.0 182.2L673.0 181.8L674.1 181.5L675.1 181.1L676.1 180.7L677.2 180.4L678.2 180.0L679.2 179.7L680.3 179.3L681.3 178.9L682.3 178.6L683.4 178.2L684.4 177.9L685.4 177.5L686.5 177.2L687.5 176.8L688.5 176.5L689.6 176.1L690.6 175.8L691.6 175.4L692.7 175.1L693.7 174.7L694.7 174.4L695.8 174.0L696.8 173.7L697.8 173.3L698.9 173.0L699.9 172.6L700.9 172.3L702.0 171.9L703.0 171.6L704.0 171.3L705.1 170.9L706.1 170.6L707.1 170.2L708.2 169.9L709.2 169.5L710.2 169.2L711.3 168.8L712.3 168.5L713.3 168.1L714.4 167.8L715.4 167.5L716.5 167.1L717.5 166.8L718.5 166.4L719.6 166.1L720.6 165.8L721.6 165.4L722.7 165.1L723.7 164.7L724.7 164.4L725.8 164.1L726.8 163.7L727.8 163.4L728.9 163.1L729.9 162.7L730.9 162.4L732.0 162.1L733.0 161.7L734.0 161.4L735.1 161.1L736.1 160.7L737.1 160.4L738.2 160.1L739.2 159.7L740.2 159.4L741.3 159.1L742.3 158.8L743.3 158.4L744.4 158.1L745.4 157.8L746.4 157.5L747.5 157.2L748.5 156.8L749.5 156.5L750.6 156.2L751.6 155.9L752.6 155.6L753.7 155.3L754.7 155.0L755.7 154.6L756.8 154.3L757.8 154.0L758.8 153.7L759.9 153.4L760.9 153.1L761.9 152.8L763.0 152.5L764.0 152.2L765.0 151.9L766.1 151.6L767.1 151.3L768.1 151.0L769.2 150.7L770.2 150.5L771.2 150.2L772.3 149.9L773.3 149.6L774.3 149.3L775.4 149.0L776.4 148.7L777.4 148.5L778.5 148.2L779.5 147.9L780.5 147.6L781.6 147.4L782.6 147.1L783.6 146.8L784.7 146.6L785.7 146.3L786.8 146.0L787.8 145.8L788.8 145.5L789.9 145.3L790.9 145.0L791.9 144.8L793.0 144.5L794.0 144.3L795.0 144.0L796.1 143.8L797.1 143.5L798.1 143.3L799.2 143.1L800.2 142.8L801.2 142.6L802.3 142.4L803.3 142.1L804.3 141.9L805.4 141.7L806.4 141.5L807.4 141.2L808.5 141.0L809.5 140.8L810.5 140.6L811.6 140.4L812.6 140.2L813.6 140.0L814.7 139.8L815.7 139.6L816.7 139.4L817.8 139.2L818.8 139.0L819.8 138.8L820.9 138.6L821.9 138.4" fill="none" stroke="#7d3a0c" stroke-width="1.45" stroke-linejoin="round" stroke-dasharray="19.55 20.45" stroke-linecap="round" stroke-dashoffset="-10"/>
<path d="M512.1 314.3L513.4 312.0L514.7 309.7L516.0 307.4L517.3 305.2L518.6 303.0L519.9 300.9L521.2 298.7L522.5 296.6L523.8 294.5L525.1 292.5L526.4 290.4L527.7 288.4L529.0 286.4L530.2 284.5L531.5 282.5L532.8 280.6L534.1 278.7L535.4 276.8L536.7 274.9L538.0 273.1L539.3 271.2L540.6 269.4L541.9 267.6L543.2 265.8L544.5 264.0L545.8 262.2L547.1 260.5L548.4 258.7L549.7 257.0L551.0 255.3L552.3 253.6L553.6 251.9L554.9 250.2L556.2 248.6L557.5 247.1L558.8 245.6L560.1 244.1L561.4 242.7L562.7 241.4L563.9 240.1L565.2 238.8L566.5 237.6L567.8 236.4L569.1 235.3L570.4 234.2L571.7 233.2L573.0 232.2L574.3 231.2L575.6 230.3L576.9 229.3L578.2 228.5L579.5 227.6L580.8 226.7L582.1 225.9L583.4 225.0L584.7 224.2L586.0 223.3L587.3 222.5L588.6 221.6L589.9 220.7L591.2 219.7L592.5 218.8L593.8 217.8L595.1 216.8L596.4 215.8L597.7 214.8L598.9 213.7L600.2 212.6L601.5 211.5L602.8 210.5L604.1 209.3L605.4 208.2L606.7 207.1L608.0 206.0L609.3 204.8L610.6 203.7L611.9 202.5L613.2 201.4L614.5 200.2L615.8 199.1L617.1 197.9L618.4 196.8L619.7 195.7L621.0 194.6L622.3 193.5L623.6 192.4L624.9 191.3L626.2 190.2L627.5 189.2L628.8 188.2L630.1 187.2L631.4 186.2L632.6 185.3L633.9 184.3L635.2 183.4L636.5 182.5L637.8 181.5L639.1 180.6L640.4 179.7L641.7 178.7L643.0 177.8L644.3 176.8L645.6 175.9L646.9 174.9L648.2 173.9L649.5 172.9L650.8 171.9L652.1 170.9L653.4 169.9L654.7 168.9L656.0 167.9L657.3 167.0L658.6 166.0L659.9 165.1L661.2 164.2L662.5 163.4L663.8 162.5L665.1 161.7L666.4 160.9L667.6 160.1L668.9 159.4L670.2 158.6L671.5 157.9L672.8 157.2L674.1 156.4L675.4 155.7L676.7 155.0L678.0 154.3L679.3 153.6L680.6 152.9L681.9 152.2L683.2 151.5L684.5 150.8L685.8 150.0L687.1 149.3L688.4 148.6L689.7 147.9L691.0 147.1L692.3 146.4L693.6 145.7L694.9 144.9L696.2 144.1L697.5 143.4L698.8 142.6L700.1 141.8L701.4 141.0L702.6 140.2L703.9 139.4L705.2 138.6L706.5 137.7L707.8 136.9L709.1 136.1L710.4 135.3L711.7 134.5L713.0 133.7L714.3 132.9L715.6 132.2L716.9 131.4L718.2 130.7L719.5 129.9L720.8 129.2L722.1 128.5L723.4 127.8L724.7 127.2L726.0 126.5L727.3 125.9L728.6 125.2L729.9 124.6L731.2 124.0L732.5 123.4L733.8 122.8L735.1 122.2L736.3 121.6L737.6 121.0L738.9 120.4L740.2 119.8L741.5 119.3L742.8 118.7L744.1 118.2L745.4 117.6L746.7 117.1L748.0 116.6L749.3 116.0L750.6 115.5L751.9 115.0L753.2 114.4L754.5 113.9L755.8 113.4L757.1 112.8L758.4 112.3L759.7 111.8L761.0 111.3L762.3 110.8L763.6 110.3L764.9 109.7L766.2 109.2L767.5 108.7L768.8 108.2L770.1 107.7L771.3 107.2L772.6 106.7L773.9 106.2L775.2 105.8L776.5 105.3L777.8 104.8L779.1 104.3L780.4 103.8L781.7 103.3L783.0 102.9L784.3 102.4L785.6 101.9L786.9 101.5L788.2 101.0L789.5 100.6L790.8 100.1L792.1 99.6L793.4 99.2L794.7 98.8L796.0 98.3L797.3 97.9L798.6 97.4L799.9 97.0L801.2 96.6L802.5 96.2L803.8 95.8L805.0 95.3L806.3 94.9L807.6 94.5L808.9 94.1L810.2 93.7L811.5 93.3L812.8 92.9L814.1 92.5L815.4 92.2L816.7 91.8L818.0 91.4L819.3 91.0L820.6 90.7L821.9 90.3" fill="none" stroke="#7d3a0c" stroke-width="4.4" stroke-linejoin="round" stroke-dasharray="16.30 23.40" stroke-linecap="round" stroke-dashoffset="-1"/>
<path d="M584.8 262.5L585.8 262.2L586.8 262.0L587.8 261.7L588.8 261.5L589.8 261.2L590.8 261.0L591.7 260.7L592.7 260.4L593.7 260.2L594.7 259.9L595.7 259.6L596.7 259.4L597.7 259.1L598.7 258.8L599.7 258.5L600.7 258.2L601.7 258.0L602.7 257.7L603.6 257.4L604.6 257.1L605.6 256.8L606.6 256.5L607.6 256.2L608.6 255.9L609.6 255.6L610.6 255.3L611.6 255.0L612.6 254.7L613.6 254.3L614.6 254.0L615.6 253.7L616.5 253.4L617.5 253.1L618.5 252.7L619.5 252.4L620.5 252.1L621.5 251.8L622.5 251.4L623.5 251.1L624.5 250.8L625.5 250.4L626.5 250.1L627.5 249.7L628.4 249.4L629.4 249.0L630.4 248.7L631.4 248.3L632.4 248.0L633.4 247.6L634.4 247.3L635.4 246.9L636.4 246.5L637.4 246.2L638.4 245.8L639.4 245.4L640.4 245.1L641.3 244.7L642.3 244.3L643.3 244.0L644.3 243.6L645.3 243.2L646.3 242.8L647.3 242.4L648.3 242.1L649.3 241.7L650.3 241.3L651.3 240.9L652.3 240.5L653.3 240.1L654.2 239.7L655.2 239.3L656.2 238.9L657.2 238.5L658.2 238.1L659.2 237.7L660.2 237.3L661.2 236.9L662.2 236.5L663.2 236.1L664.2 235.7L665.2 235.3L666.1 234.8L667.1 234.4L668.1 234.0L669.1 233.6L670.1 233.2L671.1 232.7L672.1 232.3L673.1 231.9L674.1 231.5L675.1 231.0L676.1 230.6L677.1 230.2L678.1 229.8L679.0 229.3L680.0 228.9L681.0 228.4L682.0 228.0L683.0 227.6L684.0 227.1L685.0 226.7L686.0 226.2L687.0 225.8L688.0 225.4L689.0 224.9L690.0 224.5L690.9 224.0L691.9 223.6L692.9 223.1L693.9 222.6L694.9 222.2L695.9 221.7L696.9 221.3L697.9 220.8L698.9 220.4L699.9 219.9L700.9 219.4L701.9 219.0L702.9 218.5L703.8 218.1L704.8 217.6L705.8 217.1L706.8 216.7L707.8 216.2L708.8 215.7L709.8 215.2L710.8 214.8L711.8 214.3L712.8 213.8L713.8 213.3L714.8 212.9L715.8 212.4L716.7 211.9L717.7 211.4L718.7 211.0L719.7 210.5L720.7 210.0L721.7 209.5L722.7 209.0L723.7 208.5L724.7 208.1L725.7 207.6L726.7 207.1L727.7 206.6L728.6 206.1L729.6 205.6L730.6 205.1L731.6 204.7L732.6 204.2L733.6 203.7L734.6 203.2L735.6 202.7L736.6 202.2L737.6 201.7L738.6 201.2L739.6 200.7L740.6 200.2L741.5 199.7L742.5 199.2L743.5 198.7L744.5 198.2L745.5 197.7L746.5 197.2L747.5 196.7L748.5 196.2L749.5 195.7L750.5 195.2L751.5 194.7L752.5 194.2L753.4 193.7L754.4 193.2L755.4 192.7L756.4 192.2L757.4 191.7L758.4 191.2L759.4 190.7L760.4 190.2L761.4 189.7L762.4 189.2L763.4 188.7L764.4 188.2L765.4 187.7L766.3 187.1L767.3 186.6L768.3 186.1L769.3 185.6L770.3 185.1L771.3 184.6L772.3 184.1L773.3 183.6L774.3 183.1L775.3 182.6L776.3 182.1L777.3 181.5L778.2 181.0L779.2 180.5L780.2 180.0L781.2 179.5L782.2 179.0L783.2 178.5L784.2 178.0L785.2 177.5L786.2 177.0L787.2 176.4L788.2 175.9L789.2 175.4L790.2 174.9L791.1 174.4L792.1 173.9L793.1 173.4L794.1 172.9L795.1 172.4L796.1 171.9L797.1 171.3L798.1 170.8L799.1 170.3L800.1 169.8L801.1 169.3L802.1 168.8L803.1 168.3L804.0 167.8L805.0 167.3L806.0 166.8L807.0 166.3L808.0 165.7L809.0 165.2L810.0 164.7L811.0 164.2L812.0 163.7L813.0 163.2L814.0 162.7L815.0 162.2L815.9 161.7L816.9 161.2L817.9 160.7L818.9 160.2L819.9 159.7L820.9 159.2L821.9 158.7" fill="none" stroke="#c2690f" stroke-width="1.45" stroke-linejoin="round" stroke-dasharray="24.55 9.72 0.01 7.00 0.01 9.72" stroke-linecap="round"/>
<path d="M512.1 314.3L513.4 313.1L514.7 311.9L516.0 310.7L517.3 309.5L518.6 308.3L519.9 307.1L521.2 305.9L522.5 304.7L523.8 303.5L525.1 302.4L526.4 301.2L527.7 300.0L529.0 298.8L530.2 297.6L531.5 296.5L532.8 295.3L534.1 294.2L535.4 293.0L536.7 291.9L538.0 290.8L539.3 289.7L540.6 288.6L541.9 287.5L543.2 286.4L544.5 285.3L545.8 284.3L547.1 283.3L548.4 282.2L549.7 281.2L551.0 280.3L552.3 279.3L553.6 278.3L554.9 277.4L556.2 276.5L557.5 275.6L558.8 274.7L560.1 273.9L561.4 273.0L562.7 272.2L563.9 271.5L565.2 270.7L566.5 270.0L567.8 269.3L569.1 268.6L570.4 267.9L571.7 267.3L573.0 266.7L574.3 266.1L575.6 265.6L576.9 265.0L578.2 264.5L579.5 264.0L580.8 263.6L582.1 263.1L583.4 262.7L584.7 262.3L586.0 261.9L587.3 261.5L588.6 261.1L589.9 260.7L591.2 260.3L592.5 260.0L593.8 259.6L595.1 259.3L596.4 259.0L597.7 258.6L598.9 258.3L600.2 258.0L601.5 257.6L602.8 257.3L604.1 257.0L605.4 256.6L606.7 256.3L608.0 256.0L609.3 255.6L610.6 255.3L611.9 254.9L613.2 254.5L614.5 254.1L615.8 253.7L617.1 253.3L618.4 252.9L619.7 252.4L621.0 252.0L622.3 251.5L623.6 251.0L624.9 250.5L626.2 250.0L627.5 249.4L628.8 248.9L630.1 248.3L631.4 247.7L632.6 247.1L633.9 246.5L635.2 245.8L636.5 245.2L637.8 244.5L639.1 243.9L640.4 243.2L641.7 242.5L643.0 241.7L644.3 241.0L645.6 240.3L646.9 239.5L648.2 238.7L649.5 237.9L650.8 237.1L652.1 236.3L653.4 235.5L654.7 234.7L656.0 233.8L657.3 233.0L658.6 232.1L659.9 231.2L661.2 230.4L662.5 229.5L663.8 228.6L665.1 227.7L666.4 226.7L667.6 225.8L668.9 224.9L670.2 223.9L671.5 223.0L672.8 222.0L674.1 221.1L675.4 220.1L676.7 219.1L678.0 218.2L679.3 217.2L680.6 216.2L681.9 215.2L683.2 214.2L684.5 213.2L685.8 212.3L687.1 211.3L688.4 210.3L689.7 209.3L691.0 208.3L692.3 207.3L693.6 206.2L694.9 205.2L696.2 204.2L697.5 203.2L698.8 202.2L700.1 201.2L701.4 200.2L702.6 199.2L703.9 198.1L705.2 197.1L706.5 196.1L707.8 195.1L709.1 194.0L710.4 193.0L711.7 192.0L713.0 190.9L714.3 189.9L715.6 188.8L716.9 187.8L718.2 186.8L719.5 185.7L720.8 184.7L722.1 183.6L723.4 182.6L724.7 181.5L726.0 180.4L727.3 179.4L728.6 178.3L729.9 177.3L731.2 176.2L732.5 175.1L733.8 174.0L735.1 173.0L736.3 171.9L737.6 170.8L738.9 169.7L740.2 168.6L741.5 167.6L742.8 166.5L744.1 165.4L745.4 164.3L746.7 163.2L748.0 162.1L749.3 161.0L750.6 159.9L751.9 158.8L753.2 157.7L754.5 156.6L755.8 155.5L757.1 154.4L758.4 153.2L759.7 152.1L761.0 151.0L762.3 149.9L763.6 148.8L764.9 147.7L766.2 146.6L767.5 145.4L768.8 144.3L770.1 143.2L771.3 142.1L772.6 141.0L773.9 139.8L775.2 138.7L776.5 137.6L777.8 136.5L779.1 135.4L780.4 134.2L781.7 133.1L783.0 132.0L784.3 130.9L785.6 129.8L786.9 128.6L788.2 127.5L789.5 126.4L790.8 125.3L792.1 124.2L793.4 123.1L794.7 121.9L796.0 120.8L797.3 119.7L798.6 118.6L799.9 117.5L801.2 116.4L802.5 115.3L803.8 114.2L805.0 113.1L806.3 112.0L807.6 110.9L808.9 109.8L810.2 108.7L811.5 107.6L812.8 106.5L814.1 105.4L815.4 104.4L816.7 103.3L818.0 102.2L819.3 101.1L820.6 100.1L821.9 99.0" fill="none" stroke="#c2690f" stroke-width="4.4" stroke-linejoin="round" stroke-dasharray="20.60 12.70 0.01 9.60 0.01 12.70" stroke-linecap="round" stroke-dashoffset="10"/>
</g>
<path d="M546.5 314.3v-4.8M546.5 4.7v4.8M580.9 314.3v-4.8M580.9 4.7v4.8M615.4 314.3v-4.8M615.4 4.7v4.8M649.8 314.3v-4.8M649.8 4.7v4.8M684.2 314.3v-4.8M684.2 4.7v4.8M718.6 314.3v-4.8M718.6 4.7v4.8M753.1 314.3v-4.8M753.1 4.7v4.8M787.5 314.3v-4.8M787.5 4.7v4.8M512.1 273.0h4.8M821.9 273.0h-4.8M512.1 231.7h4.8M821.9 231.7h-4.8M512.1 190.4h4.8M821.9 190.4h-4.8M512.1 149.2h4.8M821.9 149.2h-4.8M512.1 107.9h4.8M821.9 107.9h-4.8M512.1 66.6h4.8M821.9 66.6h-4.8M512.1 25.3h4.8M821.9 25.3h-4.8" stroke="#111" stroke-width="1" fill="none"/><path d="M512.10 4.15V314.80M821.90 4.15V314.80M511.60 4.65H822.40M511.60 314.30H822.40" fill="none" stroke="#000" stroke-width="1.1"/><g font-size="16.7" font-weight="bold" fill="#000"><text x="502.5" y="319.9" text-anchor="end">0</text><text x="502.5" y="278.6" text-anchor="end">0.02</text><text x="502.5" y="237.3" text-anchor="end">0.04</text><text x="502.5" y="196.0" text-anchor="end">0.06</text><text x="502.5" y="154.8" text-anchor="end">0.08</text><text x="502.5" y="113.5" text-anchor="end">0.1</text><text x="502.5" y="72.2" text-anchor="end">0.12</text><text x="502.5" y="30.9" text-anchor="end">0.14</text><text x="514.1" y="336.5" text-anchor="middle">0</text><text x="582.9" y="336.5" text-anchor="middle">0.1</text><text x="651.8" y="336.5" text-anchor="middle">0.2</text><text x="720.6" y="336.5" text-anchor="middle">0.3</text><text x="789.5" y="336.5" text-anchor="middle">0.4</text></g>
<g clip-path="url(#c3)">
<path d="M90.0 474.9L90.8 474.0L91.6 473.2L92.3 472.4L93.1 471.6L93.9 470.8L94.7 470.1L95.4 469.4L96.2 468.7L97.0 468.0L97.8 467.4L98.5 466.8L99.3 466.2L100.1 465.6L100.9 465.0L101.6 464.5L102.4 464.0L103.2 463.5L104.0 463.1L104.7 462.6L105.5 462.2L106.3 461.8L107.1 461.5L107.8 461.1L108.6 460.8L109.4 460.4L110.2 460.1L110.9 459.9L111.7 459.6L112.5 459.3L113.3 459.1L114.0 458.9L114.8 458.6L115.6 458.4L116.4 458.2L117.1 458.1L117.9 457.9L118.7 457.7L119.5 457.5L120.3 457.4L121.0 457.2L121.8 457.1L122.6 457.0L123.4 456.8L124.1 456.7L124.9 456.6L125.7 456.4L126.5 456.3L127.2 456.2L128.0 456.1L128.8 455.9L129.6 455.8L130.3 455.7L131.1 455.6L131.9 455.5L132.7 455.4L133.4 455.3L134.2 455.2L135.0 455.1L135.8 455.0L136.5 454.9L137.3 454.8L138.1 454.7L138.9 454.6L139.6 454.5L140.4 454.4L141.2 454.3L142.0 454.2L142.7 454.1L143.5 454.1L144.3 454.0L145.1 453.9L145.8 453.8L146.6 453.7L147.4 453.7L148.2 453.6L149.0 453.5L149.7 453.5L150.5 453.4L151.3 453.4L152.1 453.3L152.8 453.2L153.6 453.2L154.4 453.1L155.2 453.1L155.9 453.0L156.7 453.0L157.5 453.0L158.3 452.9L159.0 452.9L159.8 452.8L160.6 452.8L161.4 452.8L162.1 452.7L162.9 452.7L163.7 452.7L164.5 452.6L165.2 452.6L166.0 452.6L166.8 452.6L167.6 452.6L168.3 452.6L169.1 452.5L169.9 452.5L170.7 452.5L171.4 452.5L172.2 452.5L173.0 452.5L173.8 452.5L174.6 452.5L175.3 452.5L176.1 452.5L176.9 452.5L177.7 452.5L178.4 452.5L179.2 452.5L180.0 452.6L180.8 452.6L181.5 452.6L182.3 452.6L183.1 452.6L183.9 452.7L184.6 452.7L185.4 452.7L186.2 452.7L187.0 452.8L187.7 452.8L188.5 452.8L189.3 452.9L190.1 452.9L190.8 453.0L191.6 453.0L192.4 453.1L193.2 453.1L193.9 453.2L194.7 453.2L195.5 453.3L196.3 453.3L197.0 453.4L197.8 453.4L198.6 453.5L199.4 453.6L200.1 453.6L200.9 453.7L201.7 453.8L202.5 453.8L203.3 453.9L204.0 454.0L204.8 454.1L205.6 454.1L206.4 454.2L207.1 454.3L207.9 454.4L208.7 454.5L209.5 454.6L210.2 454.6L211.0 454.7L211.8 454.8L212.6 454.9L213.3 455.0L214.1 455.1L214.9 455.2L215.7 455.3L216.4 455.4L217.2 455.6L218.0 455.7L218.8 455.8L219.5 455.9L220.3 456.0L221.1 456.1L221.9 456.3L222.6 456.4L223.4 456.5L224.2 456.6L225.0 456.8L225.7 456.9L226.5 457.0L227.3 457.2L228.1 457.3L228.8 457.4L229.6 457.6L230.4 457.7L231.2 457.9L232.0 458.0L232.7 458.2L233.5 458.3L234.3 458.5L235.1 458.7L235.8 458.8L236.6 459.0L237.4 459.1L238.2 459.3L238.9 459.5L239.7 459.7L240.5 459.8L241.3 460.0L242.0 460.2L242.8 460.4L243.6 460.6L244.4 460.7L245.1 460.9L245.9 461.1L246.7 461.3L247.5 461.5L248.2 461.7L249.0 461.9L249.8 462.1L250.6 462.3L251.3 462.5L252.1 462.7L252.9 463.0L253.7 463.2L254.4 463.4L255.2 463.6L256.0 463.8L256.8 464.1L257.5 464.3L258.3 464.5L259.1 464.7L259.9 465.0L260.7 465.2L261.4 465.5L262.2 465.7L263.0 465.9L263.8 466.2L264.5 466.4L265.3 466.7L266.1 467.0L266.9 467.2L267.6 467.5L268.4 467.7L269.2 468.0L270.0 468.3L270.7 468.5L271.5 468.8L272.3 469.1L273.1 469.4L273.8 469.6L274.6 469.9L275.4 470.2L276.2 470.5L276.9 470.8L277.7 471.1L278.5 471.4L279.3 471.7L280.0 472.0L280.8 472.3L281.6 472.6L282.4 472.9L283.1 473.3L283.9 473.6L284.7 473.9L285.5 474.3L286.2 474.6L287.0 474.9L287.8 475.3L288.6 475.6L289.4 476.0L290.1 476.3L290.9 476.7L291.7 477.1L292.5 477.4L293.2 477.8L294.0 478.2L294.8 478.6L295.6 478.9L296.3 479.3L297.1 479.7L297.9 480.1L298.7 480.6L299.4 481.0L300.2 481.4L301.0 481.8L301.8 482.2L302.5 482.7L303.3 483.1L304.1 483.6L304.9 484.0L305.6 484.5L306.4 484.9L307.2 485.4L308.0 485.9L308.7 486.4L309.5 486.9L310.3 487.3L311.1 487.8L311.8 488.4L312.6 488.9L313.4 489.4L314.2 489.9L314.9 490.4L315.7 491.0L316.5 491.5L317.3 492.1L318.1 492.6L318.8 493.2L319.6 493.8L320.4 494.4L321.2 495.0L321.9 495.6L322.7 496.2L323.5 496.8L324.3 497.4L325.0 498.0L325.8 498.6L326.6 499.3L327.4 499.9L328.1 500.6L328.9 501.3L329.7 501.9L330.5 502.6L331.2 503.3L332.0 504.0L332.8 504.7L333.6 505.4L334.3 506.1L335.1 506.9L335.9 507.6L336.7 508.4L337.4 509.1L338.2 509.9L339.0 510.7L339.8 511.5L340.5 512.2L341.3 513.0L342.1 513.9L342.9 514.7L343.7 515.5L344.4 516.4L345.2 517.2L346.0 518.1L346.8 518.9L347.5 519.8L348.3 520.7L349.1 521.6L349.9 522.5L350.6 523.4L351.4 524.4L352.2 525.3L353.0 526.2L353.7 527.2L354.5 528.2L355.3 529.2L356.1 530.1L356.8 531.2L357.6 532.2L358.4 533.2L359.2 534.2L359.9 535.3L360.7 536.3L361.5 537.4L362.3 538.5L363.0 539.6L363.8 540.7L364.6 541.8L365.4 543.0L366.1 544.1L366.9 545.3L367.7 546.4L368.5 547.6L369.2 548.8L370.0 550.0L370.8 551.3L371.6 552.5L372.4 553.8L373.1 555.0L373.9 556.3L374.7 557.6L375.5 558.9L376.2 560.2L377.0 561.6L377.8 562.9L378.6 564.3L379.3 565.7L380.1 567.1L380.9 568.5L381.7 569.9L382.4 571.3L383.2 572.8L384.0 574.3L384.8 575.8L385.5 577.3L386.3 578.8L387.1 580.3L387.9 581.8L388.6 583.4L389.4 584.9L390.2 586.5L391.0 588.1L391.7 589.7L392.5 591.2L393.3 592.8L394.1 594.4L394.8 596.0L395.6 597.7L396.4 599.3L397.2 600.9L397.9 602.5L398.7 604.1L399.5 605.7" fill="none" stroke="#00cdcd" stroke-width="3.0" stroke-linejoin="round" stroke-dasharray="1.1 7.4" stroke-linecap="round"/>
<path d="M90.0 610.7L90.8 611.6L91.6 612.3L92.3 613.1L93.1 613.9L93.9 614.6L94.7 615.3L95.4 615.9L96.2 616.6L97.0 617.2L97.8 617.8L98.5 618.4L99.3 618.9L100.1 619.5L100.9 620.0L101.6 620.5L102.4 621.0L103.2 621.4L104.0 621.9L104.7 622.3L105.5 622.7L106.3 623.1L107.1 623.5L107.8 623.8L108.6 624.2L109.4 624.5L110.2 624.8L110.9 625.1L111.7 625.4L112.5 625.7L113.3 626.0L114.0 626.2L114.8 626.5L115.6 626.7L116.4 626.9L117.1 627.1L117.9 627.3L118.7 627.5L119.5 627.7L120.3 627.9L121.0 628.1L121.8 628.2L122.6 628.4L123.4 628.6L124.1 628.7L124.9 628.8L125.7 629.0L126.5 629.1L127.2 629.2L128.0 629.3L128.8 629.4L129.6 629.6L130.3 629.7L131.1 629.8L131.9 629.9L132.7 630.0L133.4 630.0L134.2 630.1L135.0 630.2L135.8 630.3L136.5 630.4L137.3 630.5L138.1 630.6L138.9 630.7L139.6 630.7L140.4 630.8L141.2 630.9L142.0 631.0L142.7 631.0L143.5 631.1L144.3 631.2L145.1 631.3L145.8 631.3L146.6 631.4L147.4 631.5L148.2 631.5L149.0 631.6L149.7 631.7L150.5 631.7L151.3 631.8L152.1 631.8L152.8 631.9L153.6 632.0L154.4 632.0L155.2 632.1L155.9 632.1L156.7 632.2L157.5 632.2L158.3 632.3L159.0 632.3L159.8 632.3L160.6 632.4L161.4 632.4L162.1 632.5L162.9 632.5L163.7 632.5L164.5 632.6L165.2 632.6L166.0 632.6L166.8 632.7L167.6 632.7L168.3 632.7L169.1 632.7L169.9 632.7L170.7 632.8L171.4 632.8L172.2 632.8L173.0 632.8L173.8 632.8L174.6 632.8L175.3 632.8L176.1 632.9L176.9 632.9L177.7 632.9L178.4 632.9L179.2 632.9L180.0 632.9L180.8 632.9L181.5 632.9L182.3 632.8L183.1 632.8L183.9 632.8L184.6 632.8L185.4 632.8L186.2 632.8L187.0 632.8L187.7 632.7L188.5 632.7L189.3 632.7L190.1 632.7L190.8 632.6L191.6 632.6L192.4 632.6L193.2 632.5L193.9 632.5L194.7 632.5L195.5 632.4L196.3 632.4L197.0 632.3L197.8 632.3L198.6 632.2L199.4 632.2L200.1 632.1L200.9 632.1L201.7 632.0L202.5 632.0L203.3 631.9L204.0 631.8L204.8 631.8L205.6 631.7L206.4 631.6L207.1 631.6L207.9 631.5L208.7 631.4L209.5 631.3L210.2 631.3L211.0 631.2L211.8 631.1L212.6 631.0L213.3 630.9L214.1 630.8L214.9 630.7L215.7 630.6L216.4 630.5L217.2 630.4L218.0 630.3L218.8 630.2L219.5 630.1L220.3 630.0L221.1 629.9L221.9 629.8L222.6 629.7L223.4 629.6L224.2 629.4L225.0 629.3L225.7 629.2L226.5 629.1L227.3 628.9L228.1 628.8L228.8 628.7L229.6 628.5L230.4 628.4L231.2 628.3L232.0 628.1L232.7 628.0L233.5 627.8L234.3 627.7L235.1 627.5L235.8 627.4L236.6 627.2L237.4 627.0L238.2 626.9L238.9 626.7L239.7 626.5L240.5 626.4L241.3 626.2L242.0 626.0L242.8 625.8L243.6 625.7L244.4 625.5L245.1 625.3L245.9 625.1L246.7 624.9L247.5 624.7L248.2 624.5L249.0 624.3L249.8 624.1L250.6 623.9L251.3 623.7L252.1 623.5L252.9 623.3L253.7 623.1L254.4 622.8L255.2 622.6L256.0 622.4L256.8 622.2L257.5 622.0L258.3 621.7L259.1 621.5L259.9 621.3L260.7 621.0L261.4 620.8L262.2 620.5L263.0 620.3L263.8 620.0L264.5 619.8L265.3 619.5L266.1 619.3L266.9 619.0L267.6 618.7L268.4 618.5L269.2 618.2L270.0 617.9L270.7 617.7L271.5 617.4L272.3 617.1L273.1 616.8L273.8 616.5L274.6 616.2L275.4 616.0L276.2 615.7L276.9 615.4L277.7 615.1L278.5 614.8L279.3 614.5L280.0 614.1L280.8 613.8L281.6 613.5L282.4 613.2L283.1 612.9L283.9 612.6L284.7 612.2L285.5 611.9L286.2 611.6L287.0 611.2L287.8 610.9L288.6 610.5L289.4 610.2L290.1 609.8L290.9 609.5L291.7 609.1L292.5 608.8L293.2 608.4L294.0 608.0L294.8 607.7L295.6 607.3L296.3 606.9L297.1 606.5L297.9 606.1L298.7 605.7L299.4 605.3L300.2 604.9L301.0 604.5L301.8 604.1L302.5 603.7L303.3 603.2L304.1 602.8L304.9 602.4L305.6 601.9L306.4 601.5L307.2 601.0L308.0 600.6L308.7 600.1L309.5 599.6L310.3 599.2L311.1 598.7L311.8 598.2L312.6 597.7L313.4 597.2L314.2 596.7L314.9 596.2L315.7 595.7L316.5 595.1L317.3 594.6L318.1 594.1L318.8 593.5L319.6 592.9L320.4 592.4L321.2 591.8L321.9 591.2L322.7 590.7L323.5 590.1L324.3 589.5L325.0 588.9L325.8 588.3L326.6 587.6L327.4 587.0L328.1 586.4L328.9 585.7L329.7 585.1L330.5 584.4L331.2 583.7L332.0 583.0L332.8 582.4L333.6 581.7L334.3 580.9L335.1 580.2L335.9 579.5L336.7 578.7L337.4 578.0L338.2 577.2L339.0 576.4L339.8 575.6L340.5 574.8L341.3 574.0L342.1 573.2L342.9 572.4L343.7 571.5L344.4 570.7L345.2 569.8L346.0 568.9L346.8 568.0L347.5 567.1L348.3 566.1L349.1 565.2L349.9 564.2L350.6 563.2L351.4 562.3L352.2 561.2L353.0 560.2L353.7 559.2L354.5 558.1L355.3 557.1L356.1 556.0L356.8 554.9L357.6 553.8L358.4 552.6L359.2 551.5L359.9 550.3L360.7 549.1L361.5 547.9L362.3 546.7L363.0 545.5L363.8 544.2L364.6 543.0L365.4 541.7L366.1 540.5L366.9 539.2L367.7 537.9L368.5 536.6L369.2 535.2L370.0 533.9L370.8 532.6L371.6 531.2L372.4 529.9L373.1 528.5L373.9 527.1L374.7 525.7L375.5 524.4L376.2 523.0L377.0 521.6L377.8 520.2L378.6 518.7L379.3 517.3L380.1 515.9L380.9 514.5L381.7 513.1L382.4 511.6L383.2 510.2L384.0 508.8L384.8 507.3L385.5 505.9L386.3 504.4L387.1 503.0L387.9 501.6L388.6 500.1L389.4 498.7L390.2 497.2L391.0 495.8L391.7 494.4L392.5 492.9L393.3 491.5L394.1 490.1L394.8 488.7L395.6 487.3L396.4 485.8L397.2 484.4L397.9 483.0L398.7 481.6L399.5 480.3" fill="none" stroke="#00cdcd" stroke-width="3.0" stroke-linejoin="round" stroke-dasharray="1.1 7.4" stroke-linecap="round"/>
<path d="M90.0 475.3L90.8 474.8L91.6 474.3L92.3 473.9L93.1 473.4L93.9 472.9L94.7 472.4L95.4 471.9L96.2 471.4L97.0 470.9L97.8 470.4L98.5 469.9L99.3 469.5L100.1 469.0L100.9 468.5L101.6 468.1L102.4 467.6L103.2 467.2L104.0 466.7L104.7 466.3L105.5 465.9L106.3 465.5L107.1 465.2L107.8 464.8L108.6 464.5L109.4 464.1L110.2 463.8L110.9 463.5L111.7 463.2L112.5 462.9L113.3 462.6L114.0 462.3L114.8 462.1L115.6 461.8L116.4 461.6L117.1 461.3L117.9 461.1L118.7 460.9L119.5 460.6L120.3 460.4L121.0 460.2L121.8 460.0L122.6 459.8L123.4 459.6L124.1 459.5L124.9 459.3L125.7 459.1L126.5 458.9L127.2 458.8L128.0 458.6L128.8 458.4L129.6 458.3L130.3 458.1L131.1 458.0L131.9 457.8L132.7 457.7L133.4 457.6L134.2 457.4L135.0 457.3L135.8 457.2L136.5 457.1L137.3 456.9L138.1 456.8L138.9 456.7L139.6 456.6L140.4 456.5L141.2 456.4L142.0 456.3L142.7 456.2L143.5 456.1L144.3 456.0L145.1 455.9L145.8 455.9L146.6 455.8L147.4 455.7L148.2 455.6L149.0 455.6L149.7 455.5L150.5 455.4L151.3 455.4L152.1 455.3L152.8 455.2L153.6 455.2L154.4 455.1L155.2 455.1L155.9 455.0L156.7 455.0L157.5 454.9L158.3 454.9L159.0 454.8L159.8 454.8L160.6 454.8L161.4 454.7L162.1 454.7L162.9 454.7L163.7 454.6L164.5 454.6L165.2 454.6L166.0 454.5L166.8 454.5L167.6 454.5L168.3 454.5L169.1 454.4L169.9 454.4L170.7 454.4L171.4 454.4L172.2 454.4L173.0 454.3L173.8 454.3L174.6 454.3L175.3 454.3L176.1 454.3L176.9 454.3L177.7 454.3L178.4 454.2L179.2 454.2L180.0 454.2L180.8 454.2L181.5 454.2L182.3 454.2L183.1 454.2L183.9 454.2L184.6 454.2L185.4 454.1L186.2 454.1L187.0 454.1L187.7 454.1L188.5 454.1L189.3 454.1L190.1 454.1L190.8 454.1L191.6 454.1L192.4 454.1L193.2 454.1L193.9 454.0L194.7 454.0L195.5 454.0L196.3 454.0L197.0 454.0L197.8 454.0L198.6 454.0L199.4 454.0L200.1 454.0L200.9 454.0L201.7 454.0L202.5 454.0L203.3 454.0L204.0 454.0L204.8 454.0L205.6 454.0L206.4 453.9L207.1 453.9L207.9 453.9L208.7 453.9L209.5 453.9L210.2 453.9L211.0 453.9L211.8 453.9L212.6 453.9L213.3 453.9L214.1 453.9L214.9 453.9L215.7 453.9L216.4 453.9L217.2 453.9L218.0 453.9L218.8 453.9L219.5 453.9L220.3 453.9L221.1 453.9L221.9 453.9L222.6 453.9L223.4 453.9L224.2 453.9L225.0 453.9L225.7 453.9L226.5 453.9L227.3 453.9L228.1 453.9L228.8 453.9L229.6 453.9L230.4 453.9L231.2 453.9L232.0 453.9L232.7 453.9L233.5 453.9L234.3 453.9L235.1 453.9L235.8 453.9L236.6 453.9L237.4 453.9L238.2 453.9L238.9 453.9L239.7 453.9L240.5 453.9L241.3 454.0L242.0 454.0L242.8 454.0L243.6 454.0L244.4 454.0L245.1 454.0L245.9 454.0L246.7 454.0L247.5 454.0L248.2 454.0L249.0 454.0L249.8 454.0L250.6 454.0L251.3 454.0L252.1 454.0L252.9 454.1L253.7 454.1L254.4 454.1L255.2 454.1L256.0 454.1L256.8 454.1L257.5 454.1L258.3 454.1L259.1 454.1L259.9 454.1L260.7 454.2L261.4 454.2L262.2 454.2L263.0 454.2L263.8 454.2L264.5 454.2L265.3 454.2L266.1 454.2L266.9 454.2L267.6 454.3L268.4 454.3L269.2 454.3L270.0 454.3L270.7 454.3L271.5 454.3L272.3 454.3L273.1 454.4L273.8 454.4L274.6 454.4L275.4 454.4L276.2 454.4L276.9 454.4L277.7 454.4L278.5 454.5L279.3 454.5L280.0 454.5L280.8 454.5L281.6 454.5L282.4 454.5L283.1 454.6L283.9 454.6L284.7 454.6L285.5 454.6L286.2 454.6L287.0 454.7L287.8 454.7L288.6 454.7L289.4 454.7L290.1 454.7L290.9 454.7L291.7 454.8L292.5 454.8L293.2 454.8L294.0 454.8L294.8 454.9L295.6 454.9L296.3 454.9L297.1 454.9L297.9 454.9L298.7 455.0L299.4 455.0L300.2 455.0L301.0 455.0L301.8 455.1L302.5 455.1L303.3 455.1L304.1 455.1L304.9 455.1L305.6 455.2L306.4 455.2L307.2 455.2L308.0 455.2L308.7 455.3L309.5 455.3L310.3 455.3L311.1 455.3L311.8 455.4L312.6 455.4L313.4 455.4L314.2 455.5L314.9 455.5L315.7 455.5L316.5 455.5L317.3 455.6L318.1 455.6L318.8 455.6L319.6 455.7L320.4 455.7L321.2 455.7L321.9 455.7L322.7 455.8L323.5 455.8L324.3 455.8L325.0 455.9L325.8 455.9L326.6 455.9L327.4 456.0L328.1 456.0L328.9 456.0L329.7 456.1L330.5 456.1L331.2 456.1L332.0 456.1L332.8 456.2L333.6 456.2L334.3 456.3L335.1 456.3L335.9 456.3L336.7 456.4L337.4 456.4L338.2 456.4L339.0 456.5L339.8 456.5L340.5 456.5L341.3 456.6L342.1 456.6L342.9 456.6L343.7 456.7L344.4 456.7L345.2 456.7L346.0 456.8L346.8 456.8L347.5 456.9L348.3 456.9L349.1 456.9L349.9 457.0L350.6 457.0L351.4 457.1L352.2 457.1L353.0 457.1L353.7 457.2L354.5 457.2L355.3 457.3L356.1 457.3L356.8 457.3L357.6 457.4L358.4 457.4L359.2 457.5L359.9 457.5L360.7 457.6L361.5 457.6L362.3 457.6L363.0 457.7L363.8 457.7L364.6 457.8L365.4 457.8L366.1 457.9L366.9 457.9L367.7 457.9L368.5 458.0L369.2 458.0L370.0 458.1L370.8 458.1L371.6 458.2L372.4 458.2L373.1 458.3L373.9 458.3L374.7 458.4L375.5 458.4L376.2 458.5L377.0 458.5L377.8 458.6L378.6 458.6L379.3 458.7L380.1 458.7L380.9 458.8L381.7 458.8L382.4 458.9L383.2 458.9L384.0 459.0L384.8 459.0L385.5 459.1L386.3 459.1L387.1 459.2L387.9 459.2L388.6 459.3L389.4 459.3L390.2 459.4L391.0 459.4L391.7 459.5L392.5 459.5L393.3 459.6L394.1 459.6L394.8 459.7L395.6 459.8L396.4 459.8L397.2 459.9L397.9 459.9L398.7 460.0L399.5 460.0" fill="none" stroke="#ff00ff" stroke-width="3.0" stroke-linejoin="round" stroke-dasharray="8.70 8.30" stroke-linecap="round"/>
<path d="M90.0 610.3L90.8 610.9L91.6 611.5L92.3 612.1L93.1 612.6L93.9 613.1L94.7 613.7L95.4 614.2L96.2 614.7L97.0 615.1L97.8 615.6L98.5 616.1L99.3 616.5L100.1 616.9L100.9 617.4L101.6 617.8L102.4 618.2L103.2 618.6L104.0 619.0L104.7 619.3L105.5 619.7L106.3 620.0L107.1 620.4L107.8 620.7L108.6 621.0L109.4 621.4L110.2 621.7L110.9 622.0L111.7 622.2L112.5 622.5L113.3 622.8L114.0 623.1L114.8 623.3L115.6 623.6L116.4 623.8L117.1 624.0L117.9 624.3L118.7 624.5L119.5 624.7L120.3 624.9L121.0 625.1L121.8 625.3L122.6 625.5L123.4 625.7L124.1 625.9L124.9 626.0L125.7 626.2L126.5 626.4L127.2 626.5L128.0 626.7L128.8 626.8L129.6 627.0L130.3 627.1L131.1 627.3L131.9 627.4L132.7 627.5L133.4 627.7L134.2 627.8L135.0 627.9L135.8 628.0L136.5 628.2L137.3 628.3L138.1 628.4L138.9 628.5L139.6 628.6L140.4 628.7L141.2 628.8L142.0 628.9L142.7 629.0L143.5 629.1L144.3 629.2L145.1 629.3L145.8 629.4L146.6 629.5L147.4 629.6L148.2 629.7L149.0 629.8L149.7 629.8L150.5 629.9L151.3 630.0L152.1 630.1L152.8 630.1L153.6 630.2L154.4 630.3L155.2 630.4L155.9 630.4L156.7 630.5L157.5 630.6L158.3 630.6L159.0 630.7L159.8 630.7L160.6 630.8L161.4 630.8L162.1 630.9L162.9 630.9L163.7 631.0L164.5 631.0L165.2 631.1L166.0 631.1L166.8 631.2L167.6 631.2L168.3 631.3L169.1 631.3L169.9 631.3L170.7 631.4L171.4 631.4L172.2 631.4L173.0 631.5L173.8 631.5L174.6 631.5L175.3 631.6L176.1 631.6L176.9 631.6L177.7 631.6L178.4 631.7L179.2 631.7L180.0 631.7L180.8 631.7L181.5 631.8L182.3 631.8L183.1 631.8L183.9 631.8L184.6 631.8L185.4 631.8L186.2 631.9L187.0 631.9L187.7 631.9L188.5 631.9L189.3 631.9L190.1 631.9L190.8 631.9L191.6 631.9L192.4 631.9L193.2 632.0L193.9 632.0L194.7 632.0L195.5 632.0L196.3 632.0L197.0 632.0L197.8 632.0L198.6 632.0L199.4 632.0L200.1 632.0L200.9 632.0L201.7 632.0L202.5 632.0L203.3 632.0L204.0 632.0L204.8 632.0L205.6 632.0L206.4 632.0L207.1 632.0L207.9 632.0L208.7 632.0L209.5 632.0L210.2 632.0L211.0 632.0L211.8 632.0L212.6 632.0L213.3 632.0L214.1 632.0L214.9 632.0L215.7 632.0L216.4 632.0L217.2 632.0L218.0 632.0L218.8 632.0L219.5 632.0L220.3 632.0L221.1 632.0L221.9 632.0L222.6 632.0L223.4 632.0L224.2 632.0L225.0 632.0L225.7 632.0L226.5 632.0L227.3 632.0L228.1 632.0L228.8 632.0L229.6 632.0L230.4 632.0L231.2 632.0L232.0 632.0L232.7 632.0L233.5 632.0L234.3 632.0L235.1 631.9L235.8 631.9L236.6 631.9L237.4 631.9L238.2 631.9L238.9 631.9L239.7 631.9L240.5 631.9L241.3 631.9L242.0 631.9L242.8 631.9L243.6 631.9L244.4 631.9L245.1 631.9L245.9 631.9L246.7 631.9L247.5 631.9L248.2 631.9L249.0 631.8L249.8 631.8L250.6 631.8L251.3 631.8L252.1 631.8L252.9 631.8L253.7 631.8L254.4 631.8L255.2 631.8L256.0 631.8L256.8 631.8L257.5 631.8L258.3 631.8L259.1 631.7L259.9 631.7L260.7 631.7L261.4 631.7L262.2 631.7L263.0 631.7L263.8 631.7L264.5 631.7L265.3 631.7L266.1 631.7L266.9 631.6L267.6 631.6L268.4 631.6L269.2 631.6L270.0 631.6L270.7 631.6L271.5 631.6L272.3 631.6L273.1 631.5L273.8 631.5L274.6 631.5L275.4 631.5L276.2 631.5L276.9 631.5L277.7 631.5L278.5 631.5L279.3 631.4L280.0 631.4L280.8 631.4L281.6 631.4L282.4 631.4L283.1 631.4L283.9 631.3L284.7 631.3L285.5 631.3L286.2 631.3L287.0 631.3L287.8 631.3L288.6 631.3L289.4 631.2L290.1 631.2L290.9 631.2L291.7 631.2L292.5 631.2L293.2 631.1L294.0 631.1L294.8 631.1L295.6 631.1L296.3 631.1L297.1 631.1L297.9 631.0L298.7 631.0L299.4 631.0L300.2 631.0L301.0 631.0L301.8 630.9L302.5 630.9L303.3 630.9L304.1 630.9L304.9 630.9L305.6 630.8L306.4 630.8L307.2 630.8L308.0 630.8L308.7 630.7L309.5 630.7L310.3 630.7L311.1 630.7L311.8 630.6L312.6 630.6L313.4 630.6L314.2 630.6L314.9 630.6L315.7 630.5L316.5 630.5L317.3 630.5L318.1 630.5L318.8 630.4L319.6 630.4L320.4 630.4L321.2 630.3L321.9 630.3L322.7 630.3L323.5 630.3L324.3 630.2L325.0 630.2L325.8 630.2L326.6 630.2L327.4 630.1L328.1 630.1L328.9 630.1L329.7 630.0L330.5 630.0L331.2 630.0L332.0 630.0L332.8 629.9L333.6 629.9L334.3 629.9L335.1 629.8L335.9 629.8L336.7 629.8L337.4 629.7L338.2 629.7L339.0 629.7L339.8 629.6L340.5 629.6L341.3 629.6L342.1 629.5L342.9 629.5L343.7 629.5L344.4 629.4L345.2 629.4L346.0 629.4L346.8 629.3L347.5 629.3L348.3 629.3L349.1 629.2L349.9 629.2L350.6 629.1L351.4 629.1L352.2 629.1L353.0 629.0L353.7 629.0L354.5 629.0L355.3 628.9L356.1 628.9L356.8 628.8L357.6 628.8L358.4 628.8L359.2 628.7L359.9 628.7L360.7 628.6L361.5 628.6L362.3 628.6L363.0 628.5L363.8 628.5L364.6 628.4L365.4 628.4L366.1 628.3L366.9 628.3L367.7 628.3L368.5 628.2L369.2 628.2L370.0 628.1L370.8 628.1L371.6 628.0L372.4 628.0L373.1 627.9L373.9 627.9L374.7 627.9L375.5 627.8L376.2 627.8L377.0 627.7L377.8 627.7L378.6 627.6L379.3 627.6L380.1 627.5L380.9 627.5L381.7 627.4L382.4 627.4L383.2 627.3L384.0 627.3L384.8 627.2L385.5 627.2L386.3 627.1L387.1 627.1L387.9 627.0L388.6 627.0L389.4 626.9L390.2 626.9L391.0 626.8L391.7 626.8L392.5 626.7L393.3 626.6L394.1 626.6L394.8 626.5L395.6 626.5L396.4 626.4L397.2 626.4L397.9 626.3L398.7 626.3L399.5 626.2" fill="none" stroke="#ff00ff" stroke-width="3.0" stroke-linejoin="round" stroke-dasharray="8.70 8.30" stroke-linecap="round"/>
<path d="M90.0 474.1L90.8 473.1L91.6 472.1L92.3 471.1L93.1 470.2L93.9 469.4L94.7 468.6L95.4 467.8L96.2 467.0L97.0 466.3L97.8 465.7L98.5 465.0L99.3 464.4L100.1 463.9L100.9 463.3L101.6 462.8L102.4 462.3L103.2 461.9L104.0 461.5L104.7 461.1L105.5 460.7L106.3 460.3L107.1 460.0L107.8 459.6L108.6 459.3L109.4 459.0L110.2 458.8L110.9 458.5L111.7 458.2L112.5 458.0L113.3 457.8L114.0 457.5L114.8 457.3L115.6 457.1L116.4 456.9L117.1 456.7L117.9 456.5L118.7 456.3L119.5 456.1L120.3 456.0L121.0 455.8L121.8 455.6L122.6 455.5L123.4 455.3L124.1 455.2L124.9 455.0L125.7 454.9L126.5 454.7L127.2 454.6L128.0 454.5L128.8 454.4L129.6 454.2L130.3 454.1L131.1 454.0L131.9 453.9L132.7 453.8L133.4 453.7L134.2 453.6L135.0 453.5L135.8 453.4L136.5 453.4L137.3 453.3L138.1 453.2L138.9 453.1L139.6 453.1L140.4 453.0L141.2 452.9L142.0 452.9L142.7 452.8L143.5 452.7L144.3 452.7L145.1 452.6L145.8 452.6L146.6 452.5L147.4 452.5L148.2 452.4L149.0 452.4L149.7 452.4L150.5 452.3L151.3 452.3L152.1 452.3L152.8 452.2L153.6 452.2L154.4 452.2L155.2 452.1L155.9 452.1L156.7 452.1L157.5 452.0L158.3 452.0L159.0 452.0L159.8 452.0L160.6 451.9L161.4 451.9L162.1 451.9L162.9 451.8L163.7 451.8L164.5 451.8L165.2 451.8L166.0 451.7L166.8 451.7L167.6 451.7L168.3 451.7L169.1 451.6L169.9 451.6L170.7 451.6L171.4 451.6L172.2 451.5L173.0 451.5L173.8 451.5L174.6 451.5L175.3 451.4L176.1 451.4L176.9 451.4L177.7 451.4L178.4 451.3L179.2 451.3L180.0 451.3L180.8 451.2L181.5 451.2L182.3 451.2L183.1 451.2L183.9 451.1L184.6 451.1L185.4 451.1L186.2 451.1L187.0 451.0L187.7 451.0L188.5 451.0L189.3 451.0L190.1 450.9L190.8 450.9L191.6 450.9L192.4 450.9L193.2 450.8L193.9 450.8L194.7 450.8L195.5 450.8L196.3 450.7L197.0 450.7L197.8 450.7L198.6 450.7L199.4 450.6L200.1 450.6L200.9 450.6L201.7 450.5L202.5 450.5L203.3 450.5L204.0 450.5L204.8 450.4L205.6 450.4L206.4 450.4L207.1 450.4L207.9 450.3L208.7 450.3L209.5 450.3L210.2 450.3L211.0 450.2L211.8 450.2L212.6 450.2L213.3 450.2L214.1 450.1L214.9 450.1L215.7 450.1L216.4 450.1L217.2 450.0L218.0 450.0L218.8 450.0L219.5 450.0L220.3 449.9L221.1 449.9L221.9 449.9L222.6 449.9L223.4 449.8L224.2 449.8L225.0 449.8L225.7 449.8L226.5 449.7L227.3 449.7L228.1 449.7L228.8 449.7L229.6 449.6L230.4 449.6L231.2 449.6L232.0 449.6L232.7 449.5L233.5 449.5L234.3 449.5L235.1 449.5L235.8 449.4L236.6 449.4L237.4 449.4L238.2 449.4L238.9 449.3L239.7 449.3L240.5 449.3L241.3 449.3L242.0 449.3L242.8 449.2L243.6 449.2L244.4 449.2L245.1 449.2L245.9 449.1L246.7 449.1L247.5 449.1L248.2 449.1L249.0 449.0L249.8 449.0L250.6 449.0L251.3 449.0L252.1 448.9L252.9 448.9L253.7 448.9L254.4 448.9L255.2 448.9L256.0 448.8L256.8 448.8L257.5 448.8L258.3 448.8L259.1 448.7L259.9 448.7L260.7 448.7L261.4 448.7L262.2 448.6L263.0 448.6L263.8 448.6L264.5 448.6L265.3 448.6L266.1 448.5L266.9 448.5L267.6 448.5L268.4 448.5L269.2 448.4L270.0 448.4L270.7 448.4L271.5 448.4L272.3 448.4L273.1 448.3L273.8 448.3L274.6 448.3L275.4 448.3L276.2 448.2L276.9 448.2L277.7 448.2L278.5 448.2L279.3 448.2L280.0 448.1L280.8 448.1L281.6 448.1L282.4 448.1L283.1 448.1L283.9 448.0L284.7 448.0L285.5 448.0L286.2 448.0L287.0 447.9L287.8 447.9L288.6 447.9L289.4 447.9L290.1 447.9L290.9 447.8L291.7 447.8L292.5 447.8L293.2 447.8L294.0 447.8L294.8 447.7L295.6 447.7L296.3 447.7L297.1 447.7L297.9 447.7L298.7 447.6L299.4 447.6L300.2 447.6L301.0 447.6L301.8 447.6L302.5 447.5L303.3 447.5L304.1 447.5L304.9 447.5L305.6 447.5L306.4 447.5L307.2 447.4L308.0 447.4L308.7 447.4L309.5 447.4L310.3 447.4L311.1 447.3L311.8 447.3L312.6 447.3L313.4 447.3L314.2 447.3L314.9 447.2L315.7 447.2L316.5 447.2L317.3 447.2L318.1 447.2L318.8 447.2L319.6 447.1L320.4 447.1L321.2 447.1L321.9 447.1L322.7 447.1L323.5 447.1L324.3 447.0L325.0 447.0L325.8 447.0L326.6 447.0L327.4 447.0L328.1 447.0L328.9 446.9L329.7 446.9L330.5 446.9L331.2 446.9L332.0 446.9L332.8 446.9L333.6 446.8L334.3 446.8L335.1 446.8L335.9 446.8L336.7 446.8L337.4 446.8L338.2 446.7L339.0 446.7L339.8 446.7L340.5 446.7L341.3 446.7L342.1 446.7L342.9 446.7L343.7 446.6L344.4 446.6L345.2 446.6L346.0 446.6L346.8 446.6L347.5 446.6L348.3 446.6L349.1 446.5L349.9 446.5L350.6 446.5L351.4 446.5L352.2 446.5L353.0 446.5L353.7 446.5L354.5 446.4L355.3 446.4L356.1 446.4L356.8 446.4L357.6 446.4L358.4 446.4L359.2 446.4L359.9 446.4L360.7 446.3L361.5 446.3L362.3 446.3L363.0 446.3L363.8 446.3L364.6 446.3L365.4 446.3L366.1 446.3L366.9 446.2L367.7 446.2L368.5 446.2L369.2 446.2L370.0 446.2L370.8 446.2L371.6 446.2L372.4 446.2L373.1 446.2L373.9 446.1L374.7 446.1L375.5 446.1L376.2 446.1L377.0 446.1L377.8 446.1L378.6 446.1L379.3 446.1L380.1 446.1L380.9 446.1L381.7 446.0L382.4 446.0L383.2 446.0L384.0 446.0L384.8 446.0L385.5 446.0L386.3 446.0L387.1 446.0L387.9 446.0L388.6 446.0L389.4 446.0L390.2 446.0L391.0 445.9L391.7 445.9L392.5 445.9L393.3 445.9L394.1 445.9L394.8 445.9L395.6 445.9L396.4 445.9L397.2 445.9L397.9 445.9L398.7 445.9L399.5 445.9" fill="none" stroke="#000000" stroke-width="3.0" stroke-linejoin="round" stroke-linecap="butt"/>
<path d="M90.0 611.2L90.8 612.5L91.6 613.8L92.3 615.0L93.1 616.1L93.9 617.1L94.7 618.1L95.4 619.0L96.2 619.9L97.0 620.7L97.8 621.4L98.5 622.1L99.3 622.8L100.1 623.4L100.9 624.0L101.6 624.5L102.4 625.0L103.2 625.4L104.0 625.8L104.7 626.2L105.5 626.6L106.3 627.0L107.1 627.3L107.8 627.6L108.6 627.9L109.4 628.2L110.2 628.4L110.9 628.7L111.7 629.0L112.5 629.2L113.3 629.5L114.0 629.7L114.8 629.9L115.6 630.2L116.4 630.4L117.1 630.6L117.9 630.8L118.7 631.0L119.5 631.2L120.3 631.4L121.0 631.6L121.8 631.8L122.6 631.9L123.4 632.1L124.1 632.3L124.9 632.4L125.7 632.6L126.5 632.7L127.2 632.9L128.0 633.0L128.8 633.1L129.6 633.3L130.3 633.4L131.1 633.5L131.9 633.6L132.7 633.8L133.4 633.9L134.2 634.0L135.0 634.1L135.8 634.2L136.5 634.3L137.3 634.3L138.1 634.4L138.9 634.5L139.6 634.6L140.4 634.7L141.2 634.8L142.0 634.8L142.7 634.9L143.5 635.0L144.3 635.0L145.1 635.1L145.8 635.1L146.6 635.2L147.4 635.3L148.2 635.3L149.0 635.4L149.7 635.4L150.5 635.5L151.3 635.5L152.1 635.6L152.8 635.6L153.6 635.6L154.4 635.7L155.2 635.7L155.9 635.8L156.7 635.8L157.5 635.8L158.3 635.9L159.0 635.9L159.8 635.9L160.6 636.0L161.4 636.0L162.1 636.1L162.9 636.1L163.7 636.1L164.5 636.2L165.2 636.2L166.0 636.2L166.8 636.3L167.6 636.3L168.3 636.3L169.1 636.4L169.9 636.4L170.7 636.4L171.4 636.5L172.2 636.5L173.0 636.5L173.8 636.6L174.6 636.6L175.3 636.6L176.1 636.6L176.9 636.7L177.7 636.7L178.4 636.7L179.2 636.8L180.0 636.8L180.8 636.8L181.5 636.9L182.3 636.9L183.1 636.9L183.9 636.9L184.6 637.0L185.4 637.0L186.2 637.0L187.0 637.0L187.7 637.1L188.5 637.1L189.3 637.1L190.1 637.2L190.8 637.2L191.6 637.2L192.4 637.2L193.2 637.3L193.9 637.3L194.7 637.3L195.5 637.3L196.3 637.3L197.0 637.4L197.8 637.4L198.6 637.4L199.4 637.4L200.1 637.5L200.9 637.5L201.7 637.5L202.5 637.5L203.3 637.6L204.0 637.6L204.8 637.6L205.6 637.6L206.4 637.6L207.1 637.7L207.9 637.7L208.7 637.7L209.5 637.7L210.2 637.7L211.0 637.8L211.8 637.8L212.6 637.8L213.3 637.8L214.1 637.8L214.9 637.9L215.7 637.9L216.4 637.9L217.2 637.9L218.0 637.9L218.8 637.9L219.5 638.0L220.3 638.0L221.1 638.0L221.9 638.0L222.6 638.0L223.4 638.0L224.2 638.1L225.0 638.1L225.7 638.1L226.5 638.1L227.3 638.1L228.1 638.1L228.8 638.2L229.6 638.2L230.4 638.2L231.2 638.2L232.0 638.2L232.7 638.2L233.5 638.3L234.3 638.3L235.1 638.3L235.8 638.3L236.6 638.3L237.4 638.3L238.2 638.3L238.9 638.4L239.7 638.4L240.5 638.4L241.3 638.4L242.0 638.4L242.8 638.4L243.6 638.4L244.4 638.4L245.1 638.5L245.9 638.5L246.7 638.5L247.5 638.5L248.2 638.5L249.0 638.5L249.8 638.5L250.6 638.5L251.3 638.6L252.1 638.6L252.9 638.6L253.7 638.6L254.4 638.6L255.2 638.6L256.0 638.6L256.8 638.6L257.5 638.6L258.3 638.7L259.1 638.7L259.9 638.7L260.7 638.7L261.4 638.7L262.2 638.7L263.0 638.7L263.8 638.7L264.5 638.7L265.3 638.8L266.1 638.8L266.9 638.8L267.6 638.8L268.4 638.8L269.2 638.8L270.0 638.8L270.7 638.8L271.5 638.8L272.3 638.8L273.1 638.9L273.8 638.9L274.6 638.9L275.4 638.9L276.2 638.9L276.9 638.9L277.7 638.9L278.5 638.9L279.3 638.9L280.0 638.9L280.8 638.9L281.6 639.0L282.4 639.0L283.1 639.0L283.9 639.0L284.7 639.0L285.5 639.0L286.2 639.0L287.0 639.0L287.8 639.0L288.6 639.0L289.4 639.0L290.1 639.1L290.9 639.1L291.7 639.1L292.5 639.1L293.2 639.1L294.0 639.1L294.8 639.1L295.6 639.1L296.3 639.1L297.1 639.1L297.9 639.1L298.7 639.2L299.4 639.2L300.2 639.2L301.0 639.2L301.8 639.2L302.5 639.2L303.3 639.2L304.1 639.2L304.9 639.2L305.6 639.2L306.4 639.2L307.2 639.2L308.0 639.3L308.7 639.3L309.5 639.3L310.3 639.3L311.1 639.3L311.8 639.3L312.6 639.3L313.4 639.3L314.2 639.3L314.9 639.3L315.7 639.3L316.5 639.4L317.3 639.4L318.1 639.4L318.8 639.4L319.6 639.4L320.4 639.4L321.2 639.4L321.9 639.4L322.7 639.4L323.5 639.4L324.3 639.5L325.0 639.5L325.8 639.5L326.6 639.5L327.4 639.5L328.1 639.5L328.9 639.5L329.7 639.5L330.5 639.5L331.2 639.5L332.0 639.6L332.8 639.6L333.6 639.6L334.3 639.6L335.1 639.6L335.9 639.6L336.7 639.6L337.4 639.6L338.2 639.6L339.0 639.7L339.8 639.7L340.5 639.7L341.3 639.7L342.1 639.7L342.9 639.7L343.7 639.7L344.4 639.7L345.2 639.8L346.0 639.8L346.8 639.8L347.5 639.8L348.3 639.8L349.1 639.8L349.9 639.8L350.6 639.8L351.4 639.9L352.2 639.9L353.0 639.9L353.7 639.9L354.5 639.9L355.3 639.9L356.1 639.9L356.8 640.0L357.6 640.0L358.4 640.0L359.2 640.0L359.9 640.0L360.7 640.0L361.5 640.0L362.3 640.1L363.0 640.1L363.8 640.1L364.6 640.1L365.4 640.1L366.1 640.1L366.9 640.1L367.7 640.2L368.5 640.2L369.2 640.2L370.0 640.2L370.8 640.2L371.6 640.2L372.4 640.3L373.1 640.3L373.9 640.3L374.7 640.3L375.5 640.3L376.2 640.4L377.0 640.4L377.8 640.4L378.6 640.4L379.3 640.4L380.1 640.4L380.9 640.5L381.7 640.5L382.4 640.5L383.2 640.5L384.0 640.5L384.8 640.6L385.5 640.6L386.3 640.6L387.1 640.6L387.9 640.6L388.6 640.7L389.4 640.7L390.2 640.7L391.0 640.7L391.7 640.8L392.5 640.8L393.3 640.8L394.1 640.8L394.8 640.8L395.6 640.9L396.4 640.9L397.2 640.9L397.9 640.9L398.7 641.0L399.5 641.0" fill="none" stroke="#000000" stroke-width="3.0" stroke-linejoin="round" stroke-linecap="butt"/>
<path d="M90.0 475.0L90.8 474.3L91.6 473.6L92.3 472.9L93.1 472.2L93.9 471.5L94.7 470.9L95.4 470.2L96.2 469.6L97.0 469.0L97.8 468.4L98.5 467.8L99.3 467.2L100.1 466.7L100.9 466.1L101.6 465.6L102.4 465.1L103.2 464.6L104.0 464.1L104.7 463.7L105.5 463.3L106.3 462.8L107.1 462.4L107.8 462.0L108.6 461.7L109.4 461.3L110.2 461.0L110.9 460.6L111.7 460.3L112.5 460.0L113.3 459.7L114.0 459.4L114.8 459.2L115.6 458.9L116.4 458.7L117.1 458.4L117.9 458.2L118.7 458.0L119.5 457.8L120.3 457.5L121.0 457.3L121.8 457.1L122.6 456.9L123.4 456.8L124.1 456.6L124.9 456.4L125.7 456.2L126.5 456.0L127.2 455.9L128.0 455.7L128.8 455.6L129.6 455.4L130.3 455.2L131.1 455.1L131.9 455.0L132.7 454.8L133.4 454.7L134.2 454.5L135.0 454.4L135.8 454.3L136.5 454.1L137.3 454.0L138.1 453.9L138.9 453.8L139.6 453.7L140.4 453.5L141.2 453.4L142.0 453.3L142.7 453.2L143.5 453.1L144.3 453.0L145.1 452.9L145.8 452.8L146.6 452.7L147.4 452.7L148.2 452.6L149.0 452.5L149.7 452.4L150.5 452.3L151.3 452.2L152.1 452.2L152.8 452.1L153.6 452.0L154.4 452.0L155.2 451.9L155.9 451.8L156.7 451.8L157.5 451.7L158.3 451.6L159.0 451.6L159.8 451.5L160.6 451.5L161.4 451.4L162.1 451.4L162.9 451.3L163.7 451.3L164.5 451.2L165.2 451.2L166.0 451.1L166.8 451.1L167.6 451.0L168.3 451.0L169.1 450.9L169.9 450.9L170.7 450.8L171.4 450.8L172.2 450.8L173.0 450.7L173.8 450.7L174.6 450.7L175.3 450.6L176.1 450.6L176.9 450.5L177.7 450.5L178.4 450.5L179.2 450.4L180.0 450.4L180.8 450.4L181.5 450.3L182.3 450.3L183.1 450.3L183.9 450.2L184.6 450.2L185.4 450.2L186.2 450.1L187.0 450.1L187.7 450.0L188.5 450.0L189.3 450.0L190.1 449.9L190.8 449.9L191.6 449.9L192.4 449.8L193.2 449.8L193.9 449.8L194.7 449.7L195.5 449.7L196.3 449.7L197.0 449.6L197.8 449.6L198.6 449.6L199.4 449.5L200.1 449.5L200.9 449.5L201.7 449.4L202.5 449.4L203.3 449.4L204.0 449.3L204.8 449.3L205.6 449.3L206.4 449.2L207.1 449.2L207.9 449.2L208.7 449.1L209.5 449.1L210.2 449.1L211.0 449.0L211.8 449.0L212.6 449.0L213.3 448.9L214.1 448.9L214.9 448.9L215.7 448.8L216.4 448.8L217.2 448.8L218.0 448.7L218.8 448.7L219.5 448.7L220.3 448.6L221.1 448.6L221.9 448.6L222.6 448.5L223.4 448.5L224.2 448.5L225.0 448.4L225.7 448.4L226.5 448.4L227.3 448.4L228.1 448.3L228.8 448.3L229.6 448.3L230.4 448.2L231.2 448.2L232.0 448.2L232.7 448.1L233.5 448.1L234.3 448.1L235.1 448.0L235.8 448.0L236.6 448.0L237.4 448.0L238.2 447.9L238.9 447.9L239.7 447.9L240.5 447.8L241.3 447.8L242.0 447.8L242.8 447.7L243.6 447.7L244.4 447.7L245.1 447.7L245.9 447.6L246.7 447.6L247.5 447.6L248.2 447.5L249.0 447.5L249.8 447.5L250.6 447.5L251.3 447.4L252.1 447.4L252.9 447.4L253.7 447.3L254.4 447.3L255.2 447.3L256.0 447.3L256.8 447.2L257.5 447.2L258.3 447.2L259.1 447.1L259.9 447.1L260.7 447.1L261.4 447.1L262.2 447.0L263.0 447.0L263.8 447.0L264.5 447.0L265.3 446.9L266.1 446.9L266.9 446.9L267.6 446.9L268.4 446.8L269.2 446.8L270.0 446.8L270.7 446.7L271.5 446.7L272.3 446.7L273.1 446.7L273.8 446.6L274.6 446.6L275.4 446.6L276.2 446.6L276.9 446.5L277.7 446.5L278.5 446.5L279.3 446.5L280.0 446.4L280.8 446.4L281.6 446.4L282.4 446.4L283.1 446.4L283.9 446.3L284.7 446.3L285.5 446.3L286.2 446.3L287.0 446.2L287.8 446.2L288.6 446.2L289.4 446.2L290.1 446.1L290.9 446.1L291.7 446.1L292.5 446.1L293.2 446.1L294.0 446.0L294.8 446.0L295.6 446.0L296.3 446.0L297.1 445.9L297.9 445.9L298.7 445.9L299.4 445.9L300.2 445.9L301.0 445.8L301.8 445.8L302.5 445.8L303.3 445.8L304.1 445.8L304.9 445.7L305.6 445.7L306.4 445.7L307.2 445.7L308.0 445.7L308.7 445.6L309.5 445.6L310.3 445.6L311.1 445.6L311.8 445.6L312.6 445.5L313.4 445.5L314.2 445.5L314.9 445.5L315.7 445.5L316.5 445.5L317.3 445.4L318.1 445.4L318.8 445.4L319.6 445.4L320.4 445.4L321.2 445.4L321.9 445.3L322.7 445.3L323.5 445.3L324.3 445.3L325.0 445.3L325.8 445.3L326.6 445.2L327.4 445.2L328.1 445.2L328.9 445.2L329.7 445.2L330.5 445.2L331.2 445.1L332.0 445.1L332.8 445.1L333.6 445.1L334.3 445.1L335.1 445.1L335.9 445.1L336.7 445.0L337.4 445.0L338.2 445.0L339.0 445.0L339.8 445.0L340.5 445.0L341.3 445.0L342.1 445.0L342.9 444.9L343.7 444.9L344.4 444.9L345.2 444.9L346.0 444.9L346.8 444.9L347.5 444.9L348.3 444.9L349.1 444.9L349.9 444.8L350.6 444.8L351.4 444.8L352.2 444.8L353.0 444.8L353.7 444.8L354.5 444.8L355.3 444.8L356.1 444.8L356.8 444.8L357.6 444.7L358.4 444.7L359.2 444.7L359.9 444.7L360.7 444.7L361.5 444.7L362.3 444.7L363.0 444.7L363.8 444.7L364.6 444.7L365.4 444.7L366.1 444.7L366.9 444.6L367.7 444.6L368.5 444.6L369.2 444.6L370.0 444.6L370.8 444.6L371.6 444.6L372.4 444.6L373.1 444.6L373.9 444.6L374.7 444.6L375.5 444.6L376.2 444.6L377.0 444.6L377.8 444.6L378.6 444.6L379.3 444.6L380.1 444.6L380.9 444.6L381.7 444.6L382.4 444.6L383.2 444.6L384.0 444.6L384.8 444.6L385.5 444.5L386.3 444.5L387.1 444.5L387.9 444.5L388.6 444.5L389.4 444.5L390.2 444.5L391.0 444.5L391.7 444.5L392.5 444.5L393.3 444.5L394.1 444.5L394.8 444.5L395.6 444.5L396.4 444.5L397.2 444.5L397.9 444.5L398.7 444.5L399.5 444.6" fill="none" stroke="#0000ff" stroke-width="3.0" stroke-linejoin="round" stroke-dasharray="12.60 12.80" stroke-linecap="round" stroke-dashoffset="-6"/>
<path d="M90.0 610.5L90.8 611.2L91.6 611.9L92.3 612.6L93.1 613.3L93.9 613.9L94.7 614.6L95.4 615.2L96.2 615.8L97.0 616.3L97.8 616.9L98.5 617.4L99.3 618.0L100.1 618.5L100.9 619.0L101.6 619.4L102.4 619.9L103.2 620.4L104.0 620.8L104.7 621.2L105.5 621.6L106.3 622.0L107.1 622.4L107.8 622.8L108.6 623.1L109.4 623.5L110.2 623.8L110.9 624.1L111.7 624.4L112.5 624.7L113.3 625.0L114.0 625.3L114.8 625.6L115.6 625.9L116.4 626.1L117.1 626.4L117.9 626.6L118.7 626.9L119.5 627.1L120.3 627.3L121.0 627.6L121.8 627.8L122.6 628.0L123.4 628.2L124.1 628.4L124.9 628.6L125.7 628.8L126.5 629.0L127.2 629.2L128.0 629.4L128.8 629.6L129.6 629.8L130.3 630.0L131.1 630.2L131.9 630.3L132.7 630.5L133.4 630.7L134.2 630.8L135.0 631.0L135.8 631.2L136.5 631.3L137.3 631.5L138.1 631.6L138.9 631.8L139.6 631.9L140.4 632.0L141.2 632.2L142.0 632.3L142.7 632.5L143.5 632.6L144.3 632.7L145.1 632.8L145.8 633.0L146.6 633.1L147.4 633.2L148.2 633.3L149.0 633.4L149.7 633.5L150.5 633.6L151.3 633.7L152.1 633.8L152.8 633.9L153.6 634.0L154.4 634.1L155.2 634.2L155.9 634.3L156.7 634.4L157.5 634.5L158.3 634.6L159.0 634.7L159.8 634.7L160.6 634.8L161.4 634.9L162.1 635.0L162.9 635.0L163.7 635.1L164.5 635.2L165.2 635.3L166.0 635.3L166.8 635.4L167.6 635.5L168.3 635.5L169.1 635.6L169.9 635.7L170.7 635.7L171.4 635.8L172.2 635.8L173.0 635.9L173.8 636.0L174.6 636.0L175.3 636.1L176.1 636.1L176.9 636.2L177.7 636.2L178.4 636.3L179.2 636.3L180.0 636.4L180.8 636.4L181.5 636.5L182.3 636.5L183.1 636.6L183.9 636.6L184.6 636.7L185.4 636.7L186.2 636.8L187.0 636.8L187.7 636.9L188.5 636.9L189.3 637.0L190.1 637.0L190.8 637.0L191.6 637.1L192.4 637.1L193.2 637.2L193.9 637.2L194.7 637.3L195.5 637.3L196.3 637.4L197.0 637.4L197.8 637.4L198.6 637.5L199.4 637.5L200.1 637.6L200.9 637.6L201.7 637.6L202.5 637.7L203.3 637.7L204.0 637.8L204.8 637.8L205.6 637.8L206.4 637.9L207.1 637.9L207.9 638.0L208.7 638.0L209.5 638.0L210.2 638.1L211.0 638.1L211.8 638.1L212.6 638.2L213.3 638.2L214.1 638.2L214.9 638.3L215.7 638.3L216.4 638.4L217.2 638.4L218.0 638.4L218.8 638.5L219.5 638.5L220.3 638.5L221.1 638.6L221.9 638.6L222.6 638.6L223.4 638.6L224.2 638.7L225.0 638.7L225.7 638.7L226.5 638.8L227.3 638.8L228.1 638.8L228.8 638.9L229.6 638.9L230.4 638.9L231.2 639.0L232.0 639.0L232.7 639.0L233.5 639.0L234.3 639.1L235.1 639.1L235.8 639.1L236.6 639.1L237.4 639.2L238.2 639.2L238.9 639.2L239.7 639.3L240.5 639.3L241.3 639.3L242.0 639.3L242.8 639.4L243.6 639.4L244.4 639.4L245.1 639.4L245.9 639.5L246.7 639.5L247.5 639.5L248.2 639.5L249.0 639.5L249.8 639.6L250.6 639.6L251.3 639.6L252.1 639.6L252.9 639.7L253.7 639.7L254.4 639.7L255.2 639.7L256.0 639.7L256.8 639.8L257.5 639.8L258.3 639.8L259.1 639.8L259.9 639.8L260.7 639.9L261.4 639.9L262.2 639.9L263.0 639.9L263.8 639.9L264.5 640.0L265.3 640.0L266.1 640.0L266.9 640.0L267.6 640.0L268.4 640.0L269.2 640.1L270.0 640.1L270.7 640.1L271.5 640.1L272.3 640.1L273.1 640.2L273.8 640.2L274.6 640.2L275.4 640.2L276.2 640.2L276.9 640.2L277.7 640.2L278.5 640.3L279.3 640.3L280.0 640.3L280.8 640.3L281.6 640.3L282.4 640.3L283.1 640.4L283.9 640.4L284.7 640.4L285.5 640.4L286.2 640.4L287.0 640.4L287.8 640.4L288.6 640.4L289.4 640.5L290.1 640.5L290.9 640.5L291.7 640.5L292.5 640.5L293.2 640.5L294.0 640.5L294.8 640.5L295.6 640.6L296.3 640.6L297.1 640.6L297.9 640.6L298.7 640.6L299.4 640.6L300.2 640.6L301.0 640.6L301.8 640.6L302.5 640.7L303.3 640.7L304.1 640.7L304.9 640.7L305.6 640.7L306.4 640.7L307.2 640.7L308.0 640.7L308.7 640.7L309.5 640.7L310.3 640.8L311.1 640.8L311.8 640.8L312.6 640.8L313.4 640.8L314.2 640.8L314.9 640.8L315.7 640.8L316.5 640.8L317.3 640.8L318.1 640.8L318.8 640.8L319.6 640.9L320.4 640.9L321.2 640.9L321.9 640.9L322.7 640.9L323.5 640.9L324.3 640.9L325.0 640.9L325.8 640.9L326.6 640.9L327.4 640.9L328.1 640.9L328.9 640.9L329.7 641.0L330.5 641.0L331.2 641.0L332.0 641.0L332.8 641.0L333.6 641.0L334.3 641.0L335.1 641.0L335.9 641.0L336.7 641.0L337.4 641.0L338.2 641.0L339.0 641.0L339.8 641.0L340.5 641.0L341.3 641.0L342.1 641.1L342.9 641.1L343.7 641.1L344.4 641.1L345.2 641.1L346.0 641.1L346.8 641.1L347.5 641.1L348.3 641.1L349.1 641.1L349.9 641.1L350.6 641.1L351.4 641.1L352.2 641.1L353.0 641.1L353.7 641.1L354.5 641.1L355.3 641.1L356.1 641.2L356.8 641.2L357.6 641.2L358.4 641.2L359.2 641.2L359.9 641.2L360.7 641.2L361.5 641.2L362.3 641.2L363.0 641.2L363.8 641.2L364.6 641.2L365.4 641.2L366.1 641.2L366.9 641.2L367.7 641.2L368.5 641.2L369.2 641.2L370.0 641.2L370.8 641.2L371.6 641.3L372.4 641.3L373.1 641.3L373.9 641.3L374.7 641.3L375.5 641.3L376.2 641.3L377.0 641.3L377.8 641.3L378.6 641.3L379.3 641.3L380.1 641.3L380.9 641.3L381.7 641.3L382.4 641.3L383.2 641.3L384.0 641.3L384.8 641.3L385.5 641.3L386.3 641.4L387.1 641.4L387.9 641.4L388.6 641.4L389.4 641.4L390.2 641.4L391.0 641.4L391.7 641.4L392.5 641.4L393.3 641.4L394.1 641.4L394.8 641.4L395.6 641.4L396.4 641.4L397.2 641.4L397.9 641.4L398.7 641.4L399.5 641.5" fill="none" stroke="#0000ff" stroke-width="3.0" stroke-linejoin="round" stroke-dasharray="12.60 12.80" stroke-linecap="round" stroke-dashoffset="-6"/>
<path d="M90.0 475.3L90.8 474.7L91.6 474.2L92.3 473.6L93.1 473.1L93.9 472.6L94.7 472.0L95.4 471.5L96.2 471.0L97.0 470.4L97.8 469.9L98.5 469.4L99.3 468.9L100.1 468.4L100.9 467.9L101.6 467.5L102.4 467.0L103.2 466.5L104.0 466.1L104.7 465.7L105.5 465.2L106.3 464.8L107.1 464.4L107.8 464.1L108.6 463.7L109.4 463.3L110.2 463.0L110.9 462.6L111.7 462.3L112.5 462.0L113.3 461.6L114.0 461.3L114.8 461.0L115.6 460.7L116.4 460.5L117.1 460.2L117.9 459.9L118.7 459.7L119.5 459.4L120.3 459.2L121.0 458.9L121.8 458.7L122.6 458.4L123.4 458.2L124.1 458.0L124.9 457.8L125.7 457.6L126.5 457.4L127.2 457.2L128.0 457.0L128.8 456.8L129.6 456.6L130.3 456.4L131.1 456.2L131.9 456.0L132.7 455.9L133.4 455.7L134.2 455.5L135.0 455.4L135.8 455.2L136.5 455.1L137.3 454.9L138.1 454.8L138.9 454.6L139.6 454.5L140.4 454.4L141.2 454.2L142.0 454.1L142.7 454.0L143.5 453.9L144.3 453.7L145.1 453.6L145.8 453.5L146.6 453.4L147.4 453.3L148.2 453.2L149.0 453.1L149.7 453.0L150.5 452.9L151.3 452.8L152.1 452.7L152.8 452.6L153.6 452.5L154.4 452.4L155.2 452.4L155.9 452.3L156.7 452.2L157.5 452.1L158.3 452.1L159.0 452.0L159.8 451.9L160.6 451.8L161.4 451.8L162.1 451.7L162.9 451.7L163.7 451.6L164.5 451.5L165.2 451.5L166.0 451.4L166.8 451.4L167.6 451.3L168.3 451.3L169.1 451.2L169.9 451.2L170.7 451.1L171.4 451.1L172.2 451.0L173.0 451.0L173.8 450.9L174.6 450.9L175.3 450.8L176.1 450.8L176.9 450.8L177.7 450.7L178.4 450.7L179.2 450.6L180.0 450.6L180.8 450.5L181.5 450.5L182.3 450.5L183.1 450.4L183.9 450.4L184.6 450.3L185.4 450.3L186.2 450.3L187.0 450.2L187.7 450.2L188.5 450.1L189.3 450.1L190.1 450.1L190.8 450.0L191.6 450.0L192.4 449.9L193.2 449.9L193.9 449.9L194.7 449.8L195.5 449.8L196.3 449.8L197.0 449.7L197.8 449.7L198.6 449.6L199.4 449.6L200.1 449.6L200.9 449.5L201.7 449.5L202.5 449.5L203.3 449.4L204.0 449.4L204.8 449.3L205.6 449.3L206.4 449.3L207.1 449.2L207.9 449.2L208.7 449.2L209.5 449.1L210.2 449.1L211.0 449.1L211.8 449.0L212.6 449.0L213.3 448.9L214.1 448.9L214.9 448.9L215.7 448.8L216.4 448.8L217.2 448.8L218.0 448.7L218.8 448.7L219.5 448.7L220.3 448.6L221.1 448.6L221.9 448.6L222.6 448.5L223.4 448.5L224.2 448.5L225.0 448.4L225.7 448.4L226.5 448.4L227.3 448.3L228.1 448.3L228.8 448.3L229.6 448.2L230.4 448.2L231.2 448.2L232.0 448.1L232.7 448.1L233.5 448.1L234.3 448.0L235.1 448.0L235.8 448.0L236.6 447.9L237.4 447.9L238.2 447.9L238.9 447.9L239.7 447.8L240.5 447.8L241.3 447.8L242.0 447.7L242.8 447.7L243.6 447.7L244.4 447.6L245.1 447.6L245.9 447.6L246.7 447.6L247.5 447.5L248.2 447.5L249.0 447.5L249.8 447.4L250.6 447.4L251.3 447.4L252.1 447.3L252.9 447.3L253.7 447.3L254.4 447.3L255.2 447.2L256.0 447.2L256.8 447.2L257.5 447.2L258.3 447.1L259.1 447.1L259.9 447.1L260.7 447.0L261.4 447.0L262.2 447.0L263.0 447.0L263.8 446.9L264.5 446.9L265.3 446.9L266.1 446.9L266.9 446.8L267.6 446.8L268.4 446.8L269.2 446.8L270.0 446.7L270.7 446.7L271.5 446.7L272.3 446.7L273.1 446.6L273.8 446.6L274.6 446.6L275.4 446.6L276.2 446.5L276.9 446.5L277.7 446.5L278.5 446.5L279.3 446.4L280.0 446.4L280.8 446.4L281.6 446.4L282.4 446.3L283.1 446.3L283.9 446.3L284.7 446.3L285.5 446.3L286.2 446.2L287.0 446.2L287.8 446.2L288.6 446.2L289.4 446.1L290.1 446.1L290.9 446.1L291.7 446.1L292.5 446.1L293.2 446.0L294.0 446.0L294.8 446.0L295.6 446.0L296.3 446.0L297.1 445.9L297.9 445.9L298.7 445.9L299.4 445.9L300.2 445.9L301.0 445.8L301.8 445.8L302.5 445.8L303.3 445.8L304.1 445.8L304.9 445.7L305.6 445.7L306.4 445.7L307.2 445.7L308.0 445.7L308.7 445.6L309.5 445.6L310.3 445.6L311.1 445.6L311.8 445.6L312.6 445.6L313.4 445.5L314.2 445.5L314.9 445.5L315.7 445.5L316.5 445.5L317.3 445.5L318.1 445.4L318.8 445.4L319.6 445.4L320.4 445.4L321.2 445.4L321.9 445.4L322.7 445.3L323.5 445.3L324.3 445.3L325.0 445.3L325.8 445.3L326.6 445.3L327.4 445.2L328.1 445.2L328.9 445.2L329.7 445.2L330.5 445.2L331.2 445.2L332.0 445.2L332.8 445.2L333.6 445.1L334.3 445.1L335.1 445.1L335.9 445.1L336.7 445.1L337.4 445.1L338.2 445.1L339.0 445.0L339.8 445.0L340.5 445.0L341.3 445.0L342.1 445.0L342.9 445.0L343.7 445.0L344.4 445.0L345.2 445.0L346.0 444.9L346.8 444.9L347.5 444.9L348.3 444.9L349.1 444.9L349.9 444.9L350.6 444.9L351.4 444.9L352.2 444.9L353.0 444.8L353.7 444.8L354.5 444.8L355.3 444.8L356.1 444.8L356.8 444.8L357.6 444.8L358.4 444.8L359.2 444.8L359.9 444.8L360.7 444.8L361.5 444.8L362.3 444.7L363.0 444.7L363.8 444.7L364.6 444.7L365.4 444.7L366.1 444.7L366.9 444.7L367.7 444.7L368.5 444.7L369.2 444.7L370.0 444.7L370.8 444.7L371.6 444.7L372.4 444.7L373.1 444.7L373.9 444.6L374.7 444.6L375.5 444.6L376.2 444.6L377.0 444.6L377.8 444.6L378.6 444.6L379.3 444.6L380.1 444.6L380.9 444.6L381.7 444.6L382.4 444.6L383.2 444.6L384.0 444.6L384.8 444.6L385.5 444.6L386.3 444.6L387.1 444.6L387.9 444.6L388.6 444.6L389.4 444.6L390.2 444.6L391.0 444.6L391.7 444.6L392.5 444.6L393.3 444.6L394.1 444.6L394.8 444.6L395.6 444.6L396.4 444.6L397.2 444.6L397.9 444.6L398.7 444.6L399.5 444.5" fill="none" stroke="#aa00aa" stroke-width="3.0" stroke-linejoin="round" stroke-dasharray="24.10 12.90 0.01 12.90" stroke-linecap="round" stroke-dashoffset="-10"/>
<path d="M90.0 610.3L90.8 611.0L91.6 611.6L92.3 612.2L93.1 612.8L93.9 613.4L94.7 614.0L95.4 614.6L96.2 615.1L97.0 615.6L97.8 616.1L98.5 616.6L99.3 617.1L100.1 617.6L100.9 618.0L101.6 618.5L102.4 618.9L103.2 619.3L104.0 619.7L104.7 620.1L105.5 620.5L106.3 620.9L107.1 621.3L107.8 621.6L108.6 622.0L109.4 622.3L110.2 622.6L110.9 622.9L111.7 623.2L112.5 623.5L113.3 623.8L114.0 624.1L114.8 624.4L115.6 624.7L116.4 624.9L117.1 625.2L117.9 625.5L118.7 625.7L119.5 625.9L120.3 626.2L121.0 626.4L121.8 626.6L122.6 626.9L123.4 627.1L124.1 627.3L124.9 627.5L125.7 627.7L126.5 627.9L127.2 628.1L128.0 628.3L128.8 628.5L129.6 628.7L130.3 628.9L131.1 629.1L131.9 629.3L132.7 629.5L133.4 629.7L134.2 629.8L135.0 630.0L135.8 630.2L136.5 630.3L137.3 630.5L138.1 630.7L138.9 630.8L139.6 631.0L140.4 631.1L141.2 631.3L142.0 631.4L142.7 631.6L143.5 631.7L144.3 631.9L145.1 632.0L145.8 632.1L146.6 632.3L147.4 632.4L148.2 632.5L149.0 632.6L149.7 632.8L150.5 632.9L151.3 633.0L152.1 633.1L152.8 633.2L153.6 633.3L154.4 633.4L155.2 633.5L155.9 633.6L156.7 633.7L157.5 633.8L158.3 633.9L159.0 634.0L159.8 634.1L160.6 634.2L161.4 634.3L162.1 634.4L162.9 634.5L163.7 634.6L164.5 634.7L165.2 634.8L166.0 634.8L166.8 634.9L167.6 635.0L168.3 635.1L169.1 635.2L169.9 635.2L170.7 635.3L171.4 635.4L172.2 635.4L173.0 635.5L173.8 635.6L174.6 635.7L175.3 635.7L176.1 635.8L176.9 635.9L177.7 635.9L178.4 636.0L179.2 636.0L180.0 636.1L180.8 636.2L181.5 636.2L182.3 636.3L183.1 636.3L183.9 636.4L184.6 636.5L185.4 636.5L186.2 636.6L187.0 636.6L187.7 636.7L188.5 636.7L189.3 636.8L190.1 636.9L190.8 636.9L191.6 637.0L192.4 637.0L193.2 637.1L193.9 637.1L194.7 637.2L195.5 637.2L196.3 637.3L197.0 637.3L197.8 637.4L198.6 637.4L199.4 637.5L200.1 637.5L200.9 637.6L201.7 637.6L202.5 637.6L203.3 637.7L204.0 637.7L204.8 637.8L205.6 637.8L206.4 637.9L207.1 637.9L207.9 638.0L208.7 638.0L209.5 638.0L210.2 638.1L211.0 638.1L211.8 638.2L212.6 638.2L213.3 638.2L214.1 638.3L214.9 638.3L215.7 638.4L216.4 638.4L217.2 638.4L218.0 638.5L218.8 638.5L219.5 638.5L220.3 638.6L221.1 638.6L221.9 638.6L222.6 638.7L223.4 638.7L224.2 638.7L225.0 638.8L225.7 638.8L226.5 638.8L227.3 638.9L228.1 638.9L228.8 638.9L229.6 639.0L230.4 639.0L231.2 639.0L232.0 639.1L232.7 639.1L233.5 639.1L234.3 639.1L235.1 639.2L235.8 639.2L236.6 639.2L237.4 639.3L238.2 639.3L238.9 639.3L239.7 639.3L240.5 639.4L241.3 639.4L242.0 639.4L242.8 639.4L243.6 639.5L244.4 639.5L245.1 639.5L245.9 639.5L246.7 639.5L247.5 639.6L248.2 639.6L249.0 639.6L249.8 639.6L250.6 639.7L251.3 639.7L252.1 639.7L252.9 639.7L253.7 639.7L254.4 639.8L255.2 639.8L256.0 639.8L256.8 639.8L257.5 639.8L258.3 639.9L259.1 639.9L259.9 639.9L260.7 639.9L261.4 639.9L262.2 639.9L263.0 640.0L263.8 640.0L264.5 640.0L265.3 640.0L266.1 640.0L266.9 640.0L267.6 640.1L268.4 640.1L269.2 640.1L270.0 640.1L270.7 640.1L271.5 640.1L272.3 640.1L273.1 640.2L273.8 640.2L274.6 640.2L275.4 640.2L276.2 640.2L276.9 640.2L277.7 640.2L278.5 640.2L279.3 640.3L280.0 640.3L280.8 640.3L281.6 640.3L282.4 640.3L283.1 640.3L283.9 640.3L284.7 640.3L285.5 640.3L286.2 640.3L287.0 640.4L287.8 640.4L288.6 640.4L289.4 640.4L290.1 640.4L290.9 640.4L291.7 640.4L292.5 640.4L293.2 640.4L294.0 640.4L294.8 640.4L295.6 640.5L296.3 640.5L297.1 640.5L297.9 640.5L298.7 640.5L299.4 640.5L300.2 640.5L301.0 640.5L301.8 640.5L302.5 640.5L303.3 640.5L304.1 640.5L304.9 640.5L305.6 640.6L306.4 640.6L307.2 640.6L308.0 640.6L308.7 640.6L309.5 640.6L310.3 640.6L311.1 640.6L311.8 640.6L312.6 640.6L313.4 640.6L314.2 640.6L314.9 640.6L315.7 640.6L316.5 640.6L317.3 640.6L318.1 640.6L318.8 640.7L319.6 640.7L320.4 640.7L321.2 640.7L321.9 640.7L322.7 640.7L323.5 640.7L324.3 640.7L325.0 640.7L325.8 640.7L326.6 640.7L327.4 640.7L328.1 640.7L328.9 640.7L329.7 640.7L330.5 640.7L331.2 640.7L332.0 640.7L332.8 640.7L333.6 640.7L334.3 640.7L335.1 640.8L335.9 640.8L336.7 640.8L337.4 640.8L338.2 640.8L339.0 640.8L339.8 640.8L340.5 640.8L341.3 640.8L342.1 640.8L342.9 640.8L343.7 640.8L344.4 640.8L345.2 640.8L346.0 640.8L346.8 640.8L347.5 640.8L348.3 640.8L349.1 640.8L349.9 640.8L350.6 640.9L351.4 640.9L352.2 640.9L353.0 640.9L353.7 640.9L354.5 640.9L355.3 640.9L356.1 640.9L356.8 640.9L357.6 640.9L358.4 640.9L359.2 640.9L359.9 640.9L360.7 640.9L361.5 640.9L362.3 640.9L363.0 641.0L363.8 641.0L364.6 641.0L365.4 641.0L366.1 641.0L366.9 641.0L367.7 641.0L368.5 641.0L369.2 641.0L370.0 641.0L370.8 641.0L371.6 641.0L372.4 641.0L373.1 641.1L373.9 641.1L374.7 641.1L375.5 641.1L376.2 641.1L377.0 641.1L377.8 641.1L378.6 641.1L379.3 641.1L380.1 641.1L380.9 641.1L381.7 641.2L382.4 641.2L383.2 641.2L384.0 641.2L384.8 641.2L385.5 641.2L386.3 641.2L387.1 641.2L387.9 641.2L388.6 641.3L389.4 641.3L390.2 641.3L391.0 641.3L391.7 641.3L392.5 641.3L393.3 641.3L394.1 641.4L394.8 641.4L395.6 641.4L396.4 641.4L397.2 641.4L397.9 641.4L398.7 641.4L399.5 641.5" fill="none" stroke="#aa00aa" stroke-width="3.0" stroke-linejoin="round" stroke-dasharray="24.10 12.90 0.01 12.90" stroke-linecap="round" stroke-dashoffset="-10"/>
</g>
<path d="M124.4 697.8v-4.8M124.4 388.2v4.8M158.8 697.8v-4.8M158.8 388.2v4.8M193.2 697.8v-4.8M193.2 388.2v4.8M227.6 697.8v-4.8M227.6 388.2v4.8M261.9 697.8v-4.8M261.9 388.2v4.8M296.3 697.8v-4.8M296.3 388.2v4.8M330.7 697.8v-4.8M330.7 388.2v4.8M365.1 697.8v-4.8M365.1 388.2v4.8M90.0 659.1h4.8M399.5 659.1h-4.8M90.0 620.4h4.8M399.5 620.4h-4.8M90.0 581.7h4.8M399.5 581.7h-4.8M90.0 543.0h4.8M399.5 543.0h-4.8M90.0 504.3h4.8M399.5 504.3h-4.8M90.0 465.6h4.8M399.5 465.6h-4.8M90.0 426.9h4.8M399.5 426.9h-4.8" stroke="#111" stroke-width="1" fill="none"/><path d="M90.00 387.70V698.30M399.50 387.70V698.30M89.50 388.20H400.00M89.50 697.80H400.00" fill="none" stroke="#000" stroke-width="1.1"/><g font-size="16.7" font-weight="bold" fill="#000"><text x="80.4" y="703.4" text-anchor="end">0</text><text x="80.4" y="664.7" text-anchor="end">0.05</text><text x="80.4" y="626.0" text-anchor="end">0.1</text><text x="80.4" y="587.3" text-anchor="end">0.15</text><text x="80.4" y="548.6" text-anchor="end">0.2</text><text x="80.4" y="509.9" text-anchor="end">0.25</text><text x="80.4" y="471.2" text-anchor="end">0.3</text><text x="80.4" y="432.5" text-anchor="end">0.35</text><text x="80.4" y="393.8" text-anchor="end">0.4</text><text x="92.0" y="720.0" text-anchor="middle">0</text><text x="160.8" y="720.0" text-anchor="middle">0.1</text><text x="229.6" y="720.0" text-anchor="middle">0.2</text><text x="298.3" y="720.0" text-anchor="middle">0.3</text><text x="367.1" y="720.0" text-anchor="middle">0.4</text></g>
<g clip-path="url(#c4)">
<path d="M516.7 481.5L517.5 480.6L518.2 479.7L519.0 478.8L519.8 477.9L520.6 477.0L521.3 476.2L522.1 475.4L522.9 474.6L523.7 473.8L524.4 473.1L525.2 472.3L526.0 471.6L526.8 470.9L527.5 470.3L528.3 469.6L529.1 469.0L529.9 468.4L530.6 467.8L531.4 467.2L532.2 466.6L533.0 466.1L533.7 465.5L534.5 465.0L535.3 464.5L536.1 464.0L536.8 463.6L537.6 463.1L538.4 462.7L539.2 462.2L539.9 461.8L540.7 461.4L541.5 461.0L542.3 460.6L543.0 460.2L543.8 459.9L544.6 459.5L545.4 459.2L546.1 458.8L546.9 458.5L547.7 458.2L548.5 457.9L549.2 457.6L550.0 457.3L550.8 457.0L551.6 456.7L552.3 456.5L553.1 456.2L553.9 455.9L554.7 455.7L555.4 455.4L556.2 455.2L557.0 454.9L557.8 454.7L558.5 454.4L559.3 454.2L560.1 454.0L560.9 453.7L561.6 453.5L562.4 453.3L563.2 453.1L564.0 452.8L564.7 452.6L565.5 452.4L566.3 452.2L567.1 452.0L567.8 451.7L568.6 451.5L569.4 451.3L570.2 451.1L570.9 450.9L571.7 450.7L572.5 450.5L573.3 450.3L574.0 450.1L574.8 449.9L575.6 449.7L576.4 449.5L577.1 449.3L577.9 449.1L578.7 448.9L579.4 448.7L580.2 448.5L581.0 448.3L581.8 448.1L582.5 447.9L583.3 447.8L584.1 447.6L584.9 447.4L585.6 447.2L586.4 447.0L587.2 446.8L588.0 446.7L588.7 446.5L589.5 446.3L590.3 446.1L591.1 446.0L591.8 445.8L592.6 445.6L593.4 445.4L594.2 445.3L594.9 445.1L595.7 444.9L596.5 444.8L597.3 444.6L598.0 444.4L598.8 444.3L599.6 444.1L600.4 443.9L601.1 443.8L601.9 443.6L602.7 443.4L603.5 443.3L604.2 443.1L605.0 443.0L605.8 442.8L606.6 442.6L607.3 442.5L608.1 442.3L608.9 442.1L609.7 442.0L610.4 441.8L611.2 441.7L612.0 441.5L612.8 441.4L613.5 441.2L614.3 441.0L615.1 440.9L615.9 440.7L616.6 440.6L617.4 440.4L618.2 440.3L619.0 440.1L619.7 439.9L620.5 439.8L621.3 439.6L622.1 439.5L622.8 439.3L623.6 439.2L624.4 439.0L625.2 438.9L625.9 438.7L626.7 438.6L627.5 438.4L628.3 438.3L629.0 438.1L629.8 438.0L630.6 437.8L631.4 437.7L632.1 437.5L632.9 437.4L633.7 437.2L634.5 437.1L635.2 436.9L636.0 436.8L636.8 436.6L637.6 436.5L638.3 436.3L639.1 436.2L639.9 436.0L640.6 435.9L641.4 435.7L642.2 435.6L643.0 435.5L643.7 435.3L644.5 435.2L645.3 435.0L646.1 434.9L646.8 434.7L647.6 434.6L648.4 434.5L649.2 434.3L649.9 434.2L650.7 434.0L651.5 433.9L652.3 433.8L653.0 433.6L653.8 433.5L654.6 433.3L655.4 433.2L656.1 433.1L656.9 432.9L657.7 432.8L658.5 432.6L659.2 432.5L660.0 432.4L660.8 432.2L661.6 432.1L662.3 432.0L663.1 431.8L663.9 431.7L664.7 431.6L665.4 431.4L666.2 431.3L667.0 431.2L667.8 431.0L668.5 430.9L669.3 430.8L670.1 430.7L670.9 430.5L671.6 430.4L672.4 430.3L673.2 430.1L674.0 430.0L674.7 429.9L675.5 429.8L676.3 429.6L677.1 429.5L677.8 429.4L678.6 429.3L679.4 429.1L680.2 429.0L680.9 428.9L681.7 428.8L682.5 428.6L683.3 428.5L684.0 428.4L684.8 428.3L685.6 428.1L686.4 428.0L687.1 427.9L687.9 427.8L688.7 427.7L689.5 427.5L690.2 427.4L691.0 427.3L691.8 427.2L692.6 427.1L693.3 427.0L694.1 426.8L694.9 426.7L695.7 426.6L696.4 426.5L697.2 426.4L698.0 426.3L698.8 426.2L699.5 426.0L700.3 425.9L701.1 425.8L701.9 425.7L702.6 425.6L703.4 425.5L704.2 425.4L704.9 425.3L705.7 425.2L706.5 425.0L707.3 424.9L708.0 424.8L708.8 424.7L709.6 424.6L710.4 424.5L711.1 424.4L711.9 424.3L712.7 424.2L713.5 424.1L714.2 424.0L715.0 423.9L715.8 423.8L716.6 423.7L717.3 423.6L718.1 423.5L718.9 423.4L719.7 423.3L720.4 423.2L721.2 423.1L722.0 423.0L722.8 422.9L723.5 422.8L724.3 422.7L725.1 422.6L725.9 422.5L726.6 422.4L727.4 422.3L728.2 422.2L729.0 422.1L729.7 422.0L730.5 421.9L731.3 421.8L732.1 421.7L732.8 421.6L733.6 421.6L734.4 421.5L735.2 421.4L735.9 421.3L736.7 421.2L737.5 421.1L738.3 421.0L739.0 420.9L739.8 420.9L740.6 420.8L741.4 420.7L742.1 420.6L742.9 420.5L743.7 420.4L744.5 420.3L745.2 420.3L746.0 420.2L746.8 420.1L747.6 420.0L748.3 419.9L749.1 419.9L749.9 419.8L750.7 419.7L751.4 419.6L752.2 419.5L753.0 419.5L753.8 419.4L754.5 419.3L755.3 419.2L756.1 419.2L756.9 419.1L757.6 419.0L758.4 418.9L759.2 418.9L760.0 418.8L760.7 418.7L761.5 418.7L762.3 418.6L763.1 418.5L763.8 418.4L764.6 418.4L765.4 418.3L766.1 418.2L766.9 418.2L767.7 418.1L768.5 418.0L769.2 418.0L770.0 417.9L770.8 417.8L771.6 417.8L772.3 417.7L773.1 417.7L773.9 417.6L774.7 417.5L775.4 417.5L776.2 417.4L777.0 417.4L777.8 417.3L778.5 417.2L779.3 417.2L780.1 417.1L780.9 417.1L781.6 417.0L782.4 417.0L783.2 416.9L784.0 416.9L784.7 416.8L785.5 416.7L786.3 416.7L787.1 416.6L787.8 416.6L788.6 416.5L789.4 416.5L790.2 416.4L790.9 416.4L791.7 416.3L792.5 416.3L793.3 416.3L794.0 416.2L794.8 416.2L795.6 416.1L796.4 416.1L797.1 416.0L797.9 416.0L798.7 416.0L799.5 415.9L800.2 415.9L801.0 415.8L801.8 415.8L802.6 415.8L803.3 415.7L804.1 415.7L804.9 415.6L805.7 415.6L806.4 415.6L807.2 415.5L808.0 415.5L808.8 415.5L809.5 415.4L810.3 415.4L811.1 415.4L811.9 415.3L812.6 415.3L813.4 415.3L814.2 415.3L815.0 415.2L815.7 415.2L816.5 415.2L817.3 415.1L818.1 415.1L818.8 415.1L819.6 415.1L820.4 415.0L821.2 415.0L821.9 415.0L822.7 415.0L823.5 415.0L824.3 414.9L825.0 414.9L825.8 414.9" fill="none" stroke="#0a8a0a" stroke-width="3.0" stroke-linejoin="round" stroke-dasharray="9.70 10.20" stroke-linecap="round"/>
<path d="M516.7 595.4L517.5 596.3L518.2 597.1L519.0 597.9L519.8 598.7L520.6 599.5L521.3 600.2L522.1 600.9L522.9 601.7L523.7 602.3L524.4 603.0L525.2 603.7L526.0 604.3L526.8 605.0L527.5 605.6L528.3 606.2L529.1 606.8L529.9 607.3L530.6 607.9L531.4 608.4L532.2 609.0L533.0 609.5L533.7 610.0L534.5 610.5L535.3 611.0L536.1 611.4L536.8 611.9L537.6 612.3L538.4 612.8L539.2 613.2L539.9 613.6L540.7 614.0L541.5 614.4L542.3 614.8L543.0 615.2L543.8 615.5L544.6 615.9L545.4 616.3L546.1 616.6L546.9 616.9L547.7 617.3L548.5 617.6L549.2 617.9L550.0 618.2L550.8 618.5L551.6 618.8L552.3 619.1L553.1 619.4L553.9 619.7L554.7 620.0L555.4 620.2L556.2 620.5L557.0 620.8L557.8 621.0L558.5 621.3L559.3 621.6L560.1 621.8L560.9 622.1L561.6 622.3L562.4 622.6L563.2 622.8L564.0 623.1L564.7 623.3L565.5 623.6L566.3 623.8L567.1 624.1L567.8 624.3L568.6 624.6L569.4 624.8L570.2 625.0L570.9 625.3L571.7 625.5L572.5 625.7L573.3 626.0L574.0 626.2L574.8 626.4L575.6 626.7L576.4 626.9L577.1 627.1L577.9 627.3L578.7 627.5L579.4 627.8L580.2 628.0L581.0 628.2L581.8 628.4L582.5 628.6L583.3 628.8L584.1 629.0L584.9 629.2L585.6 629.5L586.4 629.7L587.2 629.9L588.0 630.1L588.7 630.3L589.5 630.5L590.3 630.7L591.1 630.9L591.8 631.1L592.6 631.3L593.4 631.4L594.2 631.6L594.9 631.8L595.7 632.0L596.5 632.2L597.3 632.4L598.0 632.6L598.8 632.8L599.6 633.0L600.4 633.1L601.1 633.3L601.9 633.5L602.7 633.7L603.5 633.9L604.2 634.0L605.0 634.2L605.8 634.4L606.6 634.6L607.3 634.7L608.1 634.9L608.9 635.1L609.7 635.3L610.4 635.4L611.2 635.6L612.0 635.8L612.8 635.9L613.5 636.1L614.3 636.3L615.1 636.4L615.9 636.6L616.6 636.8L617.4 636.9L618.2 637.1L619.0 637.3L619.7 637.4L620.5 637.6L621.3 637.7L622.1 637.9L622.8 638.1L623.6 638.2L624.4 638.4L625.2 638.5L625.9 638.7L626.7 638.9L627.5 639.0L628.3 639.2L629.0 639.3L629.8 639.5L630.6 639.6L631.4 639.8L632.1 639.9L632.9 640.1L633.7 640.2L634.5 640.4L635.2 640.5L636.0 640.7L636.8 640.8L637.6 641.0L638.3 641.1L639.1 641.3L639.9 641.4L640.6 641.6L641.4 641.7L642.2 641.9L643.0 642.0L643.7 642.2L644.5 642.3L645.3 642.5L646.1 642.6L646.8 642.7L647.6 642.9L648.4 643.0L649.2 643.2L649.9 643.3L650.7 643.5L651.5 643.6L652.3 643.7L653.0 643.9L653.8 644.0L654.6 644.2L655.4 644.3L656.1 644.4L656.9 644.6L657.7 644.7L658.5 644.8L659.2 645.0L660.0 645.1L660.8 645.3L661.6 645.4L662.3 645.5L663.1 645.7L663.9 645.8L664.7 645.9L665.4 646.1L666.2 646.2L667.0 646.3L667.8 646.5L668.5 646.6L669.3 646.7L670.1 646.9L670.9 647.0L671.6 647.1L672.4 647.2L673.2 647.4L674.0 647.5L674.7 647.6L675.5 647.8L676.3 647.9L677.1 648.0L677.8 648.1L678.6 648.3L679.4 648.4L680.2 648.5L680.9 648.6L681.7 648.8L682.5 648.9L683.3 649.0L684.0 649.1L684.8 649.3L685.6 649.4L686.4 649.5L687.1 649.6L687.9 649.7L688.7 649.9L689.5 650.0L690.2 650.1L691.0 650.2L691.8 650.3L692.6 650.4L693.3 650.6L694.1 650.7L694.9 650.8L695.7 650.9L696.4 651.0L697.2 651.1L698.0 651.3L698.8 651.4L699.5 651.5L700.3 651.6L701.1 651.7L701.9 651.8L702.6 651.9L703.4 652.0L704.2 652.2L704.9 652.3L705.7 652.4L706.5 652.5L707.3 652.6L708.0 652.7L708.8 652.8L709.6 652.9L710.4 653.0L711.1 653.1L711.9 653.2L712.7 653.3L713.5 653.4L714.2 653.5L715.0 653.7L715.8 653.8L716.6 653.9L717.3 654.0L718.1 654.1L718.9 654.2L719.7 654.3L720.4 654.4L721.2 654.5L722.0 654.6L722.8 654.7L723.5 654.8L724.3 654.9L725.1 655.0L725.9 655.1L726.6 655.2L727.4 655.3L728.2 655.3L729.0 655.4L729.7 655.5L730.5 655.6L731.3 655.7L732.1 655.8L732.8 655.9L733.6 656.0L734.4 656.1L735.2 656.2L735.9 656.3L736.7 656.4L737.5 656.5L738.3 656.5L739.0 656.6L739.8 656.7L740.6 656.8L741.4 656.9L742.1 657.0L742.9 657.1L743.7 657.2L744.5 657.2L745.2 657.3L746.0 657.4L746.8 657.5L747.6 657.6L748.3 657.7L749.1 657.7L749.9 657.8L750.7 657.9L751.4 658.0L752.2 658.1L753.0 658.2L753.8 658.2L754.5 658.3L755.3 658.4L756.1 658.5L756.9 658.5L757.6 658.6L758.4 658.7L759.2 658.8L760.0 658.9L760.7 658.9L761.5 659.0L762.3 659.1L763.1 659.1L763.8 659.2L764.6 659.3L765.4 659.4L766.1 659.4L766.9 659.5L767.7 659.6L768.5 659.6L769.2 659.7L770.0 659.8L770.8 659.9L771.6 659.9L772.3 660.0L773.1 660.1L773.9 660.1L774.7 660.2L775.4 660.3L776.2 660.3L777.0 660.4L777.8 660.4L778.5 660.5L779.3 660.6L780.1 660.6L780.9 660.7L781.6 660.8L782.4 660.8L783.2 660.9L784.0 660.9L784.7 661.0L785.5 661.1L786.3 661.1L787.1 661.2L787.8 661.2L788.6 661.3L789.4 661.3L790.2 661.4L790.9 661.5L791.7 661.5L792.5 661.6L793.3 661.6L794.0 661.7L794.8 661.7L795.6 661.8L796.4 661.8L797.1 661.9L797.9 661.9L798.7 662.0L799.5 662.0L800.2 662.1L801.0 662.1L801.8 662.2L802.6 662.2L803.3 662.3L804.1 662.3L804.9 662.4L805.7 662.4L806.4 662.5L807.2 662.5L808.0 662.5L808.8 662.6L809.5 662.6L810.3 662.7L811.1 662.7L811.9 662.7L812.6 662.8L813.4 662.8L814.2 662.9L815.0 662.9L815.7 662.9L816.5 663.0L817.3 663.0L818.1 663.1L818.8 663.1L819.6 663.1L820.4 663.2L821.2 663.2L821.9 663.2L822.7 663.3L823.5 663.3L824.3 663.3L825.0 663.4L825.8 663.4" fill="none" stroke="#0a8a0a" stroke-width="3.0" stroke-linejoin="round" stroke-dasharray="9.70 10.20" stroke-linecap="round"/>
<path d="M516.7 481.5L517.5 480.9L518.2 480.3L519.0 479.7L519.8 479.1L520.6 478.5L521.3 478.0L522.1 477.4L522.9 476.9L523.7 476.4L524.4 475.9L525.2 475.4L526.0 474.9L526.8 474.4L527.5 473.9L528.3 473.4L529.1 473.0L529.9 472.5L530.6 472.1L531.4 471.7L532.2 471.3L533.0 470.9L533.7 470.5L534.5 470.1L535.3 469.7L536.1 469.3L536.8 469.0L537.6 468.6L538.4 468.3L539.2 467.9L539.9 467.6L540.7 467.3L541.5 466.9L542.3 466.6L543.0 466.3L543.8 466.0L544.6 465.7L545.4 465.4L546.1 465.1L546.9 464.9L547.7 464.6L548.5 464.3L549.2 464.1L550.0 463.8L550.8 463.6L551.6 463.3L552.3 463.1L553.1 462.8L553.9 462.6L554.7 462.3L555.4 462.1L556.2 461.9L557.0 461.7L557.8 461.4L558.5 461.2L559.3 461.0L560.1 460.8L560.9 460.6L561.6 460.4L562.4 460.2L563.2 459.9L564.0 459.7L564.7 459.5L565.5 459.3L566.3 459.1L567.1 458.9L567.8 458.7L568.6 458.5L569.4 458.3L570.2 458.2L570.9 458.0L571.7 457.8L572.5 457.6L573.3 457.4L574.0 457.2L574.8 457.0L575.6 456.9L576.4 456.7L577.1 456.5L577.9 456.3L578.7 456.2L579.4 456.0L580.2 455.8L581.0 455.6L581.8 455.5L582.5 455.3L583.3 455.1L584.1 455.0L584.9 454.8L585.6 454.6L586.4 454.5L587.2 454.3L588.0 454.2L588.7 454.0L589.5 453.8L590.3 453.7L591.1 453.5L591.8 453.4L592.6 453.2L593.4 453.1L594.2 452.9L594.9 452.8L595.7 452.6L596.5 452.5L597.3 452.3L598.0 452.2L598.8 452.0L599.6 451.9L600.4 451.8L601.1 451.6L601.9 451.5L602.7 451.3L603.5 451.2L604.2 451.0L605.0 450.9L605.8 450.8L606.6 450.6L607.3 450.5L608.1 450.3L608.9 450.2L609.7 450.1L610.4 449.9L611.2 449.8L612.0 449.7L612.8 449.5L613.5 449.4L614.3 449.3L615.1 449.1L615.9 449.0L616.6 448.9L617.4 448.7L618.2 448.6L619.0 448.4L619.7 448.3L620.5 448.2L621.3 448.0L622.1 447.9L622.8 447.8L623.6 447.6L624.4 447.5L625.2 447.4L625.9 447.2L626.7 447.1L627.5 447.0L628.3 446.8L629.0 446.7L629.8 446.6L630.6 446.4L631.4 446.3L632.1 446.2L632.9 446.0L633.7 445.9L634.5 445.8L635.2 445.6L636.0 445.5L636.8 445.4L637.6 445.2L638.3 445.1L639.1 445.0L639.9 444.8L640.6 444.7L641.4 444.5L642.2 444.4L643.0 444.3L643.7 444.1L644.5 444.0L645.3 443.8L646.1 443.7L646.8 443.6L647.6 443.4L648.4 443.3L649.2 443.1L649.9 443.0L650.7 442.9L651.5 442.7L652.3 442.6L653.0 442.4L653.8 442.3L654.6 442.2L655.4 442.0L656.1 441.9L656.9 441.7L657.7 441.6L658.5 441.4L659.2 441.3L660.0 441.2L660.8 441.0L661.6 440.9L662.3 440.7L663.1 440.6L663.9 440.4L664.7 440.3L665.4 440.2L666.2 440.0L667.0 439.9L667.8 439.7L668.5 439.6L669.3 439.4L670.1 439.3L670.9 439.1L671.6 439.0L672.4 438.9L673.2 438.7L674.0 438.6L674.7 438.4L675.5 438.3L676.3 438.1L677.1 438.0L677.8 437.8L678.6 437.7L679.4 437.5L680.2 437.4L680.9 437.3L681.7 437.1L682.5 437.0L683.3 436.8L684.0 436.7L684.8 436.5L685.6 436.4L686.4 436.2L687.1 436.1L687.9 435.9L688.7 435.8L689.5 435.7L690.2 435.5L691.0 435.4L691.8 435.2L692.6 435.1L693.3 434.9L694.1 434.8L694.9 434.6L695.7 434.5L696.4 434.3L697.2 434.2L698.0 434.1L698.8 433.9L699.5 433.8L700.3 433.6L701.1 433.5L701.9 433.3L702.6 433.2L703.4 433.0L704.2 432.9L704.9 432.8L705.7 432.6L706.5 432.5L707.3 432.3L708.0 432.2L708.8 432.0L709.6 431.9L710.4 431.8L711.1 431.6L711.9 431.5L712.7 431.3L713.5 431.2L714.2 431.0L715.0 430.9L715.8 430.8L716.6 430.6L717.3 430.5L718.1 430.3L718.9 430.2L719.7 430.1L720.4 429.9L721.2 429.8L722.0 429.6L722.8 429.5L723.5 429.4L724.3 429.2L725.1 429.1L725.9 428.9L726.6 428.8L727.4 428.7L728.2 428.5L729.0 428.4L729.7 428.3L730.5 428.1L731.3 428.0L732.1 427.8L732.8 427.7L733.6 427.6L734.4 427.4L735.2 427.3L735.9 427.2L736.7 427.0L737.5 426.9L738.3 426.8L739.0 426.6L739.8 426.5L740.6 426.4L741.4 426.2L742.1 426.1L742.9 426.0L743.7 425.8L744.5 425.7L745.2 425.6L746.0 425.4L746.8 425.3L747.6 425.2L748.3 425.0L749.1 424.9L749.9 424.8L750.7 424.7L751.4 424.5L752.2 424.4L753.0 424.3L753.8 424.2L754.5 424.0L755.3 423.9L756.1 423.8L756.9 423.6L757.6 423.5L758.4 423.4L759.2 423.3L760.0 423.2L760.7 423.0L761.5 422.9L762.3 422.8L763.1 422.7L763.8 422.5L764.6 422.4L765.4 422.3L766.1 422.2L766.9 422.1L767.7 422.0L768.5 421.8L769.2 421.7L770.0 421.6L770.8 421.5L771.6 421.4L772.3 421.3L773.1 421.1L773.9 421.0L774.7 420.9L775.4 420.8L776.2 420.7L777.0 420.6L777.8 420.5L778.5 420.4L779.3 420.2L780.1 420.1L780.9 420.0L781.6 419.9L782.4 419.8L783.2 419.7L784.0 419.6L784.7 419.5L785.5 419.4L786.3 419.3L787.1 419.2L787.8 419.1L788.6 419.0L789.4 418.9L790.2 418.8L790.9 418.7L791.7 418.6L792.5 418.5L793.3 418.4L794.0 418.3L794.8 418.2L795.6 418.1L796.4 418.0L797.1 417.9L797.9 417.8L798.7 417.7L799.5 417.6L800.2 417.5L801.0 417.4L801.8 417.3L802.6 417.2L803.3 417.1L804.1 417.1L804.9 417.0L805.7 416.9L806.4 416.8L807.2 416.7L808.0 416.6L808.8 416.5L809.5 416.5L810.3 416.4L811.1 416.3L811.9 416.2L812.6 416.1L813.4 416.1L814.2 416.0L815.0 415.9L815.7 415.8L816.5 415.7L817.3 415.7L818.1 415.6L818.8 415.5L819.6 415.4L820.4 415.4L821.2 415.3L821.9 415.2L822.7 415.2L823.5 415.1L824.3 415.0L825.0 415.0L825.8 414.9" fill="none" stroke="#00cd00" stroke-width="3.0" stroke-linejoin="round" stroke-dasharray="16.90 9.35 0.01 9.35" stroke-linecap="round"/>
<path d="M516.7 595.4L517.5 596.1L518.2 596.7L519.0 597.3L519.8 597.9L520.6 598.5L521.3 599.1L522.1 599.7L522.9 600.2L523.7 600.8L524.4 601.3L525.2 601.8L526.0 602.3L526.8 602.8L527.5 603.3L528.3 603.8L529.1 604.3L529.9 604.7L530.6 605.2L531.4 605.6L532.2 606.0L533.0 606.4L533.7 606.9L534.5 607.3L535.3 607.6L536.1 608.0L536.8 608.4L537.6 608.8L538.4 609.1L539.2 609.5L539.9 609.8L540.7 610.1L541.5 610.5L542.3 610.8L543.0 611.1L543.8 611.4L544.6 611.7L545.4 612.0L546.1 612.3L546.9 612.6L547.7 612.9L548.5 613.1L549.2 613.4L550.0 613.7L550.8 613.9L551.6 614.2L552.3 614.4L553.1 614.7L553.9 614.9L554.7 615.2L555.4 615.4L556.2 615.6L557.0 615.9L557.8 616.1L558.5 616.3L559.3 616.5L560.1 616.8L560.9 617.0L561.6 617.2L562.4 617.4L563.2 617.6L564.0 617.8L564.7 618.0L565.5 618.3L566.3 618.5L567.1 618.7L567.8 618.9L568.6 619.1L569.4 619.3L570.2 619.5L570.9 619.7L571.7 619.9L572.5 620.1L573.3 620.2L574.0 620.4L574.8 620.6L575.6 620.8L576.4 621.0L577.1 621.2L577.9 621.4L578.7 621.5L579.4 621.7L580.2 621.9L581.0 622.1L581.8 622.2L582.5 622.4L583.3 622.6L584.1 622.8L584.9 622.9L585.6 623.1L586.4 623.3L587.2 623.4L588.0 623.6L588.7 623.8L589.5 623.9L590.3 624.1L591.1 624.3L591.8 624.4L592.6 624.6L593.4 624.7L594.2 624.9L594.9 625.0L595.7 625.2L596.5 625.4L597.3 625.5L598.0 625.7L598.8 625.8L599.6 626.0L600.4 626.1L601.1 626.3L601.9 626.4L602.7 626.6L603.5 626.7L604.2 626.8L605.0 627.0L605.8 627.1L606.6 627.3L607.3 627.4L608.1 627.6L608.9 627.7L609.7 627.9L610.4 628.0L611.2 628.1L612.0 628.3L612.8 628.4L613.5 628.6L614.3 628.7L615.1 628.8L615.9 629.0L616.6 629.1L617.4 629.2L618.2 629.4L619.0 629.5L619.7 629.7L620.5 629.8L621.3 629.9L622.1 630.1L622.8 630.2L623.6 630.3L624.4 630.5L625.2 630.6L625.9 630.7L626.7 630.9L627.5 631.0L628.3 631.1L629.0 631.3L629.8 631.4L630.6 631.6L631.4 631.7L632.1 631.8L632.9 632.0L633.7 632.1L634.5 632.2L635.2 632.4L636.0 632.5L636.8 632.6L637.6 632.8L638.3 632.9L639.1 633.0L639.9 633.2L640.6 633.3L641.4 633.5L642.2 633.6L643.0 633.7L643.7 633.9L644.5 634.0L645.3 634.1L646.1 634.3L646.8 634.4L647.6 634.6L648.4 634.7L649.2 634.8L649.9 635.0L650.7 635.1L651.5 635.3L652.3 635.4L653.0 635.5L653.8 635.7L654.6 635.8L655.4 635.9L656.1 636.1L656.9 636.2L657.7 636.4L658.5 636.5L659.2 636.6L660.0 636.8L660.8 636.9L661.6 637.1L662.3 637.2L663.1 637.3L663.9 637.5L664.7 637.6L665.4 637.8L666.2 637.9L667.0 638.0L667.8 638.2L668.5 638.3L669.3 638.5L670.1 638.6L670.9 638.7L671.6 638.9L672.4 639.0L673.2 639.2L674.0 639.3L674.7 639.4L675.5 639.6L676.3 639.7L677.1 639.9L677.8 640.0L678.6 640.1L679.4 640.3L680.2 640.4L680.9 640.6L681.7 640.7L682.5 640.8L683.3 641.0L684.0 641.1L684.8 641.3L685.6 641.4L686.4 641.5L687.1 641.7L687.9 641.8L688.7 642.0L689.5 642.1L690.2 642.2L691.0 642.4L691.8 642.5L692.6 642.7L693.3 642.8L694.1 642.9L694.9 643.1L695.7 643.2L696.4 643.4L697.2 643.5L698.0 643.6L698.8 643.8L699.5 643.9L700.3 644.0L701.1 644.2L701.9 644.3L702.6 644.5L703.4 644.6L704.2 644.7L704.9 644.9L705.7 645.0L706.5 645.2L707.3 645.3L708.0 645.4L708.8 645.6L709.6 645.7L710.4 645.8L711.1 646.0L711.9 646.1L712.7 646.3L713.5 646.4L714.2 646.5L715.0 646.7L715.8 646.8L716.6 646.9L717.3 647.1L718.1 647.2L718.9 647.3L719.7 647.5L720.4 647.6L721.2 647.7L722.0 647.9L722.8 648.0L723.5 648.2L724.3 648.3L725.1 648.4L725.9 648.6L726.6 648.7L727.4 648.8L728.2 649.0L729.0 649.1L729.7 649.2L730.5 649.4L731.3 649.5L732.1 649.6L732.8 649.8L733.6 649.9L734.4 650.0L735.2 650.2L735.9 650.3L736.7 650.4L737.5 650.6L738.3 650.7L739.0 650.8L739.8 650.9L740.6 651.1L741.4 651.2L742.1 651.3L742.9 651.5L743.7 651.6L744.5 651.7L745.2 651.9L746.0 652.0L746.8 652.1L747.6 652.2L748.3 652.4L749.1 652.5L749.9 652.6L750.7 652.7L751.4 652.9L752.2 653.0L753.0 653.1L753.8 653.3L754.5 653.4L755.3 653.5L756.1 653.6L756.9 653.8L757.6 653.9L758.4 654.0L759.2 654.1L760.0 654.3L760.7 654.4L761.5 654.5L762.3 654.6L763.1 654.7L763.8 654.9L764.6 655.0L765.4 655.1L766.1 655.2L766.9 655.4L767.7 655.5L768.5 655.6L769.2 655.7L770.0 655.8L770.8 656.0L771.6 656.1L772.3 656.2L773.1 656.3L773.9 656.4L774.7 656.5L775.4 656.7L776.2 656.8L777.0 656.9L777.8 657.0L778.5 657.1L779.3 657.2L780.1 657.4L780.9 657.5L781.6 657.6L782.4 657.7L783.2 657.8L784.0 657.9L784.7 658.0L785.5 658.2L786.3 658.3L787.1 658.4L787.8 658.5L788.6 658.6L789.4 658.7L790.2 658.8L790.9 658.9L791.7 659.0L792.5 659.2L793.3 659.3L794.0 659.4L794.8 659.5L795.6 659.6L796.4 659.7L797.1 659.8L797.9 659.9L798.7 660.0L799.5 660.1L800.2 660.2L801.0 660.3L801.8 660.4L802.6 660.5L803.3 660.6L804.1 660.7L804.9 660.8L805.7 660.9L806.4 661.0L807.2 661.1L808.0 661.2L808.8 661.3L809.5 661.4L810.3 661.5L811.1 661.6L811.9 661.7L812.6 661.8L813.4 661.9L814.2 662.0L815.0 662.1L815.7 662.2L816.5 662.3L817.3 662.4L818.1 662.5L818.8 662.6L819.6 662.7L820.4 662.8L821.2 662.9L821.9 662.9L822.7 663.0L823.5 663.1L824.3 663.2L825.0 663.3L825.8 663.4" fill="none" stroke="#00cd00" stroke-width="3.0" stroke-linejoin="round" stroke-dasharray="16.90 9.35 0.01 9.35" stroke-linecap="round"/>
<path d="M516.7 481.5L517.5 479.9L518.2 478.3L519.0 476.8L519.8 475.5L520.6 474.1L521.3 472.9L522.1 471.8L522.9 470.7L523.7 469.7L524.4 468.7L525.2 467.8L526.0 467.0L526.8 466.2L527.5 465.4L528.3 464.7L529.1 464.1L529.9 463.4L530.6 462.8L531.4 462.2L532.2 461.7L533.0 461.2L533.7 460.7L534.5 460.2L535.3 459.7L536.1 459.3L536.8 458.9L537.6 458.5L538.4 458.1L539.2 457.8L539.9 457.4L540.7 457.1L541.5 456.8L542.3 456.5L543.0 456.2L543.8 456.0L544.6 455.7L545.4 455.4L546.1 455.2L546.9 455.0L547.7 454.7L548.5 454.5L549.2 454.3L550.0 454.1L550.8 453.9L551.6 453.7L552.3 453.5L553.1 453.3L553.9 453.1L554.7 452.9L555.4 452.7L556.2 452.5L557.0 452.4L557.8 452.2L558.5 452.0L559.3 451.8L560.1 451.7L560.9 451.5L561.6 451.3L562.4 451.2L563.2 451.0L564.0 450.9L564.7 450.7L565.5 450.6L566.3 450.4L567.1 450.3L567.8 450.1L568.6 450.0L569.4 449.9L570.2 449.7L570.9 449.6L571.7 449.5L572.5 449.4L573.3 449.2L574.0 449.1L574.8 449.0L575.6 448.9L576.4 448.8L577.1 448.6L577.9 448.5L578.7 448.4L579.4 448.3L580.2 448.2L581.0 448.1L581.8 448.0L582.5 447.9L583.3 447.8L584.1 447.7L584.9 447.6L585.6 447.5L586.4 447.5L587.2 447.4L588.0 447.3L588.7 447.2L589.5 447.1L590.3 447.0L591.1 446.9L591.8 446.9L592.6 446.8L593.4 446.7L594.2 446.6L594.9 446.6L595.7 446.5L596.5 446.4L597.3 446.4L598.0 446.3L598.8 446.2L599.6 446.1L600.4 446.1L601.1 446.0L601.9 446.0L602.7 445.9L603.5 445.8L604.2 445.8L605.0 445.7L605.8 445.6L606.6 445.6L607.3 445.5L608.1 445.5L608.9 445.4L609.7 445.4L610.4 445.3L611.2 445.2L612.0 445.2L612.8 445.1L613.5 445.1L614.3 445.0L615.1 445.0L615.9 444.9L616.6 444.9L617.4 444.8L618.2 444.8L619.0 444.7L619.7 444.7L620.5 444.6L621.3 444.6L622.1 444.5L622.8 444.5L623.6 444.4L624.4 444.4L625.2 444.3L625.9 444.3L626.7 444.2L627.5 444.2L628.3 444.2L629.0 444.1L629.8 444.1L630.6 444.0L631.4 444.0L632.1 443.9L632.9 443.9L633.7 443.9L634.5 443.8L635.2 443.8L636.0 443.7L636.8 443.7L637.6 443.7L638.3 443.6L639.1 443.6L639.9 443.5L640.6 443.5L641.4 443.5L642.2 443.4L643.0 443.4L643.7 443.4L644.5 443.3L645.3 443.3L646.1 443.3L646.8 443.2L647.6 443.2L648.4 443.2L649.2 443.1L649.9 443.1L650.7 443.1L651.5 443.0L652.3 443.0L653.0 443.0L653.8 442.9L654.6 442.9L655.4 442.9L656.1 442.9L656.9 442.8L657.7 442.8L658.5 442.8L659.2 442.7L660.0 442.7L660.8 442.7L661.6 442.7L662.3 442.6L663.1 442.6L663.9 442.6L664.7 442.6L665.4 442.5L666.2 442.5L667.0 442.5L667.8 442.5L668.5 442.4L669.3 442.4L670.1 442.4L670.9 442.4L671.6 442.3L672.4 442.3L673.2 442.3L674.0 442.3L674.7 442.3L675.5 442.2L676.3 442.2L677.1 442.2L677.8 442.2L678.6 442.2L679.4 442.1L680.2 442.1L680.9 442.1L681.7 442.1L682.5 442.1L683.3 442.1L684.0 442.0L684.8 442.0L685.6 442.0L686.4 442.0L687.1 442.0L687.9 441.9L688.7 441.9L689.5 441.9L690.2 441.9L691.0 441.9L691.8 441.9L692.6 441.9L693.3 441.8L694.1 441.8L694.9 441.8L695.7 441.8L696.4 441.8L697.2 441.8L698.0 441.8L698.8 441.7L699.5 441.7L700.3 441.7L701.1 441.7L701.9 441.7L702.6 441.7L703.4 441.7L704.2 441.7L704.9 441.6L705.7 441.6L706.5 441.6L707.3 441.6L708.0 441.6L708.8 441.6L709.6 441.6L710.4 441.6L711.1 441.6L711.9 441.5L712.7 441.5L713.5 441.5L714.2 441.5L715.0 441.5L715.8 441.5L716.6 441.5L717.3 441.5L718.1 441.5L718.9 441.5L719.7 441.5L720.4 441.4L721.2 441.4L722.0 441.4L722.8 441.4L723.5 441.4L724.3 441.4L725.1 441.4L725.9 441.4L726.6 441.4L727.4 441.4L728.2 441.4L729.0 441.4L729.7 441.4L730.5 441.3L731.3 441.3L732.1 441.3L732.8 441.3L733.6 441.3L734.4 441.3L735.2 441.3L735.9 441.3L736.7 441.3L737.5 441.3L738.3 441.3L739.0 441.3L739.8 441.3L740.6 441.3L741.4 441.2L742.1 441.2L742.9 441.2L743.7 441.2L744.5 441.2L745.2 441.2L746.0 441.2L746.8 441.2L747.6 441.2L748.3 441.2L749.1 441.2L749.9 441.2L750.7 441.2L751.4 441.2L752.2 441.2L753.0 441.2L753.8 441.1L754.5 441.1L755.3 441.1L756.1 441.1L756.9 441.1L757.6 441.1L758.4 441.1L759.2 441.1L760.0 441.1L760.7 441.1L761.5 441.1L762.3 441.1L763.1 441.1L763.8 441.1L764.6 441.1L765.4 441.0L766.1 441.0L766.9 441.0L767.7 441.0L768.5 441.0L769.2 441.0L770.0 441.0L770.8 441.0L771.6 441.0L772.3 441.0L773.1 441.0L773.9 441.0L774.7 441.0L775.4 441.0L776.2 440.9L777.0 440.9L777.8 440.9L778.5 440.9L779.3 440.9L780.1 440.9L780.9 440.9L781.6 440.9L782.4 440.9L783.2 440.9L784.0 440.9L784.7 440.8L785.5 440.8L786.3 440.8L787.1 440.8L787.8 440.8L788.6 440.8L789.4 440.8L790.2 440.8L790.9 440.8L791.7 440.8L792.5 440.7L793.3 440.7L794.0 440.7L794.8 440.7L795.6 440.7L796.4 440.7L797.1 440.7L797.9 440.7L798.7 440.7L799.5 440.6L800.2 440.6L801.0 440.6L801.8 440.6L802.6 440.6L803.3 440.6L804.1 440.6L804.9 440.6L805.7 440.5L806.4 440.5L807.2 440.5L808.0 440.5L808.8 440.5L809.5 440.5L810.3 440.5L811.1 440.4L811.9 440.4L812.6 440.4L813.4 440.4L814.2 440.4L815.0 440.4L815.7 440.3L816.5 440.3L817.3 440.3L818.1 440.3L818.8 440.3L819.6 440.3L820.4 440.2L821.2 440.2L821.9 440.2L822.7 440.2L823.5 440.2L824.3 440.1L825.0 440.1L825.8 440.1" fill="none" stroke="#ff0000" stroke-width="3.0" stroke-linejoin="round" stroke-linecap="butt"/>
<path d="M516.7 595.4L517.5 597.3L518.2 599.0L519.0 600.6L519.8 602.2L520.6 603.6L521.3 604.9L522.1 606.2L522.9 607.3L523.7 608.4L524.4 609.4L525.2 610.3L526.0 611.2L526.8 612.0L527.5 612.8L528.3 613.5L529.1 614.2L529.9 614.9L530.6 615.5L531.4 616.0L532.2 616.6L533.0 617.1L533.7 617.6L534.5 618.1L535.3 618.5L536.1 618.9L536.8 619.3L537.6 619.7L538.4 620.1L539.2 620.4L539.9 620.7L540.7 621.0L541.5 621.3L542.3 621.6L543.0 621.8L543.8 622.1L544.6 622.3L545.4 622.5L546.1 622.8L546.9 623.0L547.7 623.2L548.5 623.4L549.2 623.5L550.0 623.7L550.8 623.9L551.6 624.1L552.3 624.3L553.1 624.5L553.9 624.6L554.7 624.8L555.4 625.0L556.2 625.1L557.0 625.3L557.8 625.5L558.5 625.6L559.3 625.8L560.1 625.9L560.9 626.1L561.6 626.2L562.4 626.4L563.2 626.5L564.0 626.7L564.7 626.8L565.5 626.9L566.3 627.1L567.1 627.2L567.8 627.3L568.6 627.5L569.4 627.6L570.2 627.7L570.9 627.8L571.7 628.0L572.5 628.1L573.3 628.2L574.0 628.3L574.8 628.4L575.6 628.5L576.4 628.7L577.1 628.8L577.9 628.9L578.7 629.0L579.4 629.1L580.2 629.2L581.0 629.3L581.8 629.4L582.5 629.5L583.3 629.6L584.1 629.7L584.9 629.8L585.6 629.8L586.4 629.9L587.2 630.0L588.0 630.1L588.7 630.2L589.5 630.3L590.3 630.4L591.1 630.4L591.8 630.5L592.6 630.6L593.4 630.7L594.2 630.8L594.9 630.8L595.7 630.9L596.5 631.0L597.3 631.1L598.0 631.1L598.8 631.2L599.6 631.3L600.4 631.3L601.1 631.4L601.9 631.5L602.7 631.5L603.5 631.6L604.2 631.7L605.0 631.7L605.8 631.8L606.6 631.9L607.3 631.9L608.1 632.0L608.9 632.0L609.7 632.1L610.4 632.2L611.2 632.2L612.0 632.3L612.8 632.3L613.5 632.4L614.3 632.5L615.1 632.5L615.9 632.6L616.6 632.6L617.4 632.7L618.2 632.7L619.0 632.8L619.7 632.8L620.5 632.9L621.3 632.9L622.1 633.0L622.8 633.0L623.6 633.1L624.4 633.2L625.2 633.2L625.9 633.2L626.7 633.3L627.5 633.3L628.3 633.4L629.0 633.4L629.8 633.5L630.6 633.5L631.4 633.6L632.1 633.6L632.9 633.7L633.7 633.7L634.5 633.8L635.2 633.8L636.0 633.8L636.8 633.9L637.6 633.9L638.3 634.0L639.1 634.0L639.9 634.1L640.6 634.1L641.4 634.1L642.2 634.2L643.0 634.2L643.7 634.3L644.5 634.3L645.3 634.3L646.1 634.4L646.8 634.4L647.6 634.4L648.4 634.5L649.2 634.5L649.9 634.5L650.7 634.6L651.5 634.6L652.3 634.7L653.0 634.7L653.8 634.7L654.6 634.8L655.4 634.8L656.1 634.8L656.9 634.8L657.7 634.9L658.5 634.9L659.2 634.9L660.0 635.0L660.8 635.0L661.6 635.0L662.3 635.1L663.1 635.1L663.9 635.1L664.7 635.1L665.4 635.2L666.2 635.2L667.0 635.2L667.8 635.3L668.5 635.3L669.3 635.3L670.1 635.3L670.9 635.4L671.6 635.4L672.4 635.4L673.2 635.4L674.0 635.5L674.7 635.5L675.5 635.5L676.3 635.5L677.1 635.5L677.8 635.6L678.6 635.6L679.4 635.6L680.2 635.6L680.9 635.7L681.7 635.7L682.5 635.7L683.3 635.7L684.0 635.7L684.8 635.8L685.6 635.8L686.4 635.8L687.1 635.8L687.9 635.8L688.7 635.9L689.5 635.9L690.2 635.9L691.0 635.9L691.8 635.9L692.6 635.9L693.3 636.0L694.1 636.0L694.9 636.0L695.7 636.0L696.4 636.0L697.2 636.0L698.0 636.1L698.8 636.1L699.5 636.1L700.3 636.1L701.1 636.1L701.9 636.1L702.6 636.1L703.4 636.2L704.2 636.2L704.9 636.2L705.7 636.2L706.5 636.2L707.3 636.2L708.0 636.2L708.8 636.2L709.6 636.3L710.4 636.3L711.1 636.3L711.9 636.3L712.7 636.3L713.5 636.3L714.2 636.3L715.0 636.3L715.8 636.3L716.6 636.3L717.3 636.4L718.1 636.4L718.9 636.4L719.7 636.4L720.4 636.4L721.2 636.4L722.0 636.4L722.8 636.4L723.5 636.4L724.3 636.4L725.1 636.4L725.9 636.5L726.6 636.5L727.4 636.5L728.2 636.5L729.0 636.5L729.7 636.5L730.5 636.5L731.3 636.5L732.1 636.5L732.8 636.5L733.6 636.5L734.4 636.5L735.2 636.5L735.9 636.6L736.7 636.6L737.5 636.6L738.3 636.6L739.0 636.6L739.8 636.6L740.6 636.6L741.4 636.6L742.1 636.6L742.9 636.6L743.7 636.6L744.5 636.6L745.2 636.6L746.0 636.6L746.8 636.6L747.6 636.6L748.3 636.6L749.1 636.6L749.9 636.7L750.7 636.7L751.4 636.7L752.2 636.7L753.0 636.7L753.8 636.7L754.5 636.7L755.3 636.7L756.1 636.7L756.9 636.7L757.6 636.7L758.4 636.7L759.2 636.7L760.0 636.7L760.7 636.7L761.5 636.7L762.3 636.7L763.1 636.7L763.8 636.7L764.6 636.7L765.4 636.7L766.1 636.7L766.9 636.8L767.7 636.8L768.5 636.8L769.2 636.8L770.0 636.8L770.8 636.8L771.6 636.8L772.3 636.8L773.1 636.8L773.9 636.8L774.7 636.8L775.4 636.8L776.2 636.8L777.0 636.8L777.8 636.8L778.5 636.8L779.3 636.8L780.1 636.8L780.9 636.8L781.6 636.8L782.4 636.8L783.2 636.8L784.0 636.8L784.7 636.9L785.5 636.9L786.3 636.9L787.1 636.9L787.8 636.9L788.6 636.9L789.4 636.9L790.2 636.9L790.9 636.9L791.7 636.9L792.5 636.9L793.3 636.9L794.0 636.9L794.8 636.9L795.6 636.9L796.4 636.9L797.1 636.9L797.9 637.0L798.7 637.0L799.5 637.0L800.2 637.0L801.0 637.0L801.8 637.0L802.6 637.0L803.3 637.0L804.1 637.0L804.9 637.0L805.7 637.0L806.4 637.0L807.2 637.0L808.0 637.0L808.8 637.1L809.5 637.1L810.3 637.1L811.1 637.1L811.9 637.1L812.6 637.1L813.4 637.1L814.2 637.1L815.0 637.1L815.7 637.1L816.5 637.1L817.3 637.2L818.1 637.2L818.8 637.2L819.6 637.2L820.4 637.2L821.2 637.2L821.9 637.2L822.7 637.2L823.5 637.2L824.3 637.3L825.0 637.3L825.8 637.3" fill="none" stroke="#ff0000" stroke-width="3.0" stroke-linejoin="round" stroke-linecap="butt"/>
<path d="M516.7 481.5L517.5 480.2L518.2 478.9L519.0 477.6L519.8 476.4L520.6 475.2L521.3 474.1L522.1 473.0L522.9 472.0L523.7 471.0L524.4 470.0L525.2 469.1L526.0 468.2L526.8 467.3L527.5 466.5L528.3 465.7L529.1 464.9L529.9 464.2L530.6 463.5L531.4 462.8L532.2 462.2L533.0 461.6L533.7 461.0L534.5 460.5L535.3 459.9L536.1 459.4L536.8 459.0L537.6 458.5L538.4 458.1L539.2 457.6L539.9 457.2L540.7 456.8L541.5 456.5L542.3 456.1L543.0 455.8L543.8 455.5L544.6 455.2L545.4 454.9L546.1 454.6L546.9 454.3L547.7 454.0L548.5 453.8L549.2 453.5L550.0 453.3L550.8 453.0L551.6 452.8L552.3 452.6L553.1 452.3L553.9 452.1L554.7 451.9L555.4 451.7L556.2 451.5L557.0 451.3L557.8 451.1L558.5 450.9L559.3 450.7L560.1 450.5L560.9 450.4L561.6 450.2L562.4 450.0L563.2 449.9L564.0 449.7L564.7 449.5L565.5 449.4L566.3 449.2L567.1 449.1L567.8 449.0L568.6 448.8L569.4 448.7L570.2 448.6L570.9 448.4L571.7 448.3L572.5 448.2L573.3 448.1L574.0 448.0L574.8 447.8L575.6 447.7L576.4 447.6L577.1 447.5L577.9 447.4L578.7 447.4L579.4 447.3L580.2 447.2L581.0 447.1L581.8 447.0L582.5 446.9L583.3 446.8L584.1 446.8L584.9 446.7L585.6 446.6L586.4 446.6L587.2 446.5L588.0 446.4L588.7 446.4L589.5 446.3L590.3 446.2L591.1 446.2L591.8 446.1L592.6 446.1L593.4 446.0L594.2 446.0L594.9 445.9L595.7 445.9L596.5 445.8L597.3 445.8L598.0 445.7L598.8 445.7L599.6 445.6L600.4 445.6L601.1 445.6L601.9 445.5L602.7 445.5L603.5 445.4L604.2 445.4L605.0 445.4L605.8 445.3L606.6 445.3L607.3 445.3L608.1 445.2L608.9 445.2L609.7 445.2L610.4 445.1L611.2 445.1L612.0 445.1L612.8 445.0L613.5 445.0L614.3 444.9L615.1 444.9L615.9 444.9L616.6 444.8L617.4 444.8L618.2 444.8L619.0 444.7L619.7 444.7L620.5 444.7L621.3 444.6L622.1 444.6L622.8 444.6L623.6 444.5L624.4 444.5L625.2 444.5L625.9 444.4L626.7 444.4L627.5 444.4L628.3 444.3L629.0 444.3L629.8 444.3L630.6 444.2L631.4 444.2L632.1 444.2L632.9 444.1L633.7 444.1L634.5 444.1L635.2 444.1L636.0 444.0L636.8 444.0L637.6 444.0L638.3 443.9L639.1 443.9L639.9 443.9L640.6 443.8L641.4 443.8L642.2 443.8L643.0 443.7L643.7 443.7L644.5 443.7L645.3 443.7L646.1 443.6L646.8 443.6L647.6 443.6L648.4 443.5L649.2 443.5L649.9 443.5L650.7 443.4L651.5 443.4L652.3 443.4L653.0 443.4L653.8 443.3L654.6 443.3L655.4 443.3L656.1 443.2L656.9 443.2L657.7 443.2L658.5 443.2L659.2 443.1L660.0 443.1L660.8 443.1L661.6 443.0L662.3 443.0L663.1 443.0L663.9 443.0L664.7 442.9L665.4 442.9L666.2 442.9L667.0 442.9L667.8 442.8L668.5 442.8L669.3 442.8L670.1 442.8L670.9 442.7L671.6 442.7L672.4 442.7L673.2 442.7L674.0 442.6L674.7 442.6L675.5 442.6L676.3 442.6L677.1 442.5L677.8 442.5L678.6 442.5L679.4 442.5L680.2 442.4L680.9 442.4L681.7 442.4L682.5 442.4L683.3 442.3L684.0 442.3L684.8 442.3L685.6 442.3L686.4 442.2L687.1 442.2L687.9 442.2L688.7 442.2L689.5 442.1L690.2 442.1L691.0 442.1L691.8 442.1L692.6 442.1L693.3 442.0L694.1 442.0L694.9 442.0L695.7 442.0L696.4 441.9L697.2 441.9L698.0 441.9L698.8 441.9L699.5 441.9L700.3 441.8L701.1 441.8L701.9 441.8L702.6 441.8L703.4 441.8L704.2 441.7L704.9 441.7L705.7 441.7L706.5 441.7L707.3 441.6L708.0 441.6L708.8 441.6L709.6 441.6L710.4 441.6L711.1 441.6L711.9 441.5L712.7 441.5L713.5 441.5L714.2 441.5L715.0 441.5L715.8 441.4L716.6 441.4L717.3 441.4L718.1 441.4L718.9 441.4L719.7 441.3L720.4 441.3L721.2 441.3L722.0 441.3L722.8 441.3L723.5 441.3L724.3 441.2L725.1 441.2L725.9 441.2L726.6 441.2L727.4 441.2L728.2 441.2L729.0 441.1L729.7 441.1L730.5 441.1L731.3 441.1L732.1 441.1L732.8 441.1L733.6 441.0L734.4 441.0L735.2 441.0L735.9 441.0L736.7 441.0L737.5 441.0L738.3 441.0L739.0 440.9L739.8 440.9L740.6 440.9L741.4 440.9L742.1 440.9L742.9 440.9L743.7 440.8L744.5 440.8L745.2 440.8L746.0 440.8L746.8 440.8L747.6 440.8L748.3 440.8L749.1 440.8L749.9 440.7L750.7 440.7L751.4 440.7L752.2 440.7L753.0 440.7L753.8 440.7L754.5 440.7L755.3 440.7L756.1 440.6L756.9 440.6L757.6 440.6L758.4 440.6L759.2 440.6L760.0 440.6L760.7 440.6L761.5 440.6L762.3 440.5L763.1 440.5L763.8 440.5L764.6 440.5L765.4 440.5L766.1 440.5L766.9 440.5L767.7 440.5L768.5 440.5L769.2 440.5L770.0 440.4L770.8 440.4L771.6 440.4L772.3 440.4L773.1 440.4L773.9 440.4L774.7 440.4L775.4 440.4L776.2 440.4L777.0 440.4L777.8 440.4L778.5 440.3L779.3 440.3L780.1 440.3L780.9 440.3L781.6 440.3L782.4 440.3L783.2 440.3L784.0 440.3L784.7 440.3L785.5 440.3L786.3 440.3L787.1 440.3L787.8 440.3L788.6 440.3L789.4 440.2L790.2 440.2L790.9 440.2L791.7 440.2L792.5 440.2L793.3 440.2L794.0 440.2L794.8 440.2L795.6 440.2L796.4 440.2L797.1 440.2L797.9 440.2L798.7 440.2L799.5 440.2L800.2 440.2L801.0 440.2L801.8 440.2L802.6 440.2L803.3 440.2L804.1 440.2L804.9 440.1L805.7 440.1L806.4 440.1L807.2 440.1L808.0 440.1L808.8 440.1L809.5 440.1L810.3 440.1L811.1 440.1L811.9 440.1L812.6 440.1L813.4 440.1L814.2 440.1L815.0 440.1L815.7 440.1L816.5 440.1L817.3 440.1L818.1 440.1L818.8 440.1L819.6 440.1L820.4 440.1L821.2 440.1L821.9 440.1L822.7 440.1L823.5 440.1L824.3 440.1L825.0 440.1L825.8 440.1" fill="none" stroke="#7d3a0c" stroke-width="3.0" stroke-linejoin="round" stroke-dasharray="19.60 20.20" stroke-linecap="round" stroke-dashoffset="-6"/>
<path d="M516.7 595.4L517.5 596.9L518.2 598.4L519.0 599.7L519.8 601.0L520.6 602.3L521.3 603.5L522.1 604.7L522.9 605.8L523.7 606.9L524.4 607.9L525.2 608.9L526.0 609.8L526.8 610.7L527.5 611.6L528.3 612.4L529.1 613.2L529.9 613.9L530.6 614.6L531.4 615.3L532.2 615.9L533.0 616.5L533.7 617.1L534.5 617.7L535.3 618.2L536.1 618.7L536.8 619.1L537.6 619.6L538.4 620.0L539.2 620.4L539.9 620.7L540.7 621.1L541.5 621.4L542.3 621.7L543.0 622.0L543.8 622.3L544.6 622.6L545.4 622.9L546.1 623.1L546.9 623.4L547.7 623.6L548.5 623.8L549.2 624.0L550.0 624.2L550.8 624.5L551.6 624.7L552.3 624.9L553.1 625.1L553.9 625.2L554.7 625.4L555.4 625.6L556.2 625.8L557.0 626.0L557.8 626.2L558.5 626.3L559.3 626.5L560.1 626.7L560.9 626.8L561.6 627.0L562.4 627.1L563.2 627.3L564.0 627.4L564.7 627.6L565.5 627.7L566.3 627.9L567.1 628.0L567.8 628.1L568.6 628.2L569.4 628.4L570.2 628.5L570.9 628.6L571.7 628.7L572.5 628.9L573.3 629.0L574.0 629.1L574.8 629.2L575.6 629.3L576.4 629.4L577.1 629.5L577.9 629.6L578.7 629.7L579.4 629.8L580.2 629.9L581.0 630.0L581.8 630.0L582.5 630.1L583.3 630.2L584.1 630.3L584.9 630.4L585.6 630.4L586.4 630.5L587.2 630.6L588.0 630.7L588.7 630.7L589.5 630.8L590.3 630.9L591.1 630.9L591.8 631.0L592.6 631.1L593.4 631.1L594.2 631.2L594.9 631.3L595.7 631.3L596.5 631.4L597.3 631.4L598.0 631.5L598.8 631.5L599.6 631.6L600.4 631.6L601.1 631.7L601.9 631.7L602.7 631.8L603.5 631.8L604.2 631.9L605.0 631.9L605.8 632.0L606.6 632.0L607.3 632.1L608.1 632.1L608.9 632.2L609.7 632.2L610.4 632.3L611.2 632.3L612.0 632.4L612.8 632.4L613.5 632.4L614.3 632.5L615.1 632.5L615.9 632.6L616.6 632.6L617.4 632.7L618.2 632.7L619.0 632.8L619.7 632.8L620.5 632.8L621.3 632.9L622.1 632.9L622.8 633.0L623.6 633.0L624.4 633.0L625.2 633.1L625.9 633.1L626.7 633.2L627.5 633.2L628.3 633.3L629.0 633.3L629.8 633.3L630.6 633.4L631.4 633.4L632.1 633.4L632.9 633.5L633.7 633.5L634.5 633.6L635.2 633.6L636.0 633.6L636.8 633.7L637.6 633.7L638.3 633.8L639.1 633.8L639.9 633.8L640.6 633.9L641.4 633.9L642.2 633.9L643.0 634.0L643.7 634.0L644.5 634.0L645.3 634.1L646.1 634.1L646.8 634.1L647.6 634.2L648.4 634.2L649.2 634.2L649.9 634.3L650.7 634.3L651.5 634.3L652.3 634.4L653.0 634.4L653.8 634.4L654.6 634.5L655.4 634.5L656.1 634.5L656.9 634.6L657.7 634.6L658.5 634.6L659.2 634.7L660.0 634.7L660.8 634.7L661.6 634.8L662.3 634.8L663.1 634.8L663.9 634.8L664.7 634.9L665.4 634.9L666.2 634.9L667.0 635.0L667.8 635.0L668.5 635.0L669.3 635.1L670.1 635.1L670.9 635.1L671.6 635.1L672.4 635.2L673.2 635.2L674.0 635.2L674.7 635.2L675.5 635.3L676.3 635.3L677.1 635.3L677.8 635.3L678.6 635.4L679.4 635.4L680.2 635.4L680.9 635.5L681.7 635.5L682.5 635.5L683.3 635.5L684.0 635.5L684.8 635.6L685.6 635.6L686.4 635.6L687.1 635.6L687.9 635.7L688.7 635.7L689.5 635.7L690.2 635.7L691.0 635.8L691.8 635.8L692.6 635.8L693.3 635.8L694.1 635.8L694.9 635.9L695.7 635.9L696.4 635.9L697.2 635.9L698.0 636.0L698.8 636.0L699.5 636.0L700.3 636.0L701.1 636.0L701.9 636.1L702.6 636.1L703.4 636.1L704.2 636.1L704.9 636.1L705.7 636.2L706.5 636.2L707.3 636.2L708.0 636.2L708.8 636.2L709.6 636.2L710.4 636.3L711.1 636.3L711.9 636.3L712.7 636.3L713.5 636.3L714.2 636.4L715.0 636.4L715.8 636.4L716.6 636.4L717.3 636.4L718.1 636.4L718.9 636.4L719.7 636.5L720.4 636.5L721.2 636.5L722.0 636.5L722.8 636.5L723.5 636.5L724.3 636.6L725.1 636.6L725.9 636.6L726.6 636.6L727.4 636.6L728.2 636.6L729.0 636.6L729.7 636.7L730.5 636.7L731.3 636.7L732.1 636.7L732.8 636.7L733.6 636.7L734.4 636.7L735.2 636.7L735.9 636.8L736.7 636.8L737.5 636.8L738.3 636.8L739.0 636.8L739.8 636.8L740.6 636.8L741.4 636.8L742.1 636.9L742.9 636.9L743.7 636.9L744.5 636.9L745.2 636.9L746.0 636.9L746.8 636.9L747.6 636.9L748.3 636.9L749.1 636.9L749.9 637.0L750.7 637.0L751.4 637.0L752.2 637.0L753.0 637.0L753.8 637.0L754.5 637.0L755.3 637.0L756.1 637.0L756.9 637.0L757.6 637.0L758.4 637.1L759.2 637.1L760.0 637.1L760.7 637.1L761.5 637.1L762.3 637.1L763.1 637.1L763.8 637.1L764.6 637.1L765.4 637.1L766.1 637.1L766.9 637.1L767.7 637.1L768.5 637.1L769.2 637.2L770.0 637.2L770.8 637.2L771.6 637.2L772.3 637.2L773.1 637.2L773.9 637.2L774.7 637.2L775.4 637.2L776.2 637.2L777.0 637.2L777.8 637.2L778.5 637.2L779.3 637.2L780.1 637.2L780.9 637.2L781.6 637.2L782.4 637.2L783.2 637.2L784.0 637.2L784.7 637.2L785.5 637.2L786.3 637.3L787.1 637.3L787.8 637.3L788.6 637.3L789.4 637.3L790.2 637.3L790.9 637.3L791.7 637.3L792.5 637.3L793.3 637.3L794.0 637.3L794.8 637.3L795.6 637.3L796.4 637.3L797.1 637.3L797.9 637.3L798.7 637.3L799.5 637.3L800.2 637.3L801.0 637.3L801.8 637.3L802.6 637.3L803.3 637.3L804.1 637.3L804.9 637.3L805.7 637.3L806.4 637.3L807.2 637.3L808.0 637.3L808.8 637.3L809.5 637.3L810.3 637.3L811.1 637.3L811.9 637.3L812.6 637.3L813.4 637.3L814.2 637.3L815.0 637.3L815.7 637.3L816.5 637.3L817.3 637.3L818.1 637.3L818.8 637.3L819.6 637.3L820.4 637.3L821.2 637.3L821.9 637.3L822.7 637.3L823.5 637.3L824.3 637.3L825.0 637.3L825.8 637.3" fill="none" stroke="#7d3a0c" stroke-width="3.0" stroke-linejoin="round" stroke-dasharray="19.60 20.20" stroke-linecap="round" stroke-dashoffset="-6"/>
<path d="M516.7 481.5L517.5 480.5L518.2 479.5L519.0 478.5L519.8 477.6L520.6 476.7L521.3 475.8L522.1 474.9L522.9 474.1L523.7 473.3L524.4 472.5L525.2 471.7L526.0 471.0L526.8 470.3L527.5 469.6L528.3 468.9L529.1 468.3L529.9 467.7L530.6 467.1L531.4 466.5L532.2 466.0L533.0 465.4L533.7 464.9L534.5 464.4L535.3 463.9L536.1 463.4L536.8 463.0L537.6 462.6L538.4 462.2L539.2 461.8L539.9 461.4L540.7 461.0L541.5 460.7L542.3 460.3L543.0 460.0L543.8 459.7L544.6 459.4L545.4 459.1L546.1 458.8L546.9 458.6L547.7 458.3L548.5 458.1L549.2 457.9L550.0 457.7L550.8 457.4L551.6 457.3L552.3 457.1L553.1 456.9L553.9 456.7L554.7 456.6L555.4 456.4L556.2 456.3L557.0 456.1L557.8 456.0L558.5 455.9L559.3 455.8L560.1 455.7L560.9 455.6L561.6 455.5L562.4 455.4L563.2 455.3L564.0 455.2L564.7 455.1L565.5 455.0L566.3 454.9L567.1 454.9L567.8 454.8L568.6 454.7L569.4 454.7L570.2 454.6L570.9 454.6L571.7 454.5L572.5 454.4L573.3 454.4L574.0 454.3L574.8 454.3L575.6 454.2L576.4 454.2L577.1 454.2L577.9 454.1L578.7 454.1L579.4 454.0L580.2 454.0L581.0 453.9L581.8 453.9L582.5 453.9L583.3 453.8L584.1 453.8L584.9 453.8L585.6 453.7L586.4 453.7L587.2 453.6L588.0 453.6L588.7 453.6L589.5 453.5L590.3 453.5L591.1 453.5L591.8 453.4L592.6 453.4L593.4 453.3L594.2 453.3L594.9 453.3L595.7 453.2L596.5 453.2L597.3 453.1L598.0 453.1L598.8 453.1L599.6 453.0L600.4 453.0L601.1 452.9L601.9 452.9L602.7 452.9L603.5 452.8L604.2 452.8L605.0 452.7L605.8 452.7L606.6 452.7L607.3 452.6L608.1 452.6L608.9 452.5L609.7 452.5L610.4 452.4L611.2 452.4L612.0 452.4L612.8 452.3L613.5 452.3L614.3 452.2L615.1 452.2L615.9 452.1L616.6 452.1L617.4 452.1L618.2 452.0L619.0 452.0L619.7 451.9L620.5 451.9L621.3 451.8L622.1 451.8L622.8 451.7L623.6 451.7L624.4 451.6L625.2 451.6L625.9 451.5L626.7 451.5L627.5 451.4L628.3 451.4L629.0 451.3L629.8 451.3L630.6 451.2L631.4 451.2L632.1 451.1L632.9 451.1L633.7 451.0L634.5 451.0L635.2 450.9L636.0 450.9L636.8 450.8L637.6 450.8L638.3 450.7L639.1 450.7L639.9 450.6L640.6 450.6L641.4 450.5L642.2 450.5L643.0 450.4L643.7 450.3L644.5 450.3L645.3 450.2L646.1 450.2L646.8 450.1L647.6 450.0L648.4 450.0L649.2 449.9L649.9 449.9L650.7 449.8L651.5 449.7L652.3 449.7L653.0 449.6L653.8 449.6L654.6 449.5L655.4 449.4L656.1 449.4L656.9 449.3L657.7 449.2L658.5 449.2L659.2 449.1L660.0 449.0L660.8 449.0L661.6 448.9L662.3 448.8L663.1 448.8L663.9 448.7L664.7 448.6L665.4 448.5L666.2 448.5L667.0 448.4L667.8 448.3L668.5 448.2L669.3 448.2L670.1 448.1L670.9 448.0L671.6 447.9L672.4 447.9L673.2 447.8L674.0 447.7L674.7 447.6L675.5 447.6L676.3 447.5L677.1 447.4L677.8 447.3L678.6 447.2L679.4 447.2L680.2 447.1L680.9 447.0L681.7 446.9L682.5 446.8L683.3 446.7L684.0 446.7L684.8 446.6L685.6 446.5L686.4 446.4L687.1 446.3L687.9 446.2L688.7 446.1L689.5 446.1L690.2 446.0L691.0 445.9L691.8 445.8L692.6 445.7L693.3 445.6L694.1 445.5L694.9 445.4L695.7 445.3L696.4 445.2L697.2 445.2L698.0 445.1L698.8 445.0L699.5 444.9L700.3 444.8L701.1 444.7L701.9 444.6L702.6 444.5L703.4 444.4L704.2 444.3L704.9 444.2L705.7 444.1L706.5 444.0L707.3 443.9L708.0 443.9L708.8 443.8L709.6 443.7L710.4 443.6L711.1 443.5L711.9 443.4L712.7 443.3L713.5 443.2L714.2 443.1L715.0 443.0L715.8 442.9L716.6 442.8L717.3 442.7L718.1 442.6L718.9 442.5L719.7 442.4L720.4 442.3L721.2 442.2L722.0 442.1L722.8 442.0L723.5 441.9L724.3 441.8L725.1 441.7L725.9 441.6L726.6 441.5L727.4 441.4L728.2 441.3L729.0 441.2L729.7 441.1L730.5 441.0L731.3 440.9L732.1 440.8L732.8 440.7L733.6 440.6L734.4 440.5L735.2 440.4L735.9 440.4L736.7 440.3L737.5 440.2L738.3 440.1L739.0 440.0L739.8 439.9L740.6 439.8L741.4 439.7L742.1 439.6L742.9 439.5L743.7 439.4L744.5 439.3L745.2 439.2L746.0 439.1L746.8 439.0L747.6 438.9L748.3 438.8L749.1 438.7L749.9 438.6L750.7 438.5L751.4 438.4L752.2 438.3L753.0 438.2L753.8 438.1L754.5 438.0L755.3 437.9L756.1 437.8L756.9 437.7L757.6 437.6L758.4 437.5L759.2 437.5L760.0 437.4L760.7 437.3L761.5 437.2L762.3 437.1L763.1 437.0L763.8 436.9L764.6 436.8L765.4 436.7L766.1 436.6L766.9 436.5L767.7 436.4L768.5 436.3L769.2 436.3L770.0 436.2L770.8 436.1L771.6 436.0L772.3 435.9L773.1 435.8L773.9 435.7L774.7 435.6L775.4 435.5L776.2 435.5L777.0 435.4L777.8 435.3L778.5 435.2L779.3 435.1L780.1 435.0L780.9 435.0L781.6 434.9L782.4 434.8L783.2 434.7L784.0 434.6L784.7 434.5L785.5 434.5L786.3 434.4L787.1 434.3L787.8 434.2L788.6 434.1L789.4 434.1L790.2 434.0L790.9 433.9L791.7 433.8L792.5 433.7L793.3 433.7L794.0 433.6L794.8 433.5L795.6 433.4L796.4 433.4L797.1 433.3L797.9 433.2L798.7 433.2L799.5 433.1L800.2 433.0L801.0 432.9L801.8 432.9L802.6 432.8L803.3 432.7L804.1 432.7L804.9 432.6L805.7 432.5L806.4 432.5L807.2 432.4L808.0 432.3L808.8 432.3L809.5 432.2L810.3 432.1L811.1 432.1L811.9 432.0L812.6 432.0L813.4 431.9L814.2 431.9L815.0 431.8L815.7 431.7L816.5 431.7L817.3 431.6L818.1 431.6L818.8 431.5L819.6 431.5L820.4 431.4L821.2 431.4L821.9 431.3L822.7 431.3L823.5 431.2L824.3 431.2L825.0 431.1L825.8 431.1" fill="none" stroke="#c2690f" stroke-width="3.0" stroke-linejoin="round" stroke-dasharray="24.10 11.60 0.01 9.40 0.01 11.60" stroke-linecap="round"/>
<path d="M516.7 595.4L517.5 596.6L518.2 597.6L519.0 598.7L519.8 599.7L520.6 600.6L521.3 601.6L522.1 602.4L522.9 603.3L523.7 604.1L524.4 604.9L525.2 605.7L526.0 606.4L526.8 607.1L527.5 607.8L528.3 608.4L529.1 609.0L529.9 609.6L530.6 610.2L531.4 610.8L532.2 611.3L533.0 611.8L533.7 612.3L534.5 612.7L535.3 613.2L536.1 613.6L536.8 614.0L537.6 614.4L538.4 614.8L539.2 615.1L539.9 615.5L540.7 615.8L541.5 616.1L542.3 616.4L543.0 616.7L543.8 617.0L544.6 617.3L545.4 617.6L546.1 617.8L546.9 618.1L547.7 618.3L548.5 618.6L549.2 618.8L550.0 619.0L550.8 619.2L551.6 619.5L552.3 619.7L553.1 619.8L553.9 620.0L554.7 620.2L555.4 620.4L556.2 620.5L557.0 620.7L557.8 620.8L558.5 621.0L559.3 621.1L560.1 621.2L560.9 621.4L561.6 621.5L562.4 621.6L563.2 621.7L564.0 621.8L564.7 621.9L565.5 622.0L566.3 622.1L567.1 622.2L567.8 622.3L568.6 622.3L569.4 622.4L570.2 622.5L570.9 622.5L571.7 622.6L572.5 622.7L573.3 622.7L574.0 622.8L574.8 622.8L575.6 622.9L576.4 622.9L577.1 622.9L577.9 623.0L578.7 623.0L579.4 623.1L580.2 623.1L581.0 623.1L581.8 623.2L582.5 623.2L583.3 623.2L584.1 623.3L584.9 623.3L585.6 623.3L586.4 623.4L587.2 623.4L588.0 623.4L588.7 623.5L589.5 623.5L590.3 623.5L591.1 623.6L591.8 623.6L592.6 623.6L593.4 623.7L594.2 623.7L594.9 623.7L595.7 623.8L596.5 623.8L597.3 623.9L598.0 623.9L598.8 623.9L599.6 624.0L600.4 624.0L601.1 624.1L601.9 624.1L602.7 624.2L603.5 624.2L604.2 624.3L605.0 624.3L605.8 624.3L606.6 624.4L607.3 624.4L608.1 624.5L608.9 624.5L609.7 624.6L610.4 624.6L611.2 624.7L612.0 624.7L612.8 624.8L613.5 624.9L614.3 624.9L615.1 625.0L615.9 625.0L616.6 625.1L617.4 625.1L618.2 625.2L619.0 625.2L619.7 625.3L620.5 625.4L621.3 625.4L622.1 625.5L622.8 625.5L623.6 625.6L624.4 625.7L625.2 625.7L625.9 625.8L626.7 625.9L627.5 625.9L628.3 626.0L629.0 626.0L629.8 626.1L630.6 626.2L631.4 626.2L632.1 626.3L632.9 626.4L633.7 626.4L634.5 626.5L635.2 626.6L636.0 626.6L636.8 626.7L637.6 626.8L638.3 626.9L639.1 626.9L639.9 627.0L640.6 627.1L641.4 627.1L642.2 627.2L643.0 627.3L643.7 627.4L644.5 627.4L645.3 627.5L646.1 627.6L646.8 627.7L647.6 627.7L648.4 627.8L649.2 627.9L649.9 628.0L650.7 628.0L651.5 628.1L652.3 628.2L653.0 628.3L653.8 628.3L654.6 628.4L655.4 628.5L656.1 628.6L656.9 628.6L657.7 628.7L658.5 628.8L659.2 628.9L660.0 629.0L660.8 629.0L661.6 629.1L662.3 629.2L663.1 629.3L663.9 629.4L664.7 629.4L665.4 629.5L666.2 629.6L667.0 629.7L667.8 629.8L668.5 629.8L669.3 629.9L670.1 630.0L670.9 630.1L671.6 630.2L672.4 630.3L673.2 630.3L674.0 630.4L674.7 630.5L675.5 630.6L676.3 630.7L677.1 630.8L677.8 630.8L678.6 630.9L679.4 631.0L680.2 631.1L680.9 631.2L681.7 631.3L682.5 631.4L683.3 631.4L684.0 631.5L684.8 631.6L685.6 631.7L686.4 631.8L687.1 631.9L687.9 632.0L688.7 632.0L689.5 632.1L690.2 632.2L691.0 632.3L691.8 632.4L692.6 632.5L693.3 632.6L694.1 632.7L694.9 632.7L695.7 632.8L696.4 632.9L697.2 633.0L698.0 633.1L698.8 633.2L699.5 633.3L700.3 633.4L701.1 633.4L701.9 633.5L702.6 633.6L703.4 633.7L704.2 633.8L704.9 633.9L705.7 634.0L706.5 634.1L707.3 634.1L708.0 634.2L708.8 634.3L709.6 634.4L710.4 634.5L711.1 634.6L711.9 634.7L712.7 634.8L713.5 634.9L714.2 635.0L715.0 635.0L715.8 635.1L716.6 635.2L717.3 635.3L718.1 635.4L718.9 635.5L719.7 635.6L720.4 635.7L721.2 635.8L722.0 635.8L722.8 635.9L723.5 636.0L724.3 636.1L725.1 636.2L725.9 636.3L726.6 636.4L727.4 636.5L728.2 636.6L729.0 636.7L729.7 636.7L730.5 636.8L731.3 636.9L732.1 637.0L732.8 637.1L733.6 637.2L734.4 637.3L735.2 637.4L735.9 637.5L736.7 637.6L737.5 637.6L738.3 637.7L739.0 637.8L739.8 637.9L740.6 638.0L741.4 638.1L742.1 638.2L742.9 638.3L743.7 638.4L744.5 638.5L745.2 638.5L746.0 638.6L746.8 638.7L747.6 638.8L748.3 638.9L749.1 639.0L749.9 639.1L750.7 639.2L751.4 639.3L752.2 639.3L753.0 639.4L753.8 639.5L754.5 639.6L755.3 639.7L756.1 639.8L756.9 639.9L757.6 640.0L758.4 640.1L759.2 640.1L760.0 640.2L760.7 640.3L761.5 640.4L762.3 640.5L763.1 640.6L763.8 640.7L764.6 640.8L765.4 640.9L766.1 640.9L766.9 641.0L767.7 641.1L768.5 641.2L769.2 641.3L770.0 641.4L770.8 641.5L771.6 641.5L772.3 641.6L773.1 641.7L773.9 641.8L774.7 641.9L775.4 642.0L776.2 642.1L777.0 642.2L777.8 642.2L778.5 642.3L779.3 642.4L780.1 642.5L780.9 642.6L781.6 642.7L782.4 642.7L783.2 642.8L784.0 642.9L784.7 643.0L785.5 643.1L786.3 643.2L787.1 643.3L787.8 643.3L788.6 643.4L789.4 643.5L790.2 643.6L790.9 643.7L791.7 643.8L792.5 643.8L793.3 643.9L794.0 644.0L794.8 644.1L795.6 644.2L796.4 644.2L797.1 644.3L797.9 644.4L798.7 644.5L799.5 644.6L800.2 644.6L801.0 644.7L801.8 644.8L802.6 644.9L803.3 645.0L804.1 645.0L804.9 645.1L805.7 645.2L806.4 645.3L807.2 645.4L808.0 645.4L808.8 645.5L809.5 645.6L810.3 645.7L811.1 645.8L811.9 645.8L812.6 645.9L813.4 646.0L814.2 646.1L815.0 646.1L815.7 646.2L816.5 646.3L817.3 646.4L818.1 646.4L818.8 646.5L819.6 646.6L820.4 646.7L821.2 646.7L821.9 646.8L822.7 646.9L823.5 647.0L824.3 647.0L825.0 647.1L825.8 647.2" fill="none" stroke="#c2690f" stroke-width="3.0" stroke-linejoin="round" stroke-dasharray="24.10 11.60 0.01 9.40 0.01 11.60" stroke-linecap="round"/>
</g>
<path d="M551.0 693.8v-4.8M551.0 384.5v4.8M585.4 693.8v-4.8M585.4 384.5v4.8M619.7 693.8v-4.8M619.7 384.5v4.8M654.1 693.8v-4.8M654.1 384.5v4.8M688.4 693.8v-4.8M688.4 384.5v4.8M722.8 693.8v-4.8M722.8 384.5v4.8M757.1 693.8v-4.8M757.1 384.5v4.8M791.5 693.8v-4.8M791.5 384.5v4.8M516.7 655.1h4.8M825.8 655.1h-4.8M516.7 616.5h4.8M825.8 616.5h-4.8M516.7 577.8h4.8M825.8 577.8h-4.8M516.7 539.1h4.8M825.8 539.1h-4.8M516.7 500.5h4.8M825.8 500.5h-4.8M516.7 461.8h4.8M825.8 461.8h-4.8M516.7 423.2h4.8M825.8 423.2h-4.8" stroke="#111" stroke-width="1" fill="none"/><path d="M516.70 384.00V694.30M825.80 384.00V694.30M516.20 384.50H826.30M516.20 693.80H826.30" fill="none" stroke="#000" stroke-width="1.1"/><g font-size="16.7" font-weight="bold" fill="#000"><text x="507.1" y="699.4" text-anchor="end">0</text><text x="507.1" y="660.7" text-anchor="end">0.05</text><text x="507.1" y="622.1" text-anchor="end">0.1</text><text x="507.1" y="583.4" text-anchor="end">0.15</text><text x="507.1" y="544.8" text-anchor="end">0.2</text><text x="507.1" y="506.1" text-anchor="end">0.25</text><text x="507.1" y="467.4" text-anchor="end">0.3</text><text x="507.1" y="428.8" text-anchor="end">0.35</text><text x="507.1" y="390.1" text-anchor="end">0.4</text><text x="518.7" y="716.0" text-anchor="middle">0</text><text x="587.4" y="716.0" text-anchor="middle">0.1</text><text x="656.1" y="716.0" text-anchor="middle">0.2</text><text x="724.8" y="716.0" text-anchor="middle">0.3</text><text x="793.5" y="716.0" text-anchor="middle">0.4</text></g>
<g font-size="24.2" fill="#000">
<text x="120.9" y="74.9">DU</text>
<text x="534.0" y="79.1">DU</text>
</g>
<text x="205.8" y="364.4" font-size="26.5" font-family="'Liberation Serif', serif">ρ</text><text x="223.2" y="364.4" font-size="22.8" font-weight="bold">(fm</text><rect x="257.4" y="350.0" width="8.3" height="2.0" fill="#000"/><text x="266.3" y="354.7" font-size="16.2" font-weight="bold">3</text><text x="276.6" y="364.4" font-size="22.8" font-weight="bold">)</text>
<text x="627.7" y="364.4" font-size="26.5" font-family="'Liberation Serif', serif">ρ</text><text x="645.1" y="364.4" font-size="22.8" font-weight="bold">(fm</text><rect x="679.3" y="350.0" width="8.3" height="2.0" fill="#000"/><text x="688.2" y="354.7" font-size="16.2" font-weight="bold">3</text><text x="698.5" y="364.4" font-size="22.8" font-weight="bold">)</text>
<text x="208.7" y="747.0" font-size="26.5" font-family="'Liberation Serif', serif">ρ</text><text x="226.1" y="747.0" font-size="22.8" font-weight="bold">(fm</text><rect x="260.3" y="732.6" width="8.3" height="2.0" fill="#000"/><text x="269.2" y="737.3" font-size="16.2" font-weight="bold">3</text><text x="278.6" y="747.0" font-size="22.8" font-weight="bold">)</text>
<text x="635.0" y="743.7" font-size="26.5" font-family="'Liberation Serif', serif">ρ</text><text x="652.4" y="743.7" font-size="22.8" font-weight="bold">(fm</text><rect x="686.6" y="729.3" width="8.3" height="2.0" fill="#000"/><text x="694.6" y="734.0" font-size="16.2" font-weight="bold">3</text><text x="699.3" y="743.7" font-size="22.8" font-weight="bold">)</text>
<text transform="translate(17.0 164.2) rotate(-90)" font-size="23" text-anchor="middle" font-weight="bold">Y</text>
<text transform="translate(22.7 152.3) rotate(-90)" font-size="18" text-anchor="middle" font-weight="bold">p</text>
<text transform="translate(435.1 167.3) rotate(-90)" font-size="23" text-anchor="middle" font-weight="bold">Y</text>
<text transform="translate(445.6 153.1) rotate(-90)" font-size="18" text-anchor="middle" font-weight="bold">p</text>
<text transform="translate(18.1 586.4) rotate(-90)" font-size="23" text-anchor="middle" font-weight="bold">Y</text><text transform="translate(26.2 577.5) rotate(-90)" font-size="16" text-anchor="middle" font-weight="bold">i</text><text transform="translate(18.1 565.2) rotate(-90)" font-size="22.5" text-anchor="middle" font-weight="bold">(</text><text transform="translate(18.4 553.7) rotate(-90)" font-size="24.5" text-anchor="middle" font-family="'Liberation Serif', serif">ν</text><text transform="translate(26.0 546.7) rotate(-90)" font-size="17.5" text-anchor="middle" font-weight="bold">e</text><text transform="translate(10.2 536.6) rotate(-90)" font-size="17" text-anchor="middle" font-weight="bold">−</text><text transform="translate(18.1 533.6) rotate(-90)" font-size="22.5" text-anchor="middle" font-weight="bold">,</text><text transform="translate(18.1 512.3) rotate(-90)" font-size="22.5" text-anchor="middle" font-weight="bold">p</text><text transform="translate(18.1 499.6) rotate(-90)" font-size="22.5" text-anchor="middle" font-weight="bold">)</text>
<text transform="translate(445.2 582.4) rotate(-90)" font-size="23" text-anchor="middle" font-weight="bold">Y</text><text transform="translate(453.3 573.5) rotate(-90)" font-size="16" text-anchor="middle" font-weight="bold">i</text><text transform="translate(445.2 561.2) rotate(-90)" font-size="22.5" text-anchor="middle" font-weight="bold">(</text><text transform="translate(445.5 549.7) rotate(-90)" font-size="24.5" text-anchor="middle" font-family="'Liberation Serif', serif">ν</text><text transform="translate(453.1 542.7) rotate(-90)" font-size="17.5" text-anchor="middle" font-weight="bold">e</text><text transform="translate(437.3 532.6) rotate(-90)" font-size="17" text-anchor="middle" font-weight="bold">−</text><text transform="translate(445.2 529.6) rotate(-90)" font-size="22.5" text-anchor="middle" font-weight="bold">,</text><text transform="translate(445.2 508.3) rotate(-90)" font-size="22.5" text-anchor="middle" font-weight="bold">p</text><text transform="translate(445.2 495.6) rotate(-90)" font-size="22.5" text-anchor="middle" font-weight="bold">)</text>
<text x="139.2" y="433.9" font-size="23.5" font-weight="bold">p</text>
<text x="136.5" y="664.3" font-size="25" font-family="'Liberation Serif', serif">ν</text><text x="147.5" y="670.6" font-size="18" font-weight="bold">e</text><text x="157.1" y="655.5" font-size="18" font-weight="bold">−</text>
<text x="553.3" y="437.5" font-size="23.5" font-weight="bold">p</text>
<text x="562.6" y="660.4" font-size="25" font-family="'Liberation Serif', serif">ν</text><text x="573.6" y="666.7" font-size="18" font-weight="bold">e</text><text x="583.2" y="651.6" font-size="18" font-weight="bold">−</text>
<text x="198.9" y="500.7" font-size="21.2" font-weight="bold" fill="#00cdcd" text-anchor="end">SIII</text>
<path d="M215.20 494.60H217.00M223.80 494.60H225.60M232.30 494.60H234.10M240.80 494.60H242.60M249.30 494.60H251.10M257.90 494.60H259.70M266.40 494.60H268.20" stroke="#00cdcd" stroke-width="3.0" fill="none" stroke-linecap="round"/>
<text x="198.6" y="523.7" font-size="21.2" font-weight="bold" fill="#ff00ff" text-anchor="end">SGII</text>
<path d="M215.70 517.80H224.50M232.70 517.80H241.40M249.80 517.80H258.40M266.90 517.80H271.90" stroke="#ff00ff" stroke-width="3.0" fill="none" stroke-linecap="round"/>
<text x="195.3" y="545.2" font-size="21.2" font-weight="bold" fill="#000000" text-anchor="end">SLy230a</text>
<path d="M214.20 537.60H270.70" stroke="#000000" stroke-width="3.0" fill="none"/>
<text x="195.3" y="569.0" font-size="21.2" font-weight="bold" fill="#0000ff" text-anchor="end">NRAPR</text>
<path d="M214.80 561.20H227.40M240.20 561.20H252.80M265.70 561.20H270.60" stroke="#0000ff" stroke-width="3.0" fill="none" stroke-linecap="round"/>
<text x="198.9" y="592.6" font-size="21.2" font-weight="bold" fill="#aa00aa" text-anchor="end">LNS</text>
<path d="M215.70 584.70H239.80M251.90 584.70h1.4M265.70 584.70H271.60" stroke="#aa00aa" stroke-width="3.0" fill="none" stroke-linecap="round"/>
<text x="724.4" y="500.2" font-size="21.2" font-weight="bold" fill="#0a8a0a" text-anchor="end">NL3</text>
<path d="M735.70 493.70H745.40M755.60 493.70H765.30M775.50 493.70H785.20" stroke="#0a8a0a" stroke-width="3.0" fill="none" stroke-linecap="round"/>
<text x="723.6" y="523.3" font-size="21.2" font-weight="bold" fill="#00cd00" text-anchor="end">NL<tspan font-family="'Liberation Serif', serif" font-weight="normal" font-size="23.5">δ</tspan></text>
<path d="M737.30 515.10H754.20M762.90 515.10h1.4M772.90 515.10H789.80" stroke="#00cd00" stroke-width="3.0" fill="none" stroke-linecap="round"/>
<text x="720.0" y="546.5" font-size="21.2" font-weight="bold" fill="#ff0000" text-anchor="end">TW</text>
<path d="M735.70 538.40H791.80" stroke="#ff0000" stroke-width="3.0" fill="none"/>
<text x="719.2" y="566.2" font-size="21.2" font-weight="bold" fill="#7d3a0c" text-anchor="end">ME2</text>
<path d="M736.50 559.70H756.10M776.30 559.70H792.40" stroke="#7d3a0c" stroke-width="3.0" fill="none" stroke-linecap="round"/>
<text x="725.5" y="587.4" font-size="21.2" font-weight="bold" fill="#c2690f" text-anchor="end">DDH<tspan dx="3.2"><tspan font-family="'Liberation Serif', serif" font-weight="normal" font-size="23.5">δ</tspan></tspan></text>
<path d="M737.30 580.00H761.40M772.30 580.00h1.4M781.70 580.00h1.4" stroke="#c2690f" stroke-width="3.0" fill="none" stroke-linecap="round"/>
</svg>
</body>
</html>
